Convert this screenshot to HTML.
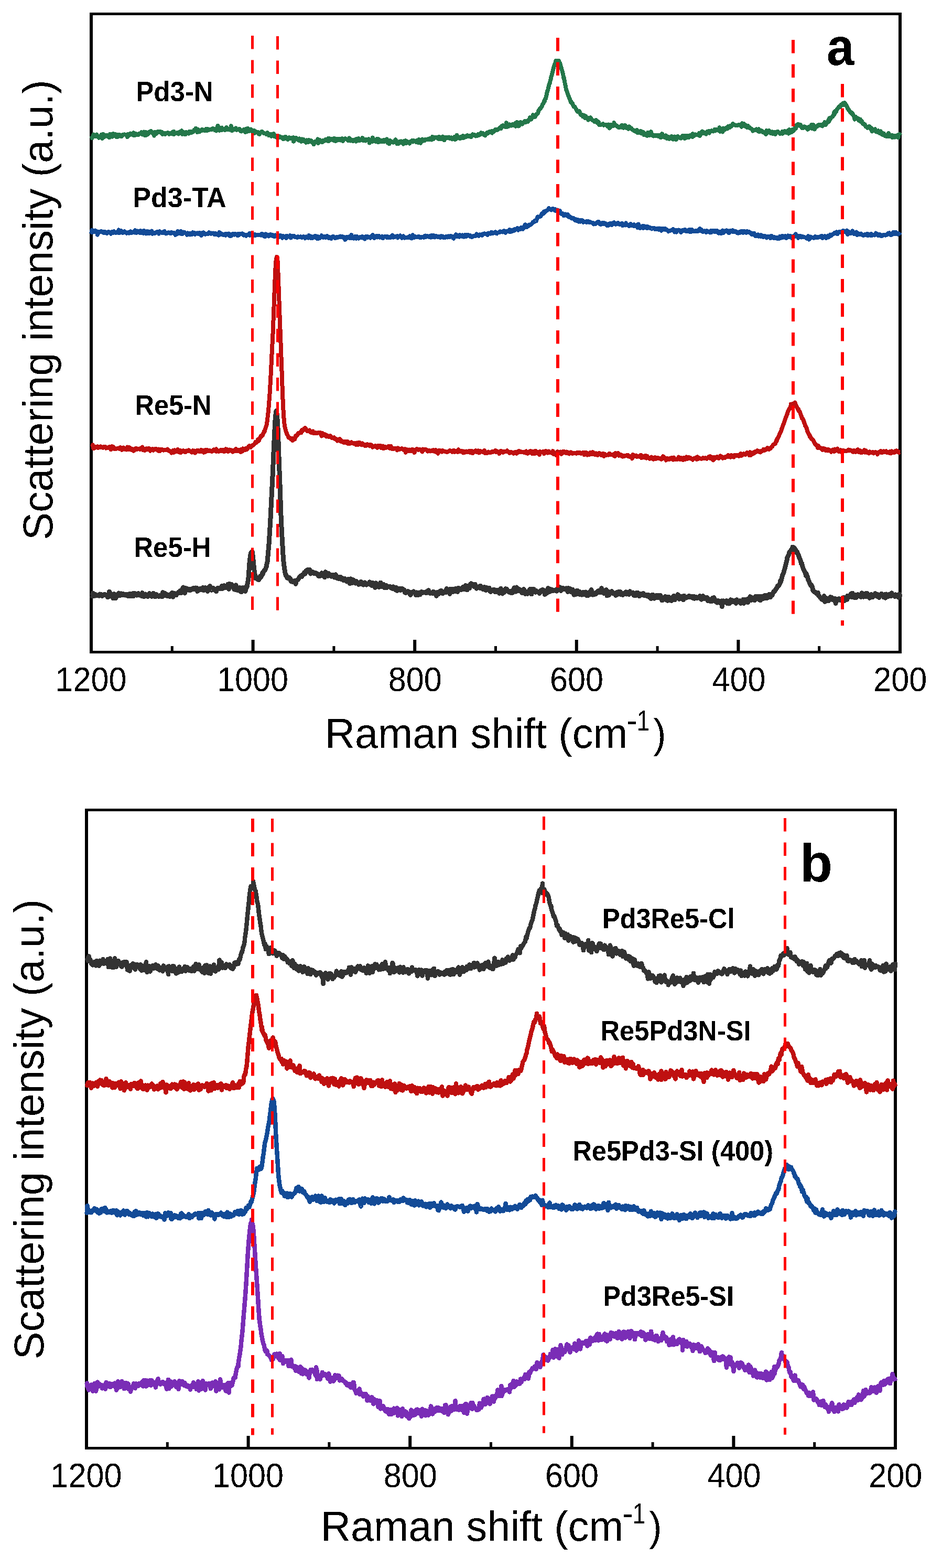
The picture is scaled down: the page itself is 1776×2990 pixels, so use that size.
<!DOCTYPE html>
<html><head><meta charset="utf-8"><title>Raman spectra</title>
<style>html,body{margin:0;padding:0;background:#fff;} svg{display:block;}</style></head>
<body><svg width="1776" height="2990" viewBox="0 0 1776 2990">
<defs><filter id="crisp" x="-5%" y="-5%" width="110%" height="110%" color-interpolation-filters="sRGB"><feComponentTransfer><feFuncA type="discrete" tableValues="0 1"/></feComponentTransfer></filter></defs>
<rect width="1776" height="2990" fill="#fff"/>
<rect x="171" y="24" width="1549" height="5" fill="#000"/>
<rect x="171" y="1241" width="1549" height="5" fill="#000"/>
<rect x="171" y="24" width="6" height="1222" fill="#000"/>
<rect x="1714" y="24" width="6" height="1222" fill="#000"/>
<rect x="171.0" y="1220" width="6" height="21" fill="#000"/>
<rect x="479.6" y="1220" width="6" height="21" fill="#000"/>
<rect x="788.2" y="1220" width="6" height="21" fill="#000"/>
<rect x="1096.8" y="1220" width="6" height="21" fill="#000"/>
<rect x="1405.4" y="1220" width="6" height="21" fill="#000"/>
<rect x="1714.0" y="1220" width="6" height="21" fill="#000"/>
<rect x="325.8" y="1232" width="5" height="9" fill="#000"/>
<rect x="634.4" y="1232" width="5" height="9" fill="#000"/>
<rect x="943.0" y="1232" width="5" height="9" fill="#000"/>
<rect x="1251.6" y="1232" width="5" height="9" fill="#000"/>
<rect x="1560.2" y="1232" width="5" height="9" fill="#000"/>
<rect x="162" y="1542" width="1549" height="5" fill="#000"/>
<rect x="162" y="2759" width="1549" height="5" fill="#000"/>
<rect x="162" y="1542" width="6" height="1222" fill="#000"/>
<rect x="1705" y="1542" width="6" height="1222" fill="#000"/>
<rect x="162.0" y="2738" width="6" height="21" fill="#000"/>
<rect x="470.6" y="2738" width="6" height="21" fill="#000"/>
<rect x="779.2" y="2738" width="6" height="21" fill="#000"/>
<rect x="1087.8" y="2738" width="6" height="21" fill="#000"/>
<rect x="1396.4" y="2738" width="6" height="21" fill="#000"/>
<rect x="1705.0" y="2738" width="6" height="21" fill="#000"/>
<rect x="316.8" y="2750" width="5" height="9" fill="#000"/>
<rect x="625.4" y="2750" width="5" height="9" fill="#000"/>
<rect x="934.0" y="2750" width="5" height="9" fill="#000"/>
<rect x="1242.6" y="2750" width="5" height="9" fill="#000"/>
<rect x="1551.2" y="2750" width="5" height="9" fill="#000"/>
<polyline fill="none" stroke="#333333" stroke-width="9.0" stroke-linejoin="round" stroke-linecap="butt" shape-rendering="crispEdges" points="174.0,1135.3 175.5,1136.5 176.5,1135.3 177.0,1131.0 178.5,1136.8 180.0,1135.6 181.5,1133.1 183.0,1136.0 184.5,1135.5 186.0,1135.3 187.5,1134.7 189.0,1136.1 190.5,1132.9 192.0,1134.4 193.5,1133.7 195.0,1136.5 196.5,1135.1 198.0,1134.3 199.5,1133.2 201.0,1134.6 202.5,1135.3 204.0,1134.6 205.5,1138.7 207.0,1138.0 208.5,1128.4 210.0,1130.6 211.5,1135.0 213.0,1134.4 213.1,1136.1 214.5,1136.1 216.0,1141.0 217.5,1132.6 219.0,1134.5 220.5,1140.7 222.0,1137.0 223.5,1137.0 225.0,1134.0 226.5,1131.0 228.0,1135.6 229.5,1135.4 231.0,1131.9 232.5,1133.3 234.0,1134.8 235.5,1132.5 237.0,1134.6 238.5,1135.1 240.0,1134.8 241.5,1133.4 243.0,1136.2 244.5,1136.9 246.0,1135.4 247.5,1132.4 249.0,1136.4 250.5,1133.2 252.0,1136.7 253.5,1131.6 255.0,1136.8 256.3,1134.3 256.5,1131.2 258.0,1133.6 259.5,1134.6 261.0,1135.1 262.5,1131.9 264.0,1131.6 265.5,1135.0 267.0,1133.4 268.5,1135.2 270.0,1136.6 271.5,1130.5 273.0,1135.4 274.5,1138.0 276.0,1134.1 277.5,1132.9 279.0,1136.9 280.5,1135.7 282.0,1137.4 283.5,1134.3 285.0,1131.4 286.5,1135.0 288.0,1134.2 289.5,1137.4 291.0,1135.9 292.5,1131.2 294.0,1132.4 295.5,1137.8 297.0,1137.3 298.5,1133.8 299.4,1135.5 300.0,1136.7 301.5,1136.7 303.0,1137.7 304.5,1136.1 306.0,1135.2 307.5,1134.7 309.0,1138.0 310.5,1129.5 312.0,1134.8 313.5,1135.2 315.0,1131.4 316.5,1135.8 318.0,1133.2 319.5,1136.9 321.0,1134.3 322.5,1136.2 324.0,1137.4 325.5,1135.2 327.0,1131.9 328.5,1130.1 330.0,1138.1 331.5,1133.3 333.0,1131.7 333.9,1133.7 334.5,1132.7 336.0,1134.8 337.5,1132.3 339.0,1131.6 340.5,1129.2 342.0,1130.9 343.5,1126.7 345.0,1129.5 346.5,1130.5 348.0,1122.9 349.5,1120.0 351.0,1126.6 352.5,1131.1 353.3,1122.2 354.0,1121.5 355.5,1126.1 357.0,1122.3 358.5,1123.1 360.0,1123.4 361.5,1125.6 363.0,1123.2 364.5,1124.9 366.0,1123.7 367.5,1121.9 369.0,1123.2 370.5,1121.5 372.0,1124.0 373.5,1121.0 375.0,1121.1 376.5,1127.6 378.0,1123.7 379.5,1123.6 381.0,1125.1 382.5,1122.6 384.0,1123.1 385.5,1124.7 385.6,1124.3 387.0,1120.6 388.5,1125.7 390.0,1121.9 391.5,1120.7 393.0,1121.1 394.5,1122.3 396.0,1127.5 397.5,1120.3 399.0,1123.7 400.5,1117.7 402.0,1123.2 403.5,1125.5 405.0,1122.5 406.5,1121.4 408.0,1123.6 409.5,1124.7 411.0,1124.6 412.5,1127.9 414.0,1123.3 415.5,1121.1 417.0,1122.2 418.0,1122.3 418.5,1122.7 420.0,1122.1 421.5,1122.2 423.0,1117.4 424.5,1122.5 426.0,1118.6 427.5,1116.6 429.0,1119.9 430.5,1120.8 432.0,1118.3 433.5,1117.0 435.0,1114.0 436.5,1123.3 437.4,1118.3 438.0,1113.2 439.5,1114.6 441.0,1117.3 442.5,1114.8 444.0,1119.5 445.5,1119.3 447.0,1123.9 448.5,1124.2 450.0,1115.8 450.3,1122.6 451.5,1118.6 453.0,1125.6 454.5,1123.4 456.0,1124.5 457.5,1120.6 459.0,1128.0 460.5,1128.6 462.0,1120.8 463.5,1124.5 465.0,1121.9 465.4,1123.5 466.5,1120.4 468.0,1127.6 469.1,1120.7 469.5,1121.9 471.0,1119.4 472.5,1111.2 473.7,1104.4 474.0,1101.7 475.5,1080.3 476.0,1073.6 477.0,1064.2 478.3,1055.8 478.5,1054.9 480.0,1052.6 481.3,1052.5 481.5,1054.4 483.0,1067.1 484.3,1081.7 484.5,1082.9 486.0,1094.9 487.4,1099.3 487.5,1102.7 489.0,1100.6 490.5,1102.2 492.0,1105.3 493.5,1105.6 495.0,1103.1 496.5,1098.6 498.0,1100.3 499.5,1097.3 501.0,1091.8 501.1,1095.3 502.5,1090.6 504.0,1087.7 505.5,1087.2 507.0,1083.6 508.5,1079.6 508.7,1076.9 510.0,1071.9 511.5,1055.0 512.5,1043.0 513.0,1037.9 514.5,1014.9 515.5,998.2 516.0,988.8 517.5,958.5 517.8,952.6 519.0,928.9 520.1,907.1 520.5,897.9 522.0,862.4 522.4,853.7 523.5,829.3 524.6,807.9 525.0,801.3 526.0,790.5 526.5,785.4 527.3,783.0 528.0,788.0 528.5,791.2 529.5,806.0 530.0,815.6 531.0,841.3 532.2,876.3 532.5,884.3 534.0,923.6 534.5,936.7 535.5,969.6 536.0,982.8 537.0,1004.5 538.3,1028.9 538.5,1032.2 540.0,1058.2 540.6,1066.9 541.5,1075.7 543.0,1086.7 544.5,1094.7 545.2,1097.7 546.0,1096.9 547.5,1101.4 549.0,1102.8 550.5,1102.4 552.0,1101.8 553.5,1105.2 554.3,1104.2 555.0,1108.7 556.5,1107.5 558.0,1109.7 559.5,1108.8 561.0,1109.5 562.5,1107.2 563.4,1110.9 564.0,1113.5 565.5,1107.8 567.0,1106.1 568.5,1105.3 570.0,1102.8 571.5,1100.4 573.0,1100.0 574.5,1097.5 575.6,1099.9 576.0,1096.7 577.5,1095.9 579.0,1095.7 580.5,1091.8 582.0,1094.2 583.5,1088.8 585.0,1087.6 586.2,1088.5 586.5,1089.1 588.0,1086.1 589.5,1089.8 591.0,1086.4 592.5,1094.1 594.0,1091.4 595.5,1090.8 597.0,1090.9 598.5,1092.8 600.0,1093.8 601.5,1092.4 603.0,1093.0 604.5,1095.0 606.0,1094.3 607.5,1098.2 609.0,1098.8 610.5,1096.1 612.0,1097.3 613.5,1092.8 615.0,1097.9 616.5,1096.2 618.0,1097.6 619.5,1100.6 621.0,1090.7 622.5,1097.3 624.0,1094.0 625.5,1098.4 627.0,1093.7 628.5,1095.9 630.0,1097.9 631.5,1099.1 633.0,1098.1 634.5,1096.3 636.0,1097.3 637.5,1101.1 639.0,1099.3 640.5,1095.8 642.0,1102.2 643.5,1101.6 645.0,1103.2 646.5,1100.8 648.0,1104.0 649.5,1100.1 651.0,1104.4 652.5,1102.4 654.0,1105.6 655.5,1106.9 657.0,1103.2 658.5,1105.3 660.0,1105.9 661.5,1109.1 663.0,1108.4 664.5,1104.1 666.0,1108.5 667.4,1109.5 667.5,1112.9 669.0,1103.9 670.5,1107.0 672.0,1111.9 673.5,1105.6 675.0,1106.3 676.5,1110.7 678.0,1112.2 679.5,1108.4 681.0,1111.6 682.5,1110.8 684.0,1114.5 685.5,1111.0 687.0,1113.7 688.5,1109.3 690.0,1111.3 691.5,1111.8 693.0,1115.1 694.5,1113.9 696.0,1110.9 697.5,1114.6 699.0,1115.1 700.5,1113.1 702.0,1113.0 703.5,1113.4 705.0,1109.9 706.5,1114.8 707.8,1115.1 708.0,1112.4 709.5,1116.6 711.0,1111.5 712.5,1113.8 714.0,1114.2 715.5,1120.5 717.0,1111.8 718.5,1117.3 720.0,1118.5 721.5,1117.2 723.0,1119.4 724.5,1114.2 726.0,1111.1 727.5,1118.9 729.0,1114.2 730.5,1116.6 732.0,1114.6 733.5,1120.4 735.0,1120.1 736.5,1116.3 738.0,1120.6 739.5,1118.9 741.0,1118.4 742.5,1119.1 744.0,1118.7 745.5,1121.0 747.0,1120.5 748.2,1119.0 748.5,1122.4 750.0,1118.8 751.5,1121.3 753.0,1121.9 754.5,1124.8 756.0,1120.5 757.5,1126.3 759.0,1123.1 760.5,1122.7 762.0,1122.0 763.5,1125.5 765.0,1124.7 766.5,1122.5 768.0,1122.9 769.5,1124.8 771.0,1124.9 772.5,1129.6 774.0,1130.7 775.5,1129.9 777.0,1129.1 778.5,1127.5 780.0,1129.0 781.5,1131.3 783.0,1134.7 784.5,1131.9 786.0,1129.0 787.5,1129.9 788.7,1128.5 789.0,1127.8 790.5,1129.3 792.0,1130.3 793.5,1134.6 795.0,1129.9 796.5,1133.3 798.0,1134.4 799.5,1130.0 801.0,1134.0 802.5,1131.7 804.0,1128.7 805.5,1130.5 807.0,1129.9 808.5,1129.2 810.0,1129.3 811.5,1130.2 813.0,1130.9 814.5,1127.5 816.0,1129.8 817.5,1125.8 819.0,1130.5 820.5,1131.4 822.0,1130.2 823.5,1130.5 825.0,1131.3 826.5,1128.1 828.0,1129.2 829.1,1131.1 829.5,1132.4 831.0,1130.8 832.5,1136.3 834.0,1129.5 835.5,1132.2 837.0,1132.8 838.5,1129.1 840.0,1127.2 841.5,1126.2 843.0,1129.5 844.5,1131.7 846.0,1129.4 847.5,1129.0 849.0,1127.4 850.5,1129.6 852.0,1122.6 853.5,1128.3 855.0,1127.6 856.5,1123.9 858.0,1132.5 859.5,1123.4 861.0,1124.0 862.5,1123.4 864.0,1128.9 865.5,1123.7 867.0,1127.3 868.5,1126.9 869.5,1125.9 870.0,1122.0 871.5,1123.5 873.0,1128.7 874.5,1121.2 876.0,1121.9 877.5,1123.1 879.0,1125.0 880.5,1123.2 882.0,1123.9 883.5,1119.2 885.0,1123.4 886.5,1122.1 888.0,1116.5 889.5,1123.5 891.0,1124.9 892.5,1117.2 894.0,1118.8 895.5,1121.7 897.0,1114.4 898.5,1112.8 900.0,1114.3 901.5,1115.9 903.0,1115.8 904.5,1118.8 904.6,1117.9 906.0,1114.1 907.5,1118.8 909.0,1122.2 910.5,1120.7 912.0,1120.5 913.5,1118.6 915.0,1121.3 916.5,1117.1 918.0,1121.6 919.5,1120.2 921.0,1123.5 922.5,1122.5 924.0,1119.4 925.5,1122.8 927.0,1125.8 928.5,1120.8 930.0,1122.6 931.5,1122.5 933.0,1121.0 934.5,1127.3 936.0,1128.5 936.9,1127.3 937.5,1126.0 939.0,1125.4 940.5,1126.3 942.0,1124.0 943.5,1128.2 945.0,1128.8 946.5,1128.6 948.0,1125.1 949.5,1126.8 951.0,1126.3 952.5,1131.4 954.0,1127.4 955.5,1122.3 957.0,1128.2 958.5,1132.1 960.0,1129.1 961.5,1129.7 963.0,1127.7 964.5,1122.6 966.0,1123.1 967.5,1124.6 969.0,1127.5 970.5,1128.7 972.0,1129.7 973.5,1127.1 975.0,1130.5 976.5,1127.3 977.4,1126.2 978.0,1130.2 979.5,1125.6 981.0,1120.9 982.5,1125.2 984.0,1128.2 985.5,1119.9 987.0,1126.9 988.5,1127.0 990.0,1124.1 991.5,1123.9 993.0,1126.5 994.5,1126.2 996.0,1130.8 997.5,1128.5 999.0,1123.4 1000.0,1125.3 1000.5,1129.3 1002.0,1132.4 1003.5,1128.4 1005.0,1128.2 1006.5,1132.2 1008.0,1127.3 1009.5,1126.5 1011.0,1123.6 1012.5,1125.9 1014.0,1132.9 1015.5,1123.5 1017.0,1127.2 1018.5,1123.5 1020.0,1127.5 1021.5,1129.4 1023.0,1126.4 1024.5,1128.9 1026.0,1128.9 1027.5,1128.1 1029.0,1131.4 1030.5,1128.9 1032.0,1126.1 1033.5,1125.1 1035.0,1124.6 1036.5,1128.0 1038.0,1125.9 1039.5,1133.6 1040.4,1131.3 1041.0,1126.0 1042.5,1125.7 1044.0,1130.7 1045.5,1121.5 1047.0,1125.0 1048.5,1128.3 1050.0,1123.5 1051.5,1124.4 1053.0,1124.5 1054.5,1126.9 1056.0,1125.4 1057.5,1125.8 1059.0,1126.1 1060.5,1124.6 1062.0,1127.1 1063.5,1122.4 1065.0,1120.4 1066.5,1119.5 1068.0,1119.8 1069.5,1122.5 1070.1,1126.6 1071.0,1124.4 1072.5,1122.5 1074.0,1121.5 1075.5,1123.0 1077.0,1123.6 1078.5,1123.6 1080.0,1121.8 1081.5,1124.5 1083.0,1128.5 1084.5,1121.4 1086.0,1126.4 1087.5,1122.5 1089.0,1128.4 1090.5,1126.7 1092.0,1124.0 1093.5,1129.6 1095.0,1134.1 1096.5,1130.5 1098.0,1133.4 1099.5,1130.8 1101.0,1126.0 1102.5,1132.8 1104.0,1130.7 1105.5,1128.2 1107.0,1134.0 1107.8,1132.7 1108.5,1130.6 1110.0,1134.2 1111.5,1129.7 1113.0,1133.6 1114.5,1129.5 1116.0,1133.3 1117.5,1129.0 1119.0,1135.7 1120.5,1132.5 1122.0,1135.4 1123.5,1129.6 1125.0,1130.4 1126.5,1133.8 1128.0,1124.5 1129.5,1128.8 1131.0,1134.1 1132.5,1132.6 1134.0,1133.8 1135.5,1130.5 1137.0,1132.7 1138.5,1129.3 1140.0,1127.6 1141.5,1126.7 1143.0,1129.6 1144.5,1129.5 1146.0,1129.3 1147.5,1121.7 1149.0,1125.6 1150.5,1129.4 1152.0,1131.5 1153.5,1129.2 1155.0,1128.4 1156.5,1124.7 1158.0,1135.9 1159.5,1127.7 1161.0,1135.0 1161.7,1134.7 1162.5,1131.3 1164.0,1129.1 1165.5,1131.0 1167.0,1127.7 1168.5,1131.3 1170.0,1130.7 1171.5,1132.1 1173.0,1133.2 1174.5,1135.3 1176.0,1129.9 1177.5,1133.6 1179.0,1128.9 1180.5,1128.7 1182.0,1129.5 1183.5,1128.7 1185.0,1133.8 1186.5,1133.7 1188.0,1134.7 1189.5,1131.4 1191.0,1132.3 1192.5,1130.2 1194.0,1128.8 1195.5,1133.0 1197.0,1132.6 1198.5,1129.2 1200.0,1133.6 1201.5,1127.8 1203.0,1131.9 1204.5,1130.9 1206.0,1131.2 1207.5,1129.9 1209.0,1135.2 1210.5,1134.4 1212.0,1136.0 1213.5,1133.5 1215.0,1130.0 1215.6,1132.3 1216.5,1130.4 1218.0,1134.6 1219.5,1136.7 1221.0,1134.6 1222.5,1132.5 1224.0,1133.3 1225.5,1135.0 1227.0,1131.2 1228.5,1135.4 1230.0,1135.8 1231.5,1134.2 1233.0,1134.8 1234.5,1136.6 1236.0,1134.5 1237.5,1134.8 1239.0,1139.0 1240.5,1137.9 1242.0,1141.8 1243.5,1135.6 1245.0,1134.0 1246.5,1140.9 1248.0,1141.2 1249.5,1137.4 1251.0,1135.8 1252.5,1139.6 1254.0,1135.6 1255.5,1139.3 1257.0,1135.0 1258.5,1140.0 1260.0,1135.4 1261.5,1140.3 1263.0,1144.9 1264.5,1140.5 1266.0,1143.2 1267.5,1139.6 1269.0,1139.0 1269.5,1137.4 1270.5,1144.0 1272.0,1141.1 1273.5,1145.4 1275.0,1138.2 1276.5,1140.6 1278.0,1141.3 1279.5,1144.7 1281.0,1145.6 1282.5,1139.2 1284.0,1137.9 1285.5,1136.3 1287.0,1144.0 1288.5,1140.3 1290.0,1138.8 1291.5,1140.2 1293.0,1133.7 1294.5,1135.7 1296.0,1142.3 1297.5,1140.8 1299.0,1140.1 1300.5,1137.1 1302.0,1141.0 1303.5,1143.9 1305.0,1136.2 1306.5,1139.2 1308.0,1138.0 1309.5,1139.9 1311.0,1139.0 1312.5,1138.5 1314.0,1136.5 1315.5,1138.7 1317.0,1137.1 1318.5,1138.2 1320.0,1138.4 1321.5,1140.3 1323.0,1137.0 1323.5,1137.7 1324.5,1141.3 1326.0,1138.0 1327.5,1138.0 1329.0,1141.0 1330.5,1139.6 1332.0,1139.3 1333.5,1139.8 1335.0,1136.4 1336.5,1140.8 1338.0,1143.2 1339.5,1141.6 1341.0,1136.7 1342.5,1141.5 1344.0,1138.9 1345.5,1140.8 1347.0,1142.0 1348.5,1139.1 1350.0,1145.6 1351.5,1142.5 1353.0,1144.9 1354.5,1144.9 1356.0,1146.9 1357.5,1146.9 1359.0,1140.7 1360.5,1144.7 1362.0,1139.7 1363.5,1144.1 1365.0,1147.2 1366.5,1147.9 1368.0,1149.1 1369.5,1145.1 1371.0,1147.1 1372.5,1146.7 1374.0,1149.8 1375.5,1150.7 1377.0,1145.8 1377.4,1156.5 1378.5,1146.7 1380.0,1145.8 1381.5,1148.4 1383.0,1148.8 1384.5,1148.3 1386.0,1145.3 1387.5,1150.8 1389.0,1147.2 1390.5,1151.0 1392.0,1150.7 1393.5,1143.8 1395.0,1144.6 1396.5,1144.5 1398.0,1147.8 1399.5,1147.3 1400.0,1147.8 1401.0,1145.0 1402.5,1148.2 1404.0,1150.6 1405.5,1143.6 1407.0,1146.3 1408.5,1147.3 1410.0,1146.2 1411.5,1145.8 1413.0,1150.5 1414.5,1149.0 1416.0,1147.7 1417.5,1143.5 1419.0,1150.6 1420.5,1145.8 1422.0,1143.2 1423.5,1143.5 1425.0,1142.9 1426.5,1149.0 1428.0,1144.1 1429.5,1143.5 1431.0,1137.7 1432.3,1144.7 1432.5,1140.2 1434.0,1139.8 1435.5,1143.9 1437.0,1140.1 1438.5,1144.1 1440.0,1144.7 1441.5,1137.2 1443.0,1141.1 1444.5,1137.4 1446.0,1141.0 1447.5,1143.2 1449.0,1137.3 1450.5,1145.0 1452.0,1139.5 1453.5,1137.1 1455.0,1139.4 1456.5,1141.4 1458.0,1135.8 1459.5,1138.8 1461.0,1135.2 1462.5,1141.0 1464.0,1138.0 1464.7,1136.5 1465.5,1139.6 1467.0,1133.7 1468.5,1134.8 1470.0,1138.5 1471.5,1133.3 1473.0,1135.0 1474.5,1131.2 1476.0,1128.0 1477.5,1127.4 1477.6,1127.9 1479.0,1125.4 1480.5,1122.8 1482.0,1120.8 1483.5,1117.3 1485.0,1117.4 1486.5,1115.1 1488.0,1112.6 1488.4,1107.8 1489.5,1109.1 1491.0,1103.8 1492.5,1097.3 1494.0,1094.3 1494.9,1092.2 1495.5,1089.7 1497.0,1084.3 1498.5,1078.6 1500.0,1072.8 1501.3,1067.3 1501.5,1064.1 1503.0,1061.1 1504.5,1058.0 1506.0,1052.9 1507.5,1051.8 1507.8,1051.6 1509.0,1048.6 1510.5,1050.2 1512.0,1043.2 1513.2,1047.4 1513.5,1043.8 1515.0,1044.2 1516.5,1048.5 1518.0,1048.7 1519.5,1053.7 1520.8,1052.5 1521.0,1054.9 1522.5,1056.6 1524.0,1061.2 1525.5,1065.1 1527.0,1068.3 1528.5,1074.8 1529.4,1074.3 1530.0,1076.1 1531.5,1082.3 1533.0,1085.8 1534.5,1088.7 1536.0,1091.5 1537.5,1097.7 1538.0,1093.7 1539.0,1096.7 1540.5,1099.9 1542.0,1106.2 1543.5,1108.8 1545.0,1113.4 1546.5,1116.2 1546.6,1114.5 1548.0,1116.2 1549.5,1118.7 1551.0,1126.6 1552.5,1127.1 1554.0,1128.8 1555.5,1129.3 1557.0,1131.3 1557.4,1131.4 1558.5,1132.5 1560.0,1130.0 1561.5,1136.0 1563.0,1136.8 1564.5,1139.4 1566.0,1140.4 1567.5,1142.8 1569.0,1141.8 1570.5,1144.3 1572.0,1136.5 1572.5,1140.1 1573.5,1147.3 1575.0,1140.0 1576.5,1142.5 1578.0,1145.1 1579.5,1141.2 1581.0,1145.4 1582.5,1140.0 1584.0,1138.8 1585.5,1140.4 1587.0,1139.6 1588.5,1143.8 1590.0,1143.1 1591.5,1144.8 1593.0,1141.3 1594.1,1150.6 1594.5,1143.7 1596.0,1143.8 1597.5,1144.9 1599.0,1142.9 1600.5,1141.7 1602.0,1143.1 1603.5,1144.7 1605.0,1143.7 1606.5,1144.0 1608.0,1140.0 1609.5,1139.1 1611.0,1145.4 1612.5,1139.6 1614.0,1141.1 1615.5,1141.5 1615.6,1143.2 1617.0,1136.1 1618.5,1138.1 1620.0,1138.0 1621.5,1138.1 1623.0,1132.6 1624.5,1138.2 1626.0,1131.0 1627.5,1138.8 1629.0,1139.1 1630.5,1139.1 1632.0,1134.4 1633.5,1139.6 1635.0,1134.9 1636.5,1133.8 1638.0,1134.2 1639.5,1134.4 1641.0,1136.8 1642.5,1138.3 1644.0,1130.8 1645.5,1134.6 1647.0,1138.1 1648.5,1136.3 1650.0,1136.9 1651.5,1131.7 1653.0,1138.0 1654.5,1131.4 1656.0,1135.9 1657.5,1138.9 1658.8,1140.3 1659.0,1136.7 1660.5,1137.7 1662.0,1133.8 1663.5,1134.1 1665.0,1138.4 1666.5,1135.4 1668.0,1135.1 1669.5,1131.7 1671.0,1135.8 1672.5,1137.1 1674.0,1133.3 1675.5,1134.1 1677.0,1139.5 1678.5,1135.9 1680.0,1134.6 1681.5,1132.4 1683.0,1133.8 1684.5,1134.8 1686.0,1139.0 1687.5,1133.8 1689.0,1140.1 1690.5,1133.0 1692.0,1134.5 1693.5,1137.6 1695.0,1134.8 1696.5,1133.2 1698.0,1135.1 1699.5,1136.6 1701.0,1130.9 1702.5,1134.8 1704.0,1135.1 1705.5,1134.4 1707.0,1137.3 1708.5,1133.9 1710.0,1134.5 1710.5,1135.5 1711.5,1137.3 1713.0,1134.8 1714.5,1139.3 1716.0,1133.0 1717.0,1138.7"/>
<polyline fill="none" stroke="#BF1010" stroke-width="8.0" stroke-linejoin="round" stroke-linecap="butt" shape-rendering="crispEdges" points="174.0,852.5 175.5,851.4 176.0,851.5 177.0,848.3 178.5,855.1 180.0,854.1 181.5,851.7 183.0,853.5 184.5,852.8 186.0,851.5 187.5,854.0 189.0,852.0 190.5,852.0 192.0,851.4 193.5,853.4 195.0,852.6 196.5,853.7 198.0,852.0 199.5,853.3 201.0,851.8 202.5,854.6 204.0,853.7 205.5,854.0 207.0,854.2 208.5,852.1 210.0,855.0 211.5,857.1 213.0,851.4 214.5,851.4 216.0,851.8 217.5,855.6 219.0,854.6 220.5,856.2 222.0,855.7 223.5,855.0 225.0,855.2 226.5,854.5 228.0,856.2 229.5,853.2 230.6,854.3 231.0,855.4 232.5,857.9 234.0,853.9 235.5,853.5 237.0,854.4 238.5,856.8 240.0,855.0 241.5,857.5 243.0,852.5 244.5,857.3 246.0,857.2 247.5,853.4 249.0,855.9 250.5,857.7 252.0,855.9 253.5,857.4 255.0,859.7 256.5,856.4 258.0,855.5 259.5,854.8 261.0,857.1 262.5,855.8 264.0,855.9 265.5,856.1 267.0,857.3 268.5,854.7 270.0,854.0 271.5,852.6 273.0,858.4 274.5,856.7 276.0,859.0 277.5,856.6 279.0,855.5 280.5,857.5 282.0,856.7 283.5,854.9 285.0,855.5 286.5,859.8 288.0,857.6 289.5,857.8 291.0,856.8 291.3,856.1 292.5,858.7 294.0,857.2 295.5,856.2 297.0,857.3 298.5,856.2 300.0,858.0 301.5,859.5 303.0,856.6 304.5,860.2 306.0,857.0 307.5,858.4 309.0,857.0 310.5,858.1 312.0,858.6 313.5,857.9 315.0,857.6 316.5,857.8 318.0,857.7 319.5,856.6 321.0,858.8 322.5,859.9 324.0,860.8 325.5,860.5 327.0,863.5 328.5,860.2 330.0,859.1 331.5,862.8 333.0,858.3 334.5,861.6 336.0,858.7 337.5,860.8 339.0,857.2 340.5,861.8 342.0,860.2 343.5,858.9 345.0,863.2 346.5,861.8 348.0,860.6 349.5,859.4 351.0,860.5 351.9,860.3 352.5,861.8 354.0,861.9 355.5,859.5 357.0,859.7 358.5,859.7 360.0,858.4 361.5,859.6 363.0,860.4 364.5,861.6 366.0,862.6 367.5,859.2 369.0,861.3 370.5,859.7 372.0,863.7 373.5,860.3 375.0,861.2 376.5,858.9 378.0,859.0 379.5,860.6 381.0,859.6 382.5,860.8 384.0,857.7 385.5,861.2 387.0,858.7 388.5,862.8 390.0,859.6 391.5,861.8 393.0,857.8 394.5,860.6 396.0,858.5 397.5,859.1 399.0,859.9 400.5,859.3 402.0,860.2 403.5,861.0 405.0,860.8 406.5,859.6 408.0,857.5 409.5,858.4 411.0,859.3 412.5,856.2 412.6,860.8 414.0,859.2 415.5,859.2 417.0,861.0 418.5,860.6 420.0,859.8 421.5,857.9 423.0,860.0 424.5,860.0 426.0,858.0 427.5,861.1 429.0,860.2 430.5,856.2 432.0,859.6 433.5,857.3 435.0,861.1 436.5,860.6 438.0,857.5 439.5,857.9 441.0,859.4 442.5,858.9 444.0,861.6 445.5,860.4 447.0,858.7 448.5,860.0 450.0,855.9 451.5,859.6 453.0,860.4 454.5,858.7 456.0,857.8 457.5,859.8 459.0,861.9 460.0,859.1 460.5,857.0 462.0,860.8 463.5,855.5 465.0,858.6 466.5,856.6 468.0,858.1 469.5,855.0 471.0,857.2 472.5,855.0 474.0,851.5 475.5,850.3 477.0,851.7 478.5,852.9 479.2,851.0 480.0,850.4 481.5,849.0 483.0,849.1 484.5,847.4 486.0,846.0 487.5,843.0 489.0,844.1 490.5,842.8 492.0,838.1 493.5,840.8 495.0,837.3 496.5,834.3 498.0,830.9 499.5,831.9 501.0,829.6 502.5,826.0 504.0,822.0 504.8,823.0 505.5,819.8 507.0,814.9 508.5,810.4 509.6,803.9 510.0,800.8 511.5,787.6 512.8,774.2 513.0,770.9 514.5,750.9 516.0,725.8 517.5,696.3 518.4,677.7 519.0,666.4 520.5,636.7 520.8,630.0 522.0,598.7 523.2,565.9 523.5,558.2 525.0,520.8 525.6,509.9 526.5,497.6 527.0,492.9 528.0,489.8 529.0,490.5 529.5,496.9 530.4,517.9 531.0,532.2 532.5,574.1 532.8,582.1 534.0,613.9 535.2,645.9 535.5,654.0 537.0,693.8 537.6,710.1 538.5,735.8 540.0,773.9 541.5,797.3 543.0,812.6 543.2,813.2 544.5,818.6 546.0,823.9 547.5,827.7 549.0,830.5 549.6,831.7 550.5,834.4 552.0,835.1 553.5,835.1 555.0,837.5 556.5,836.4 558.0,840.0 559.2,838.9 559.5,835.9 561.0,838.4 562.5,837.0 564.0,831.3 565.5,831.5 567.0,829.8 568.5,826.4 568.8,827.1 570.0,826.1 571.5,826.1 573.0,824.2 574.5,825.3 576.0,820.3 577.5,821.2 579.0,819.1 580.0,819.2 580.5,817.0 582.0,816.0 583.5,818.1 585.0,820.7 586.5,822.4 588.0,821.5 589.5,821.9 591.0,820.6 592.5,824.6 594.0,824.9 595.5,822.7 596.0,823.5 597.0,822.4 598.5,826.4 600.0,825.3 601.5,824.9 603.0,826.1 604.5,826.5 606.0,825.6 607.5,824.8 609.0,825.1 610.5,824.8 612.0,828.5 613.5,831.4 615.0,826.1 616.5,829.2 618.0,830.0 619.5,828.4 620.0,830.3 621.0,828.7 622.5,832.5 624.0,830.4 625.5,832.0 627.0,833.3 628.5,832.2 630.0,830.7 631.5,833.0 633.0,835.4 634.5,834.7 636.0,835.6 637.5,834.3 639.0,836.5 640.5,837.9 642.0,837.4 643.5,840.6 645.0,838.1 646.5,837.4 648.0,837.0 649.5,841.5 651.0,840.2 652.5,842.3 654.0,841.9 655.5,844.0 657.0,843.9 658.5,841.9 660.0,843.3 661.5,844.9 663.0,841.8 664.5,846.1 666.0,846.1 667.4,846.0 667.5,844.2 669.0,845.2 670.5,843.3 672.0,845.4 673.5,844.6 675.0,845.9 676.5,845.2 678.0,846.6 679.5,848.2 681.0,844.6 682.5,848.2 684.0,843.9 685.5,843.9 687.0,847.2 688.5,847.6 690.0,848.4 691.5,845.4 693.0,848.0 694.5,848.4 696.0,850.3 697.5,848.4 699.0,849.5 700.5,847.4 702.0,848.7 703.5,848.5 705.0,850.4 706.5,848.0 708.0,848.4 709.5,850.7 711.0,852.8 712.5,850.8 714.0,850.8 715.5,850.0 717.0,852.4 718.5,851.7 720.0,853.7 721.3,851.7 721.5,849.8 723.0,850.5 724.5,850.1 726.0,849.9 727.5,854.0 729.0,853.5 730.5,850.6 732.0,855.4 733.5,853.3 735.0,851.7 736.5,853.9 738.0,853.5 739.5,852.6 741.0,851.1 742.5,854.3 744.0,854.9 745.5,850.8 747.0,855.8 748.5,856.1 750.0,854.6 751.5,855.7 753.0,855.3 754.5,854.7 756.0,855.6 757.5,858.4 759.0,854.3 760.5,857.1 762.0,857.2 763.5,856.0 765.0,856.5 766.5,855.2 768.0,856.2 769.5,857.6 771.0,858.2 772.5,856.4 774.0,862.7 775.2,857.1 775.5,858.2 777.0,857.7 778.5,857.5 780.0,860.3 781.5,857.6 783.0,860.5 784.5,860.2 786.0,856.9 787.5,860.2 789.0,857.6 790.5,863.0 792.0,858.1 793.5,857.3 795.0,855.8 796.5,856.8 798.0,858.0 799.5,857.4 801.0,857.1 802.5,858.0 804.0,858.8 805.5,861.5 807.0,856.5 808.5,858.4 810.0,857.8 811.5,856.9 813.0,857.4 814.5,858.0 816.0,860.6 817.5,859.2 819.0,858.7 820.5,860.5 822.0,860.0 823.5,859.3 825.0,860.3 826.5,858.4 828.0,860.8 829.1,860.5 829.5,859.2 831.0,857.9 832.5,862.3 834.0,860.1 835.5,864.8 837.0,859.0 838.5,861.4 840.0,859.4 841.5,860.6 843.0,861.5 844.5,859.0 846.0,860.1 847.5,860.6 849.0,860.6 850.5,861.4 852.0,862.1 853.5,861.8 855.0,861.0 856.5,860.1 858.0,858.9 859.5,859.5 861.0,859.9 862.5,861.9 864.0,860.2 865.5,858.9 867.0,861.9 868.5,859.7 870.0,859.8 871.5,860.6 873.0,861.8 874.5,857.3 876.0,859.3 877.5,861.4 879.0,860.6 880.5,859.8 882.0,860.4 883.5,863.5 885.0,860.6 886.5,862.5 888.0,862.6 889.5,860.7 891.0,862.1 892.5,860.7 894.0,860.5 895.5,859.7 896.5,862.9 897.0,860.9 898.5,860.6 900.0,859.7 901.5,864.4 903.0,862.8 904.5,861.4 906.0,860.5 907.5,859.2 909.0,862.1 910.5,862.1 912.0,859.4 913.5,863.5 915.0,862.9 916.5,860.2 918.0,860.8 919.5,861.1 921.0,862.0 922.5,861.5 924.0,859.2 925.5,864.1 927.0,862.3 928.5,863.8 930.0,863.8 931.5,861.5 933.0,862.4 934.5,863.0 936.0,863.1 937.5,861.6 939.0,860.9 940.5,862.0 942.0,860.6 943.5,861.1 945.0,858.7 946.5,862.1 948.0,860.3 949.5,861.1 950.4,861.9 951.0,862.5 952.5,865.0 954.0,862.4 955.5,859.8 957.0,862.3 958.5,861.1 960.0,862.7 961.5,861.0 963.0,861.0 964.5,861.3 966.0,861.2 967.5,859.3 969.0,861.1 970.5,862.2 972.0,864.1 973.5,861.8 975.0,861.7 976.5,863.2 978.0,863.1 979.5,864.8 981.0,863.2 982.5,862.3 984.0,864.5 985.5,864.8 987.0,861.6 988.5,862.6 990.0,859.7 991.5,861.8 993.0,861.0 994.5,862.1 996.0,861.7 997.5,862.2 999.0,862.3 1000.0,863.3 1000.5,862.9 1002.0,861.6 1003.5,860.5 1005.0,864.5 1006.5,864.8 1008.0,861.9 1009.5,863.5 1011.0,860.2 1012.5,860.1 1014.0,862.2 1015.5,865.0 1017.0,861.0 1018.5,861.3 1020.0,865.2 1021.5,859.7 1023.0,863.7 1024.5,863.5 1026.0,862.4 1027.5,863.0 1029.0,866.9 1030.5,861.0 1032.0,862.3 1033.5,862.4 1035.0,861.7 1036.5,860.7 1038.0,865.4 1039.5,863.2 1041.0,860.0 1042.5,861.7 1044.0,863.5 1045.5,863.5 1047.0,860.6 1048.5,862.8 1050.0,863.3 1051.5,863.6 1053.0,863.6 1054.5,860.1 1056.0,865.9 1057.5,863.3 1059.0,865.9 1060.5,867.6 1062.0,862.8 1063.5,861.1 1065.0,864.5 1066.5,862.8 1068.0,862.4 1069.5,861.5 1071.0,865.8 1072.5,862.5 1074.0,861.0 1075.5,862.5 1077.0,861.4 1078.5,863.5 1080.0,862.6 1080.9,861.6 1081.5,864.3 1083.0,862.3 1084.5,864.5 1086.0,865.4 1087.5,862.9 1089.0,862.4 1090.5,863.8 1092.0,865.0 1093.5,863.6 1095.0,863.8 1096.5,863.6 1098.0,864.2 1099.5,864.8 1101.0,862.7 1102.5,863.1 1104.0,864.0 1105.5,862.9 1107.0,864.3 1108.5,864.9 1110.0,864.1 1111.5,863.3 1113.0,863.1 1114.5,867.1 1116.0,865.8 1117.5,862.7 1119.0,863.2 1120.5,867.6 1122.0,867.1 1123.5,865.0 1125.0,866.7 1126.5,862.6 1128.0,865.0 1129.5,866.2 1131.0,862.2 1132.5,864.0 1134.0,866.5 1135.5,867.2 1137.0,864.5 1138.5,866.0 1140.0,868.1 1141.5,865.1 1143.0,863.7 1144.5,865.8 1146.0,865.3 1147.5,868.1 1149.0,866.4 1150.5,864.9 1152.0,870.0 1153.5,865.6 1155.0,867.2 1156.5,867.6 1158.0,867.8 1159.5,867.0 1161.0,867.7 1161.7,866.7 1162.5,864.6 1164.0,866.6 1165.5,866.7 1167.0,866.8 1168.5,867.4 1170.0,866.3 1171.5,869.5 1173.0,870.0 1174.5,864.2 1176.0,867.7 1177.5,866.7 1179.0,863.9 1180.5,868.7 1182.0,867.2 1183.5,867.7 1185.0,867.4 1186.5,870.2 1188.0,870.6 1189.5,869.2 1191.0,870.0 1192.5,868.9 1194.0,869.4 1195.5,868.1 1197.0,869.5 1198.5,868.4 1200.0,870.2 1201.5,871.1 1203.0,870.4 1204.5,871.9 1206.0,874.4 1207.5,867.0 1209.0,870.4 1210.5,869.7 1212.0,870.0 1213.5,868.7 1215.0,871.0 1216.5,870.6 1218.0,870.2 1219.5,870.9 1221.0,870.5 1222.5,867.9 1224.0,873.3 1225.5,871.3 1227.0,870.4 1228.5,872.4 1230.0,871.0 1231.5,868.7 1233.0,873.6 1234.5,869.7 1236.0,872.1 1237.5,872.7 1239.0,874.7 1240.5,874.6 1242.0,873.0 1242.6,871.6 1243.5,872.2 1245.0,874.6 1246.5,875.8 1248.0,873.9 1249.5,872.1 1251.0,874.9 1252.5,872.7 1254.0,872.8 1255.5,873.0 1257.0,874.5 1258.5,874.1 1260.0,875.3 1261.5,875.8 1263.0,874.7 1264.5,870.3 1266.0,871.3 1267.5,874.3 1269.0,874.1 1270.5,877.6 1272.0,874.2 1273.5,874.1 1275.0,875.9 1276.5,876.2 1278.0,874.2 1279.5,875.3 1281.0,872.8 1282.5,873.2 1284.0,876.7 1285.5,872.5 1287.0,876.3 1288.5,875.9 1290.0,876.1 1291.5,876.3 1293.0,875.8 1294.5,871.5 1296.0,873.3 1296.5,873.9 1297.5,876.4 1299.0,873.1 1300.5,873.8 1302.0,874.3 1303.5,877.0 1305.0,872.5 1306.5,872.7 1308.0,875.8 1309.5,871.4 1311.0,875.3 1312.5,874.0 1314.0,872.2 1315.5,874.0 1317.0,873.0 1318.5,874.8 1320.0,875.1 1321.5,876.8 1323.0,874.4 1324.5,874.5 1326.0,873.4 1327.5,874.2 1329.0,875.8 1330.5,871.1 1332.0,875.1 1333.5,873.2 1335.0,874.1 1336.5,874.4 1338.0,875.2 1339.5,874.1 1341.0,873.1 1342.5,874.1 1344.0,873.6 1345.5,873.2 1347.0,873.8 1348.5,874.8 1350.0,873.5 1350.4,873.5 1351.5,871.2 1353.0,873.0 1354.5,870.2 1356.0,874.2 1357.5,871.5 1359.0,874.9 1360.5,877.5 1362.0,872.1 1363.5,874.7 1365.0,873.2 1366.5,871.6 1368.0,871.0 1369.5,873.1 1371.0,874.3 1372.5,872.6 1374.0,869.5 1375.5,870.2 1377.0,871.3 1378.5,873.7 1380.0,871.9 1381.5,871.8 1383.0,873.0 1384.5,870.7 1386.0,870.8 1387.5,870.5 1389.0,867.9 1390.5,871.2 1392.0,871.0 1393.5,871.7 1395.0,868.2 1396.5,868.6 1398.0,871.2 1399.5,870.1 1400.0,871.6 1401.0,868.1 1402.5,869.5 1404.0,868.0 1405.5,869.3 1407.0,867.9 1408.5,869.2 1410.0,869.8 1411.5,868.9 1413.0,864.9 1414.5,868.8 1416.0,867.8 1417.5,865.3 1419.0,865.3 1420.5,866.3 1422.0,866.9 1423.5,865.1 1425.0,863.0 1426.5,865.6 1428.0,865.1 1429.5,868.2 1431.0,862.3 1432.3,867.8 1432.5,866.6 1434.0,864.1 1435.5,865.9 1437.0,863.3 1438.5,864.3 1440.0,861.5 1441.5,862.5 1443.0,860.5 1444.5,859.4 1446.0,861.1 1447.5,860.3 1449.0,861.8 1450.5,862.5 1452.0,860.0 1453.5,860.0 1455.0,859.8 1456.5,856.7 1458.0,859.1 1459.5,858.3 1461.0,857.7 1462.5,855.7 1464.0,853.9 1464.7,856.0 1465.5,856.5 1467.0,857.0 1468.5,855.7 1470.0,854.9 1471.5,852.2 1473.0,851.7 1474.5,848.5 1476.0,847.7 1477.5,846.2 1479.0,846.2 1480.5,841.4 1481.9,837.8 1482.0,840.5 1483.5,835.7 1485.0,833.4 1486.5,829.8 1488.0,825.5 1489.5,823.7 1490.6,820.3 1491.0,818.3 1492.5,814.9 1494.0,810.3 1495.5,806.8 1497.0,801.7 1498.5,797.3 1499.2,795.5 1500.0,793.6 1501.5,790.2 1503.0,785.1 1504.5,782.0 1506.0,779.1 1507.5,778.5 1507.8,776.5 1509.0,770.6 1510.5,771.3 1512.0,769.7 1513.5,769.7 1514.3,771.6 1515.0,770.3 1516.5,767.6 1518.0,772.6 1519.5,774.9 1521.0,778.0 1522.5,781.7 1522.9,779.9 1524.0,784.0 1525.5,784.3 1527.0,789.1 1528.5,792.8 1530.0,798.0 1531.5,798.9 1533.0,801.6 1533.7,805.3 1534.5,806.0 1536.0,811.7 1537.5,813.6 1539.0,817.4 1540.5,823.1 1542.0,825.6 1543.5,829.7 1544.5,829.2 1545.0,833.1 1546.5,833.3 1548.0,837.2 1549.5,837.5 1551.0,838.9 1552.5,842.3 1554.0,844.6 1555.5,847.9 1557.0,847.9 1557.4,848.7 1558.5,849.6 1560.0,853.9 1561.5,850.3 1563.0,854.2 1564.5,853.5 1566.0,855.1 1567.5,854.9 1569.0,858.1 1570.5,855.2 1572.0,855.4 1572.5,857.2 1573.5,855.9 1575.0,858.9 1576.5,859.4 1578.0,857.0 1579.5,859.5 1581.0,857.4 1582.5,858.5 1584.0,858.7 1585.5,861.7 1587.0,858.9 1588.5,857.5 1590.0,857.6 1591.5,861.0 1593.0,856.6 1594.5,858.5 1596.0,858.7 1597.5,855.5 1599.0,858.7 1600.5,861.1 1602.0,859.9 1603.5,858.2 1604.9,860.8 1605.0,860.5 1606.5,863.0 1608.0,858.7 1609.5,859.3 1611.0,860.0 1612.5,859.8 1614.0,860.2 1615.5,859.9 1617.0,859.0 1618.5,857.7 1620.0,859.4 1621.5,858.1 1623.0,858.7 1624.5,859.5 1626.0,861.2 1627.5,861.8 1629.0,858.9 1630.5,861.0 1632.0,861.9 1633.5,860.6 1635.0,858.1 1636.5,857.3 1637.2,862.0 1638.0,862.2 1639.5,861.3 1641.0,859.3 1642.5,863.3 1644.0,863.0 1645.5,861.1 1647.0,860.9 1648.5,858.3 1650.0,862.6 1651.5,859.0 1653.0,862.7 1654.5,862.9 1656.0,862.0 1657.5,864.4 1659.0,861.5 1660.5,863.1 1662.0,863.5 1663.5,862.7 1665.0,861.7 1666.5,864.4 1668.0,863.2 1669.5,862.3 1671.0,862.4 1672.5,862.9 1674.0,866.4 1675.5,863.0 1677.0,862.5 1678.5,861.2 1680.0,860.9 1680.3,859.8 1681.5,863.2 1683.0,862.9 1684.5,861.2 1686.0,860.4 1687.5,862.2 1689.0,861.9 1690.5,860.5 1692.0,863.0 1693.5,862.7 1695.0,862.3 1696.5,863.6 1698.0,861.3 1699.5,864.4 1701.0,860.5 1702.5,862.9 1704.0,863.0 1705.5,861.5 1707.0,862.5 1708.5,859.8 1710.0,859.4 1711.5,861.5 1713.0,860.6 1714.5,862.7 1714.8,861.8 1716.0,862.7 1717.0,862.3"/>
<polyline fill="none" stroke="#134B97" stroke-width="8.0" stroke-linejoin="round" stroke-linecap="butt" shape-rendering="crispEdges" points="174.0,445.7 175.4,438.8 175.5,443.2 177.0,441.7 178.5,441.9 180.0,442.3 181.5,439.6 183.0,442.3 184.5,441.3 186.0,447.6 187.5,442.9 189.0,442.1 190.5,442.2 192.0,441.6 193.5,441.0 195.0,442.0 196.5,443.4 198.0,442.3 199.5,444.1 201.0,442.3 202.5,442.7 204.0,445.0 205.5,443.5 207.0,441.9 208.5,442.4 210.0,443.5 211.5,445.6 213.0,442.3 214.5,442.3 216.0,444.2 217.5,441.4 219.0,442.3 220.5,444.0 222.0,443.6 223.5,442.9 225.0,443.7 226.5,438.5 228.0,444.3 229.5,441.3 231.0,440.3 232.5,443.2 234.0,443.8 235.5,442.1 237.0,441.2 238.5,442.9 240.0,442.7 241.5,444.9 243.0,444.0 244.5,443.1 246.0,444.5 247.5,442.6 249.0,441.5 250.5,443.8 252.0,443.8 253.5,442.6 255.0,441.8 256.5,443.3 258.0,439.2 259.5,444.0 261.0,443.7 262.5,440.5 264.0,443.1 265.5,441.6 267.0,444.1 268.5,440.0 270.0,441.7 271.5,444.1 273.0,444.8 274.5,439.8 276.0,442.3 277.5,443.6 277.8,442.2 279.0,445.5 280.5,441.3 282.0,443.7 283.5,441.6 285.0,445.3 286.5,443.2 288.0,442.6 289.5,440.7 291.0,445.8 292.5,444.4 294.0,444.4 295.5,445.0 297.0,443.8 298.5,442.4 300.0,442.2 301.5,442.2 303.0,445.5 304.5,441.3 306.0,442.6 307.5,443.0 309.0,443.9 310.5,444.4 312.0,441.7 313.5,441.0 315.0,443.6 316.5,445.5 318.0,444.8 319.5,444.1 321.0,443.3 322.5,444.2 324.0,443.5 325.5,445.1 327.0,442.7 328.5,444.1 330.0,443.8 331.5,444.8 333.0,444.4 334.5,447.9 336.0,446.3 337.5,446.4 339.0,441.1 340.5,443.7 342.0,443.3 343.5,445.1 345.0,440.9 346.5,446.1 348.0,446.0 349.5,442.5 351.0,443.0 352.5,443.3 354.0,444.6 355.5,445.5 357.0,447.7 358.5,444.4 360.0,445.8 361.5,445.0 363.0,447.4 364.5,445.9 366.0,446.9 367.5,443.3 369.0,444.6 370.5,443.7 372.0,447.2 373.5,446.0 375.0,444.6 376.5,444.4 378.0,445.9 379.5,444.1 381.0,443.8 382.5,445.9 384.0,448.9 385.5,444.9 385.6,444.5 387.0,443.6 388.5,443.4 390.0,446.2 391.5,446.7 393.0,445.5 394.5,446.0 396.0,445.7 397.5,445.8 399.0,443.3 400.5,444.9 402.0,445.8 403.5,444.5 405.0,445.0 406.5,444.5 408.0,445.3 409.5,447.1 411.0,445.2 412.5,445.6 414.0,447.1 415.5,446.9 417.0,448.5 418.5,442.9 420.0,447.3 421.5,445.3 423.0,446.3 424.5,447.4 426.0,447.8 427.5,447.7 429.0,446.4 430.5,448.6 432.0,445.8 433.5,446.1 435.0,447.5 436.5,445.6 438.0,449.6 439.5,448.0 441.0,449.7 442.5,446.5 444.0,446.0 445.5,446.8 447.0,447.7 448.5,445.8 450.0,447.3 451.5,446.7 453.0,449.2 454.5,445.9 456.0,448.4 457.5,446.0 459.0,445.5 460.5,446.0 462.0,445.3 463.5,447.3 465.0,448.7 466.5,447.4 468.0,448.2 469.5,449.7 471.0,447.8 472.5,447.7 474.0,447.1 475.5,445.2 477.0,448.8 478.5,445.1 480.0,448.7 481.5,447.8 483.0,449.6 484.5,447.9 486.0,446.9 487.5,448.7 489.0,447.5 490.5,448.1 492.0,448.5 493.5,448.3 495.0,448.3 496.5,447.5 498.0,448.5 499.5,445.7 501.0,448.7 502.5,447.3 504.0,450.8 505.5,451.1 507.0,446.4 508.5,449.6 510.0,449.3 511.5,448.0 513.0,450.4 514.5,449.0 516.0,447.1 517.5,449.4 519.0,449.6 520.4,450.1 520.5,448.1 522.0,450.9 523.5,451.1 525.0,448.4 526.5,449.1 528.0,450.0 529.5,449.4 531.0,452.8 532.5,450.6 534.0,448.8 535.5,449.2 537.0,450.3 538.5,453.9 540.0,450.2 541.5,450.7 543.0,451.3 544.5,450.5 546.0,454.0 547.5,449.9 549.0,451.8 550.5,451.0 552.0,451.7 553.5,449.1 555.0,453.5 556.5,450.7 558.0,451.0 559.5,449.6 561.0,449.9 562.5,451.9 564.0,452.5 565.5,452.2 567.0,453.0 568.5,452.3 568.9,451.2 570.0,452.5 571.5,452.1 573.0,451.2 574.5,452.4 576.0,453.3 577.5,451.8 579.0,450.9 580.5,452.6 582.0,454.4 583.5,451.3 585.0,451.5 586.5,451.5 588.0,453.5 589.5,449.0 591.0,452.4 592.5,453.6 594.0,450.7 595.5,454.2 597.0,452.8 598.5,451.2 600.0,452.4 601.5,449.8 603.0,451.3 604.5,454.9 606.0,450.9 607.5,455.0 609.0,452.2 610.5,453.8 612.0,452.5 613.5,449.1 615.0,451.6 616.5,452.8 618.0,450.8 619.5,450.6 621.0,453.1 622.5,451.7 624.0,450.1 625.5,451.7 627.0,454.0 628.5,452.0 630.0,454.1 631.5,455.0 633.0,452.8 634.5,451.1 636.0,450.8 637.5,452.8 639.0,454.1 640.5,453.2 640.9,453.6 642.0,452.1 643.5,453.2 645.0,452.1 646.5,452.3 648.0,450.8 649.5,450.4 651.0,452.0 652.5,451.1 654.0,451.3 655.5,453.7 657.0,452.6 658.5,457.1 660.0,454.1 661.5,451.7 663.0,453.8 664.5,453.2 666.0,451.6 667.5,454.2 669.0,451.4 670.5,448.0 672.0,453.7 673.5,451.6 675.0,454.7 676.5,451.5 678.0,450.7 679.5,454.7 681.0,450.8 682.5,452.6 684.0,454.5 685.5,452.5 687.0,452.1 688.5,452.4 690.0,453.4 691.5,451.0 693.0,453.0 694.5,453.0 696.0,455.6 697.5,451.5 699.0,450.7 700.5,453.1 702.0,451.4 703.5,452.4 705.0,452.1 706.5,453.6 708.0,450.9 709.5,451.7 711.0,448.0 712.5,450.4 714.0,454.0 715.5,450.7 717.0,450.6 718.5,449.9 720.0,452.5 721.5,451.9 723.0,449.8 724.5,452.6 726.0,451.9 727.5,452.7 729.0,450.6 730.5,454.1 732.0,452.1 733.5,451.3 735.0,450.7 736.5,451.1 738.0,452.7 739.5,451.0 741.0,453.0 742.5,452.3 744.0,453.4 745.5,452.6 747.0,451.3 748.5,448.5 748.7,451.8 750.0,452.6 751.5,451.6 753.0,452.2 754.5,450.7 756.0,450.8 757.5,450.0 759.0,453.4 760.5,451.6 762.0,450.7 763.5,449.4 765.0,451.2 766.5,453.6 768.0,452.1 769.5,450.3 771.0,453.5 772.5,453.5 774.0,452.9 775.5,452.6 777.0,453.1 778.5,452.2 780.0,452.6 781.5,450.2 783.0,453.6 784.5,451.7 786.0,454.4 787.5,448.3 789.0,452.5 790.5,452.9 792.0,450.9 793.5,452.1 795.0,452.5 796.5,452.3 798.0,450.6 799.5,451.2 801.0,452.9 802.5,453.3 804.0,451.5 805.5,451.5 807.0,451.7 808.5,453.0 810.0,449.8 811.5,449.4 813.0,451.6 814.5,449.7 816.0,450.5 817.5,451.5 819.0,452.1 820.5,449.8 822.0,452.6 823.5,448.7 825.0,452.2 826.5,449.0 828.0,449.5 829.5,452.4 831.0,450.8 832.5,450.2 834.0,450.7 835.5,452.1 837.0,451.3 838.5,451.3 840.0,452.9 841.5,450.3 843.0,450.6 844.5,450.5 846.0,453.0 847.5,452.7 849.0,453.1 850.5,451.1 852.0,450.9 853.5,452.4 855.0,450.5 856.5,452.3 858.0,452.1 859.5,449.9 861.0,450.8 862.5,450.7 864.0,453.4 865.5,454.7 867.0,450.6 868.5,450.7 870.0,447.3 871.5,450.9 873.0,450.5 874.5,448.9 876.0,451.6 877.5,448.1 879.0,450.0 880.5,450.5 882.0,448.4 883.5,451.4 885.0,451.6 886.5,448.0 888.0,447.9 889.5,450.8 891.0,449.7 892.5,447.9 894.0,449.2 895.5,449.4 896.9,449.3 897.0,450.7 898.5,450.0 900.0,451.9 901.5,451.1 903.0,450.0 904.5,450.4 906.0,450.5 907.5,449.4 909.0,446.4 910.5,449.2 912.0,447.9 913.5,449.8 915.0,447.4 916.5,447.8 918.0,447.3 919.5,449.0 921.0,446.6 922.5,445.8 923.9,446.4 924.0,445.4 925.5,446.0 927.0,445.6 928.5,445.8 930.0,448.0 931.5,444.5 933.0,445.0 934.5,444.4 936.0,445.5 937.5,442.7 939.0,443.2 940.0,444.0 940.5,444.8 942.0,443.8 943.5,443.0 945.0,442.3 946.5,444.2 948.0,445.4 949.5,443.6 951.0,443.3 952.5,443.5 954.0,441.3 955.5,442.1 957.0,442.0 958.5,442.6 960.0,442.0 961.5,440.1 963.0,443.2 964.5,443.8 966.0,440.8 967.5,441.5 969.0,441.1 970.5,441.6 972.0,438.2 973.5,442.3 975.0,439.1 976.5,441.3 978.0,439.3 979.5,438.3 980.4,438.5 981.0,439.8 982.5,437.0 984.0,437.4 985.5,436.9 987.0,434.9 988.5,438.7 990.0,437.3 991.5,436.1 993.0,437.3 994.5,434.0 996.0,434.7 997.5,436.7 999.0,435.2 1000.5,430.4 1002.0,428.4 1003.5,430.9 1005.0,433.0 1006.5,430.4 1007.4,430.3 1008.0,431.1 1009.5,428.4 1011.0,428.9 1012.5,428.6 1014.0,427.1 1015.5,425.8 1017.0,423.3 1018.5,423.3 1020.0,420.9 1021.5,421.5 1023.0,421.5 1024.5,416.3 1026.0,413.3 1027.5,413.9 1029.0,413.5 1030.5,412.9 1032.0,411.5 1033.5,407.9 1035.0,406.5 1036.5,407.4 1038.0,403.3 1039.5,404.7 1040.0,402.7 1041.0,403.2 1042.5,401.9 1044.0,400.8 1045.5,400.0 1047.0,397.0 1047.8,398.7 1048.5,398.3 1050.0,398.8 1051.5,400.3 1053.0,398.3 1054.5,397.9 1055.0,398.0 1056.0,398.8 1057.5,400.6 1059.0,399.1 1060.5,402.3 1062.0,401.8 1063.5,401.8 1064.0,400.6 1065.0,403.0 1066.5,404.3 1068.0,401.9 1069.5,406.4 1071.0,407.8 1072.5,406.9 1074.0,407.9 1075.5,411.2 1077.0,410.5 1078.5,408.5 1080.0,410.4 1081.5,411.0 1082.9,411.6 1083.0,408.8 1084.5,413.5 1086.0,412.4 1087.5,414.1 1089.0,414.4 1090.5,416.4 1092.0,415.5 1093.5,415.5 1095.0,417.9 1096.5,419.7 1098.0,418.0 1099.5,420.8 1101.0,419.9 1102.5,419.3 1104.0,422.5 1105.5,419.7 1107.0,422.6 1107.1,420.5 1108.5,422.1 1110.0,420.0 1111.5,420.9 1113.0,423.8 1114.5,422.9 1116.0,422.9 1117.5,422.5 1119.0,424.0 1120.5,421.6 1122.0,422.2 1123.5,423.8 1125.0,423.1 1126.5,423.4 1128.0,424.5 1129.5,424.6 1131.0,424.6 1132.5,427.5 1134.0,426.7 1135.5,427.2 1137.0,425.5 1138.5,424.9 1140.0,423.6 1141.5,425.3 1142.2,422.7 1143.0,425.0 1144.5,427.0 1146.0,428.3 1147.5,427.4 1149.0,424.7 1150.5,426.8 1152.0,424.9 1153.5,427.3 1155.0,426.0 1156.5,427.5 1158.0,430.0 1159.5,427.6 1161.0,429.7 1162.5,426.5 1164.0,425.8 1165.5,428.3 1167.0,428.9 1168.5,425.6 1170.0,426.6 1171.5,424.4 1173.0,426.2 1174.5,427.9 1176.0,426.5 1177.5,425.9 1179.0,424.8 1180.5,427.5 1182.0,428.3 1183.5,428.1 1185.0,427.8 1186.5,425.7 1188.0,430.3 1189.5,427.8 1191.0,427.9 1192.5,429.4 1194.0,425.4 1195.5,428.6 1197.0,428.7 1198.5,429.7 1200.0,431.3 1201.5,430.2 1203.0,427.1 1204.5,429.5 1206.0,430.4 1207.5,430.6 1209.0,428.7 1209.5,428.2 1210.5,431.5 1212.0,431.4 1213.5,431.1 1215.0,428.8 1216.5,434.0 1218.0,427.5 1219.5,431.4 1221.0,435.1 1222.5,432.1 1224.0,432.9 1225.5,431.1 1227.0,434.9 1228.5,431.3 1230.0,433.7 1231.5,433.8 1233.0,432.3 1234.5,435.3 1236.0,432.2 1237.5,433.4 1239.0,434.6 1240.5,434.2 1242.0,435.7 1243.5,436.5 1245.0,435.0 1246.5,434.8 1248.0,435.0 1249.5,435.4 1250.0,437.2 1251.0,435.8 1252.5,436.9 1254.0,436.3 1255.5,435.5 1257.0,438.1 1258.5,435.6 1260.0,437.3 1261.5,439.6 1263.0,436.1 1264.5,437.8 1266.0,435.7 1267.5,437.5 1269.0,436.2 1270.5,438.1 1272.0,438.0 1273.5,439.1 1275.0,441.4 1276.5,439.6 1278.0,440.3 1279.5,439.4 1281.0,439.3 1282.5,438.5 1284.0,437.2 1285.5,440.0 1287.0,442.4 1288.5,440.8 1290.0,439.3 1290.4,442.6 1291.5,439.5 1293.0,439.2 1294.5,438.4 1296.0,438.7 1297.5,439.8 1299.0,443.2 1300.5,439.9 1302.0,438.7 1303.5,439.3 1305.0,439.9 1306.5,437.7 1308.0,440.5 1309.5,441.3 1311.0,440.8 1312.5,441.2 1314.0,438.4 1315.5,437.8 1317.0,442.3 1318.5,442.0 1320.0,438.1 1321.5,440.7 1323.0,440.5 1324.5,441.3 1326.0,440.8 1327.5,439.8 1329.0,440.9 1330.5,440.8 1332.0,440.6 1333.5,437.9 1335.0,436.2 1336.5,439.6 1338.0,438.3 1339.5,441.2 1341.0,441.9 1342.5,441.3 1344.0,440.4 1345.5,441.1 1347.0,442.8 1348.5,440.0 1350.0,442.5 1351.5,442.2 1353.0,441.6 1354.5,443.4 1356.0,440.2 1357.5,442.7 1359.0,440.0 1360.5,440.3 1362.0,439.9 1363.5,442.2 1365.0,440.2 1366.5,441.7 1368.0,440.0 1369.5,443.3 1371.0,444.5 1372.5,442.1 1373.9,444.2 1374.0,442.6 1375.5,445.1 1377.0,442.0 1378.5,439.6 1380.0,444.2 1381.5,441.8 1383.0,440.4 1384.5,441.0 1386.0,439.6 1387.5,441.8 1389.0,440.5 1390.5,444.3 1392.0,443.1 1393.5,439.7 1395.0,439.9 1396.5,441.3 1398.0,439.3 1399.5,442.1 1401.0,442.2 1402.5,441.1 1404.0,441.5 1405.5,443.1 1407.0,444.5 1408.5,444.6 1410.0,442.5 1411.5,443.7 1413.0,441.4 1414.5,443.2 1416.0,441.2 1417.5,443.7 1419.0,440.9 1420.5,441.3 1422.0,442.8 1423.5,443.7 1425.0,440.8 1426.5,442.2 1427.8,443.3 1428.0,443.4 1429.5,442.2 1431.0,444.0 1432.5,444.2 1434.0,447.1 1435.5,446.8 1437.0,445.2 1438.5,444.7 1440.0,448.3 1441.3,450.2 1441.5,448.8 1443.0,450.1 1444.5,448.4 1446.0,447.4 1447.5,450.6 1449.0,449.9 1450.5,451.0 1452.0,448.3 1453.5,450.7 1455.0,449.8 1456.5,452.0 1458.0,450.2 1459.5,450.4 1461.0,450.6 1462.5,453.4 1464.0,451.8 1465.5,450.7 1467.0,450.5 1468.5,450.6 1470.0,454.3 1471.5,449.6 1473.0,451.1 1474.5,453.4 1476.0,454.3 1477.5,452.3 1479.0,453.7 1480.5,453.7 1481.7,454.1 1482.0,452.7 1483.5,455.1 1485.0,452.9 1486.5,454.8 1488.0,450.8 1489.5,453.7 1491.0,450.4 1492.5,449.9 1494.0,452.8 1495.5,450.7 1497.0,452.4 1498.5,450.1 1500.0,453.9 1501.5,451.4 1503.0,449.6 1504.5,451.4 1506.0,452.3 1507.5,449.8 1509.0,451.7 1510.5,453.9 1512.0,452.1 1513.5,450.8 1514.0,449.9 1515.0,451.6 1516.5,448.6 1518.0,446.4 1519.5,450.0 1521.0,449.5 1522.5,453.7 1524.0,451.5 1525.5,450.0 1527.0,449.9 1528.5,452.4 1530.0,450.6 1531.5,451.1 1533.0,452.0 1534.5,452.4 1536.0,452.5 1537.5,452.6 1539.0,454.5 1540.5,455.2 1542.0,450.2 1543.5,456.6 1543.7,452.9 1545.0,454.6 1546.5,451.6 1548.0,453.2 1549.5,453.0 1551.0,452.8 1552.5,453.9 1554.0,453.5 1555.5,451.0 1557.0,452.3 1558.5,453.5 1560.0,453.4 1561.5,451.8 1563.0,451.8 1564.5,451.9 1566.0,450.4 1567.5,450.0 1569.0,454.1 1570.5,451.2 1572.0,451.8 1573.5,450.4 1575.0,453.3 1576.0,453.9 1576.5,450.9 1578.0,451.7 1579.5,449.5 1581.0,452.4 1582.5,450.6 1584.0,447.6 1585.5,449.5 1587.0,447.6 1588.5,447.0 1590.0,446.2 1591.5,444.2 1593.0,443.8 1594.5,445.0 1594.9,443.9 1596.0,442.4 1597.5,446.3 1599.0,442.8 1600.5,442.0 1602.0,441.5 1603.5,443.3 1605.0,443.5 1606.5,442.3 1608.0,443.2 1608.4,439.7 1609.5,441.4 1611.0,441.3 1612.5,442.1 1614.0,442.9 1615.5,439.5 1617.0,447.1 1618.5,441.7 1620.0,443.7 1621.5,444.6 1623.0,445.0 1624.5,444.4 1626.0,440.4 1627.5,443.2 1629.0,446.2 1630.5,444.1 1632.0,444.2 1633.5,442.7 1635.0,448.0 1636.5,447.3 1638.0,445.5 1639.5,446.8 1641.0,447.0 1642.5,445.6 1643.5,446.8 1644.0,447.6 1645.5,448.1 1647.0,449.2 1648.5,447.5 1650.0,446.8 1651.5,448.1 1653.0,446.6 1654.5,445.7 1656.0,449.3 1657.5,447.1 1659.0,447.9 1660.5,448.7 1662.0,446.1 1663.5,448.8 1665.0,448.5 1666.5,447.7 1668.0,448.5 1669.5,446.8 1671.0,444.6 1672.5,447.5 1674.0,446.6 1675.5,449.3 1677.0,448.4 1678.5,447.2 1680.0,448.1 1681.5,450.1 1683.0,449.7 1683.9,448.6 1684.5,448.7 1686.0,447.6 1687.5,447.7 1689.0,448.6 1690.5,447.4 1692.0,447.8 1693.5,445.6 1695.0,444.5 1696.5,444.3 1698.0,445.8 1699.5,448.0 1701.0,447.5 1702.5,444.2 1704.0,443.2 1705.5,446.3 1707.0,445.6 1708.5,442.8 1710.0,446.2 1711.5,444.8 1713.0,446.5 1713.5,445.0 1714.5,445.9 1716.0,445.0 1717.0,443.1"/>
<polyline fill="none" stroke="#24774A" stroke-width="8.0" stroke-linejoin="round" stroke-linecap="butt" shape-rendering="crispEdges" points="174.0,258.5 175.4,259.5 175.5,263.1 177.0,261.1 178.5,256.5 180.0,259.8 181.5,258.5 183.0,260.1 184.5,256.5 186.0,260.2 187.5,260.2 189.0,262.8 190.5,260.3 192.0,260.7 193.5,256.7 195.0,264.1 196.5,255.8 198.0,261.7 199.5,258.9 201.0,257.7 202.5,258.1 204.0,258.1 205.5,260.1 207.0,259.1 208.5,262.2 210.0,255.6 211.5,259.2 213.0,257.4 214.5,260.6 216.0,254.9 217.5,258.3 219.0,259.4 220.5,256.0 222.0,260.8 223.5,259.2 223.9,260.8 225.0,260.7 226.5,256.8 228.0,257.0 229.5,258.1 231.0,259.9 232.5,259.9 234.0,256.8 235.5,256.8 237.0,256.3 238.5,256.6 240.0,257.1 241.5,257.1 243.0,261.2 244.5,256.0 246.0,256.3 247.5,257.5 249.0,254.6 250.5,255.6 252.0,256.1 253.5,257.4 255.0,253.2 256.5,258.2 258.0,254.7 259.5,255.5 261.0,256.7 262.5,256.2 264.0,256.8 265.5,254.9 267.0,254.4 268.5,255.0 270.0,252.3 271.5,256.5 273.0,252.5 274.5,251.5 276.0,258.0 277.5,253.6 277.8,251.6 279.0,257.6 280.5,253.2 282.0,256.0 283.5,252.2 285.0,253.3 286.5,250.4 288.0,250.0 289.5,251.8 291.0,253.6 292.5,255.3 294.0,258.6 295.5,251.6 297.0,255.7 298.5,252.5 300.0,253.4 301.5,250.7 303.0,250.7 304.5,252.1 306.0,251.3 307.5,253.6 309.0,252.2 310.5,256.1 312.0,253.9 313.5,253.9 315.0,255.9 316.5,254.6 318.0,253.5 319.5,253.4 321.0,253.3 322.5,255.7 324.0,255.1 325.5,254.2 327.0,255.1 328.5,252.4 330.0,254.4 331.5,250.6 331.7,256.1 333.0,253.6 334.5,253.7 336.0,254.5 337.5,253.2 339.0,252.6 340.5,255.4 342.0,253.2 343.5,251.1 345.0,253.6 346.5,249.3 348.0,255.7 349.5,252.0 351.0,252.3 352.5,256.4 354.0,256.1 355.5,252.0 357.0,252.8 358.5,253.5 360.0,254.5 361.5,250.9 363.0,251.2 364.5,253.1 366.0,251.1 367.5,251.9 369.0,251.4 370.5,247.9 372.0,248.2 373.5,244.6 375.0,249.1 376.5,252.0 378.0,247.1 379.5,251.5 381.0,250.9 382.5,248.7 384.0,248.6 385.5,248.7 385.6,246.8 387.0,247.8 388.5,248.1 390.0,249.3 391.5,249.5 393.0,246.3 394.5,249.2 396.0,245.9 397.5,246.9 399.0,247.8 400.5,246.9 402.0,246.5 403.5,247.1 405.0,245.4 406.5,245.0 408.0,245.7 409.5,247.9 411.0,245.7 412.5,249.5 414.0,246.1 415.5,239.7 417.0,244.6 418.5,248.7 420.0,245.4 421.5,244.4 423.0,243.6 423.4,247.9 424.5,247.3 426.0,246.7 427.5,246.2 429.0,248.2 430.5,247.1 432.0,243.1 433.5,247.1 435.0,246.0 436.5,245.6 438.0,247.4 439.5,246.1 441.0,240.4 442.5,249.3 444.0,248.4 445.5,246.3 447.0,245.9 448.5,247.2 450.0,244.5 451.5,247.7 453.0,246.8 454.5,246.7 456.0,245.7 457.5,246.4 459.0,250.0 460.5,250.6 462.0,249.1 463.5,248.2 465.0,246.7 466.5,249.9 468.0,251.8 469.5,245.6 471.0,251.1 472.5,244.7 474.0,248.4 475.5,250.0 477.0,246.7 478.5,246.5 480.0,250.0 481.5,251.5 482.7,249.0 483.0,252.5 484.5,248.6 486.0,253.7 487.5,250.8 489.0,251.3 490.5,252.3 492.0,252.0 493.5,255.1 495.0,256.1 496.5,253.4 498.0,252.4 499.5,250.9 501.0,252.0 502.5,253.8 504.0,254.0 505.5,254.4 507.0,254.9 508.5,256.2 510.0,253.2 511.5,254.2 513.0,258.5 514.5,258.4 516.0,256.2 517.5,259.9 519.0,256.6 520.5,257.8 522.0,255.1 523.5,260.4 525.0,259.1 526.5,261.5 528.0,261.1 528.5,260.0 529.5,260.3 531.0,262.5 532.5,260.1 534.0,260.4 535.5,261.0 537.0,262.7 538.5,263.1 540.0,265.2 541.5,261.6 543.0,264.4 544.5,260.9 546.0,263.5 547.5,262.8 549.0,266.1 550.5,264.2 552.0,262.3 553.5,264.5 555.0,264.3 556.5,263.2 558.0,263.4 559.5,262.4 560.0,269.6 561.0,264.7 562.5,266.5 564.0,262.7 565.5,263.1 567.0,265.1 568.5,265.4 570.0,267.5 571.5,264.4 573.0,267.6 574.5,269.7 576.0,265.4 577.5,269.1 579.0,265.9 580.5,268.6 582.0,268.9 583.5,271.8 585.0,267.4 586.5,269.3 588.0,271.2 589.5,267.1 591.0,269.5 592.5,268.0 594.0,268.5 595.5,271.3 597.0,271.4 598.5,275.2 600.0,272.8 600.4,272.7 601.5,269.8 603.0,269.5 604.5,270.3 606.0,265.4 607.5,273.0 609.0,268.3 610.5,267.4 612.0,268.4 613.5,270.8 615.0,271.3 616.5,268.0 618.0,269.3 619.5,268.1 621.0,266.1 622.5,268.1 624.0,267.6 625.5,264.4 627.0,269.3 628.5,263.9 630.0,267.2 631.5,264.6 633.0,264.9 634.5,264.9 636.0,267.6 637.5,263.7 639.0,265.7 640.5,269.1 640.9,264.7 642.0,266.0 643.5,267.4 645.0,264.9 646.5,267.0 648.0,264.7 649.5,267.4 651.0,266.2 652.5,264.2 654.0,268.9 655.5,265.8 657.0,265.5 658.5,264.2 660.0,265.1 661.5,265.8 663.0,266.4 664.5,268.2 666.0,263.4 667.5,265.3 669.0,268.4 670.5,266.4 672.0,266.8 673.5,269.2 675.0,266.7 676.5,267.0 678.0,265.9 679.5,269.6 681.0,268.1 681.3,264.6 682.5,267.1 684.0,263.8 685.5,268.3 687.0,267.5 688.5,265.9 690.0,265.6 691.5,263.0 693.0,268.1 694.5,266.5 696.0,266.3 697.5,268.4 699.0,265.9 700.5,266.2 702.0,266.2 703.5,265.1 705.0,272.5 706.5,267.7 708.0,267.5 709.5,270.1 711.0,262.5 712.5,268.7 714.0,268.9 715.5,267.1 717.0,270.0 718.5,265.3 720.0,269.4 721.5,271.2 721.7,265.1 723.0,266.7 724.5,269.2 726.0,269.6 727.5,268.4 729.0,270.5 730.5,270.3 732.0,267.3 733.5,269.8 735.0,267.5 736.5,266.0 738.0,265.5 739.5,272.3 741.0,270.1 742.5,274.2 744.0,267.6 745.5,269.8 747.0,271.3 748.5,270.4 750.0,271.7 751.5,271.1 753.0,269.6 754.5,266.3 756.0,269.1 757.5,274.4 759.0,272.6 760.5,273.8 762.0,269.9 763.5,270.7 764.9,269.4 765.0,271.9 766.5,271.2 768.0,272.0 769.5,274.6 771.0,269.4 772.5,272.4 774.0,268.2 775.5,273.0 777.0,269.9 778.5,270.5 780.0,270.8 781.5,273.6 783.0,270.3 784.5,269.2 786.0,267.8 787.5,270.5 789.0,268.1 790.5,268.7 792.0,269.4 793.5,270.6 795.0,267.8 796.5,270.4 798.0,272.3 799.5,265.9 801.0,271.3 802.5,272.7 802.6,267.3 804.0,269.5 805.5,265.5 807.0,268.6 808.5,267.2 810.0,268.2 811.5,265.6 813.0,265.6 814.5,266.1 816.0,265.4 817.5,265.3 819.0,265.8 820.5,263.9 822.0,265.5 823.5,266.4 825.0,260.9 826.5,265.4 828.0,263.4 829.5,262.4 831.0,261.7 832.5,262.5 834.0,262.5 835.5,264.4 837.0,261.1 838.5,265.4 840.0,261.6 841.5,264.4 843.0,265.1 844.5,260.5 846.0,264.9 847.5,267.1 849.0,261.8 850.5,263.8 852.0,262.4 853.5,262.7 855.0,262.2 856.5,261.5 858.0,263.9 859.5,264.2 861.0,262.4 862.5,265.4 864.0,264.5 865.5,263.7 867.0,260.8 868.5,266.0 870.0,264.8 871.5,257.9 873.0,259.9 874.5,261.0 876.0,263.8 877.5,264.3 879.0,261.2 880.5,262.2 882.0,263.0 883.5,259.0 885.0,262.5 886.5,260.6 888.0,261.4 889.5,260.7 891.0,258.3 892.5,258.4 894.0,260.1 895.5,260.0 897.0,258.9 898.5,261.1 900.0,258.1 901.5,256.2 903.0,257.5 904.5,257.5 906.0,257.2 907.5,259.4 909.0,257.8 910.4,258.6 910.5,257.8 912.0,256.0 913.5,258.0 915.0,255.3 916.5,256.0 918.0,253.3 919.5,255.2 921.0,254.1 922.5,255.2 924.0,257.6 925.5,258.4 927.0,255.6 928.5,253.3 930.0,254.6 931.5,253.2 933.0,251.3 934.5,252.0 936.0,251.3 937.5,250.3 939.0,253.5 940.0,249.7 940.5,249.7 942.0,251.4 943.5,248.3 945.0,246.9 946.5,246.7 948.0,248.3 949.5,247.3 951.0,246.4 952.5,244.3 954.0,242.8 955.5,245.1 957.0,240.3 958.5,241.8 960.0,239.2 961.5,240.2 963.0,240.1 964.5,242.3 966.0,234.3 966.3,242.2 967.5,237.8 969.0,239.8 970.5,240.7 972.0,237.5 973.5,238.7 975.0,239.7 976.5,238.4 978.0,237.1 979.5,238.8 981.0,238.5 982.5,235.3 984.0,240.6 985.5,238.2 986.5,233.1 987.0,236.0 988.5,240.5 990.0,239.8 991.5,236.9 993.0,232.9 994.5,235.0 996.0,236.6 997.5,234.8 999.0,232.9 1000.5,231.5 1002.0,233.4 1003.5,230.9 1005.0,231.0 1006.5,230.5 1006.7,232.4 1008.0,229.2 1009.5,228.4 1011.0,224.1 1012.5,227.9 1014.0,226.5 1015.5,223.9 1017.0,219.2 1018.5,220.7 1020.0,220.4 1020.9,222.7 1021.5,219.8 1023.0,218.6 1024.5,217.0 1026.0,216.0 1027.5,210.6 1029.0,209.0 1030.5,206.4 1031.0,206.9 1032.0,205.2 1033.5,203.2 1035.0,199.0 1036.5,197.2 1038.0,192.7 1039.0,193.4 1039.5,189.3 1041.0,187.8 1042.5,181.7 1044.0,173.7 1045.1,171.8 1045.5,170.1 1047.0,162.8 1048.5,159.2 1050.0,153.0 1051.2,148.9 1051.5,146.7 1053.0,141.4 1054.5,135.7 1056.0,129.5 1057.2,125.4 1057.5,125.1 1059.0,120.5 1060.0,120.5 1060.5,115.7 1062.0,120.4 1063.0,117.7 1063.5,118.5 1065.0,119.4 1066.0,115.9 1066.5,121.9 1068.0,119.7 1069.4,124.9 1069.5,125.0 1071.0,130.7 1072.5,135.7 1074.0,141.3 1075.4,148.9 1075.5,147.0 1077.0,155.6 1078.5,162.4 1080.0,170.7 1081.5,174.7 1083.0,179.1 1084.5,182.9 1086.0,186.6 1087.5,190.3 1089.0,194.8 1089.6,193.5 1090.5,196.4 1092.0,197.2 1093.5,201.2 1095.0,203.8 1096.5,203.8 1098.0,206.5 1099.5,209.2 1101.0,211.8 1101.7,212.7 1102.5,211.9 1104.0,211.9 1105.5,212.2 1107.0,217.2 1108.5,219.4 1110.0,218.9 1111.5,221.9 1113.0,219.6 1114.5,220.7 1116.0,224.9 1117.5,221.5 1117.9,224.4 1119.0,224.7 1120.5,225.1 1122.0,228.6 1123.5,225.0 1125.0,226.5 1126.5,224.4 1128.0,227.0 1129.5,228.6 1131.0,229.5 1132.5,230.5 1134.0,232.0 1135.5,230.9 1137.0,229.2 1138.5,233.5 1140.0,234.6 1141.5,232.2 1142.1,233.1 1143.0,238.0 1144.5,237.1 1146.0,237.7 1147.5,237.5 1149.0,237.0 1150.5,236.2 1152.0,238.7 1153.5,237.7 1155.0,237.6 1156.5,238.7 1158.0,238.9 1159.5,241.0 1161.0,237.6 1162.4,244.5 1162.5,237.6 1164.0,238.9 1165.5,241.7 1167.0,238.2 1168.5,239.0 1170.0,240.0 1171.5,234.1 1173.0,239.0 1174.5,238.2 1176.0,239.6 1177.5,241.2 1179.0,241.5 1180.5,243.3 1182.0,243.2 1183.5,242.5 1185.0,240.4 1186.5,242.6 1186.6,238.6 1188.0,240.6 1189.5,243.7 1191.0,242.8 1192.5,239.1 1194.0,241.1 1195.5,244.3 1197.0,244.3 1198.5,245.7 1200.0,241.3 1201.5,242.8 1203.0,245.3 1204.5,244.7 1206.0,247.0 1207.5,247.7 1209.0,248.9 1210.5,248.6 1212.0,250.4 1212.9,251.1 1213.5,250.2 1215.0,248.2 1216.5,253.3 1218.0,251.8 1219.5,252.7 1221.0,252.8 1222.5,250.0 1224.0,254.5 1225.5,252.7 1227.0,252.0 1228.5,257.1 1230.0,254.5 1231.5,255.9 1233.0,257.4 1234.5,259.0 1236.0,252.9 1237.5,255.2 1239.0,258.1 1240.5,255.8 1242.0,251.2 1243.5,257.9 1245.0,258.3 1246.5,259.6 1248.0,258.8 1249.5,257.7 1251.0,259.2 1252.5,258.9 1254.0,258.2 1255.5,259.9 1257.0,260.3 1258.5,257.8 1260.0,262.0 1260.3,261.6 1261.5,261.7 1263.0,255.1 1264.5,260.8 1266.0,260.6 1267.5,259.1 1269.0,262.3 1270.5,258.5 1272.0,264.0 1273.5,262.6 1275.0,261.0 1276.5,264.9 1278.0,263.2 1279.5,263.2 1281.0,260.1 1282.5,263.8 1284.0,265.7 1285.5,265.2 1287.0,260.5 1288.5,265.9 1290.0,266.3 1290.6,264.8 1291.5,262.3 1293.0,260.1 1294.5,261.2 1296.0,261.8 1297.5,263.3 1299.0,263.7 1300.5,261.0 1302.0,259.1 1303.5,261.3 1305.0,259.3 1306.5,264.1 1308.0,259.0 1309.5,262.0 1311.0,262.4 1312.5,258.7 1314.0,262.1 1315.5,259.7 1317.0,258.2 1318.5,257.6 1320.0,259.3 1321.0,261.0 1321.5,255.2 1323.0,259.7 1324.5,257.9 1326.0,256.4 1327.5,257.3 1329.0,257.1 1330.5,256.6 1332.0,257.7 1333.5,254.1 1335.0,259.0 1336.5,256.6 1338.0,253.4 1339.5,250.5 1341.0,253.5 1342.5,252.4 1344.0,254.1 1345.5,253.7 1347.0,255.5 1348.5,251.3 1350.0,252.7 1351.3,250.2 1351.5,250.2 1353.0,253.5 1354.5,250.1 1356.0,249.9 1357.5,249.2 1359.0,250.3 1360.5,250.6 1362.0,249.0 1363.5,246.8 1365.0,249.4 1366.5,247.0 1368.0,247.7 1369.5,248.6 1371.0,248.4 1372.5,243.3 1374.0,250.7 1375.5,248.7 1377.0,250.6 1378.5,251.4 1380.0,244.5 1381.5,244.9 1381.6,246.4 1383.0,247.2 1384.5,244.0 1386.0,243.7 1387.5,245.3 1389.0,241.1 1390.5,242.2 1392.0,243.0 1393.5,239.9 1395.0,241.1 1396.5,239.0 1398.0,235.9 1399.5,237.6 1399.8,238.3 1401.0,238.0 1402.5,238.8 1404.0,239.5 1405.5,239.3 1407.0,239.1 1408.5,238.0 1410.0,238.4 1411.5,238.2 1413.0,237.8 1414.5,241.8 1416.0,235.4 1417.5,239.7 1419.0,236.1 1420.5,238.3 1422.0,241.1 1423.5,239.4 1425.0,243.0 1426.5,239.9 1428.0,242.0 1429.5,242.6 1431.0,244.8 1432.5,245.3 1434.0,246.1 1435.5,247.5 1436.2,249.6 1437.0,248.1 1438.5,248.2 1440.0,247.9 1441.5,247.5 1443.0,246.4 1444.5,247.4 1446.0,249.7 1447.5,246.3 1449.0,251.4 1450.5,249.5 1452.0,248.8 1453.5,249.7 1455.0,252.2 1456.5,251.8 1458.0,251.7 1459.5,254.8 1461.0,256.1 1462.5,249.1 1464.0,253.4 1465.5,250.3 1467.0,249.2 1468.5,251.0 1470.0,254.1 1471.5,251.6 1473.0,251.4 1474.5,255.2 1476.0,253.5 1477.5,252.4 1479.0,256.2 1480.5,253.7 1482.0,251.3 1483.5,250.7 1485.0,252.0 1486.5,253.3 1488.0,254.8 1489.5,254.7 1491.0,253.2 1492.5,250.7 1492.8,254.9 1494.0,253.1 1495.5,250.7 1497.0,250.2 1498.5,252.6 1500.0,252.5 1501.5,253.2 1503.0,249.0 1504.5,254.6 1506.0,247.3 1507.5,250.3 1509.0,252.4 1510.5,251.3 1511.9,247.3 1512.0,250.0 1513.5,249.9 1515.0,247.6 1516.5,243.4 1518.0,245.3 1519.5,238.8 1521.0,239.8 1522.5,236.9 1523.7,237.6 1524.0,237.9 1525.5,239.8 1527.0,237.8 1528.5,241.3 1530.0,244.2 1531.5,242.8 1532.6,244.0 1533.0,243.7 1534.5,241.4 1536.0,242.1 1537.5,242.9 1539.0,243.7 1540.5,246.8 1542.0,245.9 1543.5,241.7 1545.0,241.7 1546.5,240.5 1548.0,237.8 1549.5,244.9 1551.0,243.3 1551.9,238.3 1552.5,242.1 1554.0,246.5 1555.5,242.6 1557.0,242.3 1558.5,241.4 1560.0,239.2 1561.5,238.0 1563.0,238.1 1564.5,239.3 1566.0,238.1 1567.5,239.1 1569.0,240.4 1569.7,238.1 1570.5,238.2 1572.0,235.4 1573.5,233.0 1575.0,238.0 1576.5,234.6 1578.0,234.3 1579.5,230.7 1581.0,227.4 1581.5,231.7 1582.5,225.4 1584.0,226.8 1585.5,224.4 1587.0,223.4 1588.5,222.1 1590.0,220.0 1591.5,213.8 1591.9,217.7 1593.0,212.1 1594.5,213.8 1596.0,210.3 1597.5,207.3 1599.0,206.3 1600.5,203.2 1602.0,203.3 1602.3,204.3 1603.5,202.5 1605.0,199.2 1606.5,198.8 1608.0,196.7 1609.0,199.9 1609.5,196.6 1611.0,195.7 1612.5,198.1 1614.0,199.9 1615.5,203.1 1617.0,205.6 1617.1,206.9 1618.5,209.1 1620.0,210.5 1621.5,213.4 1623.0,214.3 1624.5,216.7 1626.0,215.6 1627.5,219.6 1629.0,221.4 1630.5,227.6 1632.0,222.5 1633.5,226.0 1635.0,226.4 1636.5,225.5 1638.0,229.5 1639.5,230.2 1640.8,228.8 1641.0,227.5 1642.5,232.3 1644.0,231.2 1645.5,235.8 1647.0,235.4 1648.5,237.8 1650.0,237.5 1651.5,241.6 1653.0,241.3 1654.5,243.7 1656.0,242.3 1657.5,241.3 1659.0,241.4 1660.1,243.6 1660.5,245.2 1662.0,244.3 1663.5,250.5 1665.0,246.7 1666.5,248.3 1668.0,248.2 1669.5,246.4 1671.0,251.1 1672.5,251.0 1674.0,251.9 1675.5,249.3 1677.0,251.6 1677.9,251.9 1678.5,254.3 1680.0,250.4 1681.5,254.8 1683.0,256.6 1684.5,254.4 1686.0,254.4 1687.5,258.9 1689.0,257.5 1690.5,259.7 1692.0,259.3 1692.7,260.1 1693.5,257.7 1695.0,254.1 1696.5,259.6 1698.0,257.2 1699.5,259.9 1701.0,257.8 1702.5,262.2 1704.0,258.6 1705.5,260.8 1707.0,261.5 1708.5,259.2 1710.0,260.0 1711.5,259.4 1713.0,257.5 1713.5,262.4 1714.5,257.5 1716.0,256.2 1717.0,258.4"/>
<polyline fill="none" stroke="#7A2DB6" stroke-width="8.5" stroke-linejoin="round" stroke-linecap="butt" shape-rendering="crispEdges" points="165.0,2640.4 166.1,2637.7 166.5,2643.3 168.0,2646.8 169.5,2650.5 171.0,2645.2 172.5,2641.7 174.0,2640.5 175.5,2648.5 177.0,2653.1 178.5,2646.0 180.0,2638.2 181.5,2639.6 183.0,2652.9 184.5,2645.7 186.0,2635.6 187.5,2644.2 189.0,2638.6 190.5,2641.3 192.0,2642.1 193.5,2640.9 195.0,2647.5 196.5,2644.3 198.0,2641.5 199.5,2646.7 201.0,2648.9 202.5,2636.1 204.0,2643.3 205.5,2639.5 207.0,2643.7 208.5,2637.9 210.0,2644.7 211.5,2644.4 213.0,2643.0 214.5,2639.2 216.0,2642.5 217.5,2638.9 219.0,2637.6 220.5,2645.8 220.7,2638.8 222.0,2650.7 223.5,2648.3 225.0,2634.3 226.5,2645.8 228.0,2638.7 229.5,2644.4 231.0,2644.4 232.5,2634.0 234.0,2642.7 235.5,2642.4 237.0,2648.3 238.5,2637.4 240.0,2646.8 241.5,2637.5 243.0,2641.1 244.5,2638.4 246.0,2649.5 247.5,2644.9 249.0,2653.9 250.5,2644.9 252.0,2645.6 253.5,2645.4 255.0,2638.0 256.5,2640.4 258.0,2647.3 259.5,2638.4 261.0,2641.1 262.5,2639.9 264.0,2642.8 265.5,2637.8 267.0,2638.7 268.5,2640.5 270.0,2639.7 271.5,2634.6 273.0,2643.5 274.5,2632.2 276.0,2632.6 277.5,2632.1 279.0,2643.6 280.5,2636.7 281.3,2633.6 282.0,2632.7 283.5,2640.8 285.0,2633.1 286.5,2632.0 288.0,2641.8 289.5,2632.4 291.0,2637.0 292.5,2638.6 294.0,2636.3 295.5,2638.4 297.0,2645.6 298.5,2636.0 300.0,2632.2 301.5,2629.2 303.0,2637.7 304.5,2636.9 306.0,2640.1 307.5,2636.4 309.0,2636.3 310.5,2635.1 312.0,2636.2 313.5,2639.7 315.0,2636.9 316.5,2639.4 318.0,2648.8 319.5,2641.4 321.0,2630.8 322.5,2648.0 324.0,2640.8 325.5,2634.2 327.0,2643.8 328.5,2639.2 330.0,2636.0 331.5,2635.9 333.0,2634.1 334.5,2639.5 336.0,2644.8 337.5,2637.6 339.0,2641.5 340.5,2649.1 342.0,2633.1 343.5,2640.8 345.0,2637.9 346.5,2634.1 348.0,2634.3 349.5,2639.6 351.0,2641.9 352.5,2637.1 354.0,2640.2 355.5,2643.7 357.0,2641.6 358.5,2644.6 360.0,2642.6 361.5,2642.9 363.0,2649.8 364.5,2643.7 366.0,2641.4 367.5,2644.4 369.0,2636.3 370.5,2639.3 372.0,2645.2 373.5,2644.5 375.0,2649.2 376.5,2641.5 378.0,2634.1 379.5,2651.6 381.0,2647.3 382.5,2636.5 384.0,2649.0 385.5,2642.2 387.0,2632.9 388.5,2640.1 390.0,2639.7 391.5,2650.5 393.0,2638.3 394.5,2641.2 396.0,2641.1 397.5,2640.6 399.0,2637.8 400.5,2643.7 402.0,2648.2 402.6,2645.8 403.5,2637.8 405.0,2636.6 406.5,2643.2 408.0,2638.9 409.5,2639.3 411.0,2633.9 412.5,2652.7 414.0,2647.3 415.5,2637.5 417.0,2647.2 418.5,2649.4 420.0,2630.1 421.5,2639.6 423.0,2640.4 424.5,2645.6 426.0,2641.6 427.5,2641.0 429.0,2641.8 430.5,2651.6 432.0,2653.0 433.5,2639.2 435.0,2637.1 436.5,2655.5 438.0,2636.7 439.5,2638.6 440.0,2641.7 441.0,2642.8 442.5,2641.7 444.0,2635.8 445.5,2628.1 447.0,2627.5 447.2,2626.3 448.5,2627.4 450.0,2618.1 451.5,2610.2 453.0,2606.0 454.4,2605.6 454.5,2601.0 456.0,2590.2 457.5,2582.3 458.7,2573.8 459.0,2573.0 460.5,2556.6 462.0,2543.4 463.1,2531.4 463.5,2525.1 465.0,2506.1 465.9,2496.3 466.5,2488.9 468.0,2470.0 468.8,2458.8 469.5,2448.8 471.0,2422.4 472.5,2396.0 473.1,2385.8 474.0,2373.7 475.5,2355.2 476.0,2353.8 477.0,2340.9 478.5,2331.8 479.6,2332.3 480.0,2325.6 481.5,2334.1 483.0,2338.4 483.2,2343.3 484.5,2360.4 486.0,2382.9 486.1,2385.5 487.5,2408.3 489.0,2429.5 490.5,2451.1 491.9,2472.6 492.0,2473.9 493.5,2499.5 494.8,2516.7 495.0,2517.6 496.5,2528.6 498.0,2538.7 499.1,2547.4 499.5,2547.9 501.0,2556.9 502.5,2562.8 503.4,2563.5 504.0,2566.8 505.5,2574.9 507.0,2577.3 508.5,2576.9 509.2,2575.2 510.0,2582.4 511.5,2582.6 513.0,2584.1 514.5,2585.5 516.0,2589.1 517.5,2589.7 517.8,2593.2 519.0,2592.1 520.5,2592.3 522.0,2588.6 523.5,2582.6 525.0,2582.6 526.5,2585.0 528.0,2581.5 529.5,2586.2 531.0,2590.0 532.5,2584.0 533.7,2580.9 534.0,2593.4 535.5,2589.6 537.0,2593.6 538.5,2586.2 540.0,2600.1 541.5,2597.0 543.0,2594.4 543.7,2593.9 544.5,2596.4 546.0,2596.1 547.5,2596.5 549.0,2593.8 550.5,2605.0 552.0,2600.2 553.5,2601.7 555.0,2602.8 555.3,2592.7 556.5,2605.7 558.0,2603.7 559.5,2605.3 561.0,2608.1 562.5,2605.1 564.0,2613.9 564.4,2607.2 565.5,2606.6 567.0,2607.4 568.5,2612.7 570.0,2616.0 571.5,2610.2 573.0,2606.3 574.5,2618.9 576.0,2609.2 577.5,2620.4 579.0,2614.8 580.5,2612.0 582.0,2612.6 583.5,2618.3 585.0,2620.7 586.5,2615.7 588.0,2621.6 589.5,2627.5 591.0,2616.5 592.5,2612.2 594.0,2612.9 595.5,2611.6 597.0,2615.6 598.5,2615.5 600.0,2612.9 601.5,2622.2 603.0,2607.4 604.5,2614.0 604.8,2630.1 606.0,2625.7 607.5,2623.6 609.0,2623.6 610.5,2630.3 612.0,2624.7 613.5,2622.8 615.0,2616.8 616.5,2622.7 618.0,2619.8 619.5,2620.3 621.0,2620.6 622.5,2624.2 624.0,2623.1 625.5,2629.3 627.0,2619.0 628.5,2624.9 630.0,2635.0 631.5,2626.6 633.0,2632.6 634.5,2632.7 636.0,2633.9 637.5,2631.6 639.0,2622.0 640.5,2627.7 642.0,2627.6 643.5,2622.7 645.0,2628.3 645.2,2624.7 646.5,2623.3 648.0,2632.5 649.5,2632.0 651.0,2629.8 652.5,2629.4 654.0,2632.1 655.5,2633.5 657.0,2634.3 658.5,2636.8 660.0,2636.0 661.5,2640.5 663.0,2642.0 664.5,2642.3 666.0,2638.9 667.5,2640.2 669.0,2645.6 670.5,2644.0 672.0,2645.6 673.5,2636.3 675.0,2636.4 676.5,2650.3 678.0,2651.3 679.5,2656.8 681.0,2654.9 682.5,2653.8 684.0,2653.8 685.5,2648.5 685.7,2658.6 687.0,2653.0 688.5,2658.6 690.0,2658.2 691.5,2659.4 693.0,2663.0 694.5,2657.8 696.0,2659.1 697.5,2657.9 699.0,2660.9 700.5,2670.7 702.0,2662.7 703.5,2670.3 705.0,2669.6 706.5,2670.0 708.0,2671.2 709.5,2664.2 711.0,2671.1 712.5,2677.3 714.0,2668.3 715.5,2672.0 717.0,2670.1 718.5,2675.4 720.0,2670.4 721.5,2682.9 723.0,2675.3 724.5,2671.4 726.0,2686.5 726.1,2683.1 727.5,2682.2 729.0,2683.4 730.5,2681.2 732.0,2683.1 733.5,2688.3 735.0,2690.4 736.5,2691.7 738.0,2689.6 739.5,2687.1 740.0,2688.5 741.0,2695.0 742.5,2697.0 744.0,2688.7 745.5,2688.4 747.0,2697.1 748.5,2694.9 750.0,2695.1 751.5,2685.6 753.0,2690.4 754.5,2690.0 756.0,2693.8 757.5,2684.7 759.0,2699.5 760.5,2694.9 762.0,2695.8 763.5,2687.9 765.0,2693.8 766.5,2700.9 768.0,2686.3 769.5,2695.9 771.0,2698.0 772.5,2691.0 774.0,2698.8 775.5,2693.0 777.0,2701.1 778.5,2697.5 780.0,2696.0 780.4,2705.2 781.5,2699.1 783.0,2701.5 784.5,2688.6 786.0,2691.3 787.5,2698.7 789.0,2698.8 790.5,2693.8 792.0,2697.8 793.5,2688.5 795.0,2694.6 796.5,2687.6 798.0,2694.7 799.5,2690.4 801.0,2689.3 802.5,2692.5 804.0,2700.9 805.5,2686.7 807.0,2688.5 808.5,2696.4 810.0,2688.8 811.5,2699.4 813.0,2691.5 814.5,2690.6 816.0,2691.7 817.5,2698.5 819.0,2692.9 820.5,2692.0 820.9,2690.7 822.0,2681.4 823.5,2684.7 825.0,2696.5 826.5,2693.1 828.0,2691.4 829.5,2691.9 831.0,2685.8 832.5,2690.2 834.0,2683.8 835.5,2690.2 837.0,2684.5 838.5,2686.9 840.0,2690.2 841.5,2686.1 843.0,2691.0 844.5,2689.9 846.0,2689.3 847.5,2694.2 849.0,2679.8 850.5,2679.1 852.0,2690.3 853.5,2691.9 855.0,2697.3 856.5,2690.8 858.0,2691.1 859.5,2682.3 861.0,2690.6 861.3,2690.2 862.5,2681.2 864.0,2682.0 865.5,2686.0 867.0,2688.0 868.5,2671.3 870.0,2686.8 871.5,2687.5 873.0,2685.4 874.5,2687.7 876.0,2688.6 877.5,2681.0 879.0,2688.3 880.5,2684.8 882.0,2681.2 883.5,2687.1 885.0,2693.7 886.5,2678.5 888.0,2677.4 889.5,2677.4 891.0,2696.0 892.5,2684.5 894.0,2685.4 895.5,2681.6 897.0,2680.8 898.5,2675.2 900.0,2686.3 901.5,2686.6 901.7,2675.3 903.0,2680.0 904.5,2681.3 906.0,2684.4 907.5,2685.3 909.0,2688.8 910.5,2689.2 912.0,2687.1 913.5,2687.6 915.0,2675.7 916.5,2677.6 918.0,2684.2 919.5,2679.6 921.0,2677.6 922.5,2668.0 924.0,2667.6 925.5,2678.1 927.0,2675.6 928.5,2672.0 928.7,2671.4 930.0,2664.9 931.5,2673.4 933.0,2675.5 934.5,2677.3 936.0,2669.5 937.5,2667.5 939.0,2662.7 940.5,2671.9 942.0,2673.1 943.5,2662.2 945.0,2665.2 946.5,2663.4 948.0,2659.6 949.5,2650.4 951.0,2658.6 952.5,2661.9 954.0,2652.1 955.5,2653.8 956.3,2642.8 957.0,2662.2 958.5,2657.9 960.0,2655.0 961.5,2652.8 963.0,2650.3 964.5,2651.8 966.0,2649.9 967.5,2649.3 969.0,2649.4 970.5,2649.2 972.0,2654.4 973.5,2640.6 975.0,2647.0 976.5,2642.3 978.0,2639.1 979.5,2632.9 981.0,2644.6 982.5,2636.8 982.6,2637.7 984.0,2641.9 985.5,2634.3 987.0,2637.8 988.5,2636.3 990.0,2638.8 991.5,2638.5 993.0,2629.6 994.5,2635.7 996.0,2630.4 997.5,2630.0 999.0,2627.4 1000.5,2630.2 1002.0,2620.9 1003.5,2625.6 1005.0,2628.0 1006.5,2620.8 1008.0,2628.7 1009.5,2616.3 1011.0,2618.7 1012.5,2614.6 1014.0,2612.5 1015.5,2609.1 1017.0,2609.7 1018.5,2610.0 1020.0,2605.5 1021.5,2610.3 1023.0,2611.1 1024.5,2597.8 1026.0,2605.3 1027.5,2601.2 1029.0,2599.9 1030.5,2607.1 1032.0,2600.8 1033.5,2596.0 1035.0,2594.2 1036.5,2583.3 1038.0,2594.4 1039.5,2587.0 1041.0,2589.7 1042.5,2588.3 1044.0,2590.9 1045.5,2594.5 1047.0,2589.1 1048.5,2589.4 1050.0,2581.9 1051.5,2584.0 1053.0,2584.5 1054.5,2574.0 1056.0,2588.6 1057.5,2575.6 1059.0,2572.3 1060.5,2584.8 1062.0,2586.5 1063.5,2572.9 1065.0,2572.8 1066.5,2589.8 1068.0,2575.2 1069.5,2564.8 1071.0,2570.9 1072.5,2583.0 1074.0,2576.2 1075.5,2576.3 1077.0,2578.2 1078.5,2575.2 1080.0,2570.0 1081.5,2563.6 1083.0,2573.1 1084.5,2565.2 1086.0,2570.1 1087.5,2578.6 1089.0,2572.3 1090.5,2569.7 1092.0,2569.4 1093.5,2572.3 1095.0,2572.8 1096.5,2561.7 1098.0,2568.5 1099.5,2575.5 1101.0,2570.4 1102.5,2562.8 1103.9,2562.8 1104.0,2556.3 1105.5,2561.8 1107.0,2572.4 1108.5,2564.1 1110.0,2559.9 1111.5,2560.6 1113.0,2562.1 1114.5,2561.6 1116.0,2559.8 1117.5,2557.3 1119.0,2563.1 1120.5,2566.7 1122.0,2556.4 1123.5,2556.0 1125.0,2563.6 1126.5,2550.7 1128.0,2554.2 1129.5,2554.7 1131.0,2556.8 1132.5,2554.2 1134.0,2550.9 1135.5,2556.0 1137.0,2548.5 1138.5,2545.4 1140.0,2543.6 1141.5,2556.3 1143.0,2544.0 1144.5,2554.0 1146.0,2554.7 1147.5,2555.0 1149.0,2549.9 1150.3,2547.8 1150.5,2550.9 1152.0,2547.3 1153.5,2543.6 1155.0,2555.6 1156.5,2544.9 1158.0,2557.7 1159.5,2551.1 1161.0,2546.1 1162.5,2550.2 1164.0,2553.8 1165.5,2540.8 1167.0,2542.7 1168.5,2541.9 1170.0,2547.6 1171.5,2548.6 1173.0,2546.5 1174.5,2542.6 1176.0,2543.4 1177.5,2551.8 1179.0,2551.3 1180.5,2546.2 1180.6,2538.9 1182.0,2548.5 1183.5,2546.7 1185.0,2546.4 1186.5,2553.7 1188.0,2548.9 1189.5,2539.7 1191.0,2539.7 1192.5,2551.4 1194.0,2545.3 1195.5,2548.7 1197.0,2543.5 1198.5,2539.1 1200.0,2545.5 1201.5,2552.0 1203.0,2545.7 1204.5,2538.2 1206.0,2542.3 1207.5,2541.3 1209.0,2544.8 1210.5,2549.2 1211.0,2554.2 1212.0,2545.1 1213.5,2541.8 1215.0,2544.5 1216.5,2544.3 1218.0,2542.3 1219.5,2544.7 1221.0,2544.8 1222.5,2539.3 1224.0,2548.0 1225.5,2543.8 1227.0,2541.1 1228.5,2548.6 1230.0,2544.2 1231.5,2555.3 1233.0,2549.5 1234.5,2547.9 1236.0,2544.2 1237.5,2546.2 1239.0,2552.6 1240.5,2545.4 1241.3,2552.6 1242.0,2538.8 1243.5,2550.3 1245.0,2553.6 1246.5,2551.6 1248.0,2550.3 1249.5,2555.6 1251.0,2547.0 1252.5,2546.8 1254.0,2552.4 1255.5,2558.0 1257.0,2554.7 1258.5,2552.1 1260.0,2554.9 1261.5,2555.9 1263.0,2548.2 1264.5,2540.9 1266.0,2549.9 1267.5,2547.9 1269.0,2552.7 1270.5,2549.9 1271.6,2551.7 1272.0,2558.2 1273.5,2556.8 1275.0,2556.4 1276.5,2565.0 1278.0,2554.6 1279.5,2555.2 1281.0,2563.7 1282.5,2551.9 1284.0,2549.5 1285.5,2564.4 1287.0,2559.7 1288.5,2561.2 1290.0,2561.6 1291.5,2563.1 1293.0,2556.4 1294.5,2558.6 1296.0,2553.6 1297.5,2560.1 1299.0,2560.8 1300.5,2557.6 1301.9,2563.4 1302.0,2574.6 1303.5,2554.8 1305.0,2564.8 1306.5,2565.7 1308.0,2566.6 1309.5,2558.0 1311.0,2567.9 1312.5,2565.7 1314.0,2562.5 1315.5,2561.9 1317.0,2565.1 1318.5,2568.8 1320.0,2569.1 1321.5,2576.1 1323.0,2564.3 1324.5,2569.4 1326.0,2565.0 1327.5,2571.2 1329.0,2568.8 1330.5,2566.0 1332.0,2563.2 1332.2,2565.9 1333.5,2571.0 1335.0,2577.2 1336.5,2574.8 1338.0,2567.0 1339.5,2570.9 1341.0,2574.1 1342.5,2574.3 1344.0,2576.0 1345.5,2580.0 1347.0,2578.6 1348.5,2575.7 1350.0,2571.4 1351.5,2579.1 1353.0,2574.4 1354.5,2581.8 1356.0,2584.8 1357.5,2578.5 1359.0,2584.5 1360.5,2584.4 1362.0,2595.1 1362.6,2588.9 1363.5,2578.8 1365.0,2589.9 1366.5,2590.5 1368.0,2588.3 1369.5,2588.2 1371.0,2593.2 1372.5,2594.1 1374.0,2593.7 1375.5,2587.7 1377.0,2591.7 1378.5,2586.3 1380.0,2587.1 1381.5,2592.0 1383.0,2590.2 1384.5,2593.7 1386.0,2607.6 1387.5,2599.0 1389.0,2593.1 1390.5,2587.6 1392.0,2594.3 1392.9,2591.8 1393.5,2588.4 1395.0,2602.5 1396.5,2597.4 1398.0,2602.1 1399.5,2615.1 1401.0,2602.2 1402.5,2601.9 1404.0,2603.5 1405.5,2601.0 1407.0,2598.7 1408.5,2602.1 1410.0,2608.9 1411.5,2602.7 1413.0,2598.0 1414.5,2599.0 1416.0,2600.6 1417.5,2606.0 1419.0,2608.7 1420.5,2609.2 1420.9,2612.7 1422.0,2606.7 1423.5,2612.1 1425.0,2610.6 1426.5,2613.0 1428.0,2602.6 1429.5,2617.1 1431.0,2605.6 1432.5,2608.3 1434.0,2617.6 1435.5,2613.3 1437.0,2623.6 1438.5,2617.3 1440.0,2612.6 1441.5,2618.7 1441.8,2616.3 1443.0,2625.7 1444.5,2626.6 1446.0,2623.3 1447.5,2618.9 1449.0,2621.8 1450.5,2626.8 1452.0,2619.1 1453.5,2619.7 1455.0,2627.9 1456.5,2627.9 1458.0,2623.7 1459.5,2623.8 1461.0,2615.5 1462.5,2631.6 1462.7,2624.8 1464.0,2618.3 1465.5,2619.7 1467.0,2620.4 1468.5,2631.1 1470.0,2625.6 1471.5,2616.1 1473.0,2627.8 1474.5,2624.2 1476.0,2613.3 1477.3,2606.0 1477.5,2619.5 1479.0,2611.6 1480.5,2609.8 1482.0,2604.9 1483.5,2605.9 1485.0,2603.0 1485.6,2599.7 1486.5,2594.8 1488.0,2592.0 1489.5,2589.6 1491.0,2579.0 1491.9,2591.1 1492.5,2583.4 1494.0,2587.0 1495.5,2588.5 1497.0,2593.6 1498.5,2597.0 1500.0,2603.7 1500.3,2596.2 1501.5,2597.6 1503.0,2604.9 1504.5,2607.8 1506.0,2616.4 1507.5,2615.8 1508.6,2620.8 1509.0,2624.2 1510.5,2626.8 1512.0,2625.7 1513.5,2632.0 1515.0,2633.2 1516.5,2622.6 1518.0,2632.2 1519.5,2632.7 1521.0,2631.9 1522.5,2631.9 1524.0,2636.0 1525.3,2638.6 1525.5,2638.4 1527.0,2644.2 1528.5,2644.4 1530.0,2640.1 1531.5,2641.2 1533.0,2648.9 1534.5,2644.9 1536.0,2649.9 1537.5,2652.8 1539.0,2656.6 1540.5,2656.3 1542.0,2661.5 1543.5,2655.7 1545.0,2661.7 1546.2,2657.5 1546.5,2661.2 1548.0,2662.3 1549.5,2659.5 1551.0,2654.2 1552.5,2669.8 1554.0,2668.7 1555.5,2669.1 1557.0,2667.0 1558.5,2669.7 1560.0,2674.1 1561.5,2673.4 1563.0,2679.3 1564.5,2675.9 1566.0,2672.7 1567.1,2679.6 1567.5,2674.3 1569.0,2678.9 1570.5,2670.8 1572.0,2678.0 1573.5,2682.8 1575.0,2678.2 1576.5,2681.8 1578.0,2685.3 1579.5,2683.5 1581.0,2692.1 1582.5,2683.1 1584.0,2683.8 1585.5,2684.2 1587.0,2675.0 1588.0,2677.2 1588.5,2687.9 1590.0,2683.4 1591.5,2692.0 1593.0,2684.4 1594.5,2683.7 1596.0,2689.4 1597.5,2685.4 1599.0,2691.4 1600.5,2678.3 1602.0,2685.1 1603.5,2685.8 1605.0,2684.8 1606.5,2687.2 1608.0,2686.2 1608.9,2681.2 1609.5,2678.3 1611.0,2685.0 1612.5,2680.1 1614.0,2683.6 1615.5,2684.6 1617.0,2678.7 1618.5,2673.1 1620.0,2675.2 1621.5,2678.9 1623.0,2673.6 1624.5,2678.9 1626.0,2673.1 1627.5,2672.6 1629.0,2668.5 1629.8,2670.4 1630.5,2675.2 1632.0,2668.1 1633.5,2667.3 1635.0,2664.4 1636.5,2670.3 1638.0,2659.4 1639.5,2662.3 1641.0,2668.1 1642.5,2669.4 1644.0,2661.3 1645.5,2665.5 1647.0,2651.9 1648.5,2662.8 1650.0,2659.9 1650.7,2652.9 1651.5,2650.0 1653.0,2654.6 1654.5,2657.0 1656.0,2656.5 1657.5,2654.5 1659.0,2656.4 1660.5,2655.2 1662.0,2645.3 1663.5,2648.7 1665.0,2647.2 1666.5,2653.0 1668.0,2645.5 1669.5,2651.1 1671.0,2646.3 1671.6,2655.8 1672.5,2644.8 1674.0,2644.2 1675.5,2642.8 1677.0,2643.0 1678.5,2652.1 1680.0,2638.5 1681.5,2636.0 1683.0,2638.1 1684.5,2641.1 1686.0,2633.0 1687.5,2640.0 1689.0,2639.1 1690.5,2634.2 1692.0,2633.1 1692.5,2630.5 1693.5,2632.3 1695.0,2629.2 1696.5,2637.3 1698.0,2638.2 1699.5,2629.0 1701.0,2629.5 1702.5,2620.1 1704.0,2626.2 1705.0,2630.5 1705.5,2630.2 1707.0,2629.4 1708.0,2633.2"/>
<polyline fill="none" stroke="#134B97" stroke-width="8.5" stroke-linejoin="round" stroke-linecap="butt" shape-rendering="crispEdges" points="165.0,2310.9 166.0,2313.2 166.5,2299.3 168.0,2307.1 169.5,2310.7 171.0,2311.8 172.5,2309.6 174.0,2312.3 175.5,2308.5 177.0,2309.4 178.5,2308.2 180.0,2304.3 181.5,2305.1 183.0,2309.0 184.5,2306.0 186.0,2311.9 187.5,2312.0 189.0,2313.7 190.5,2308.0 192.0,2312.5 193.5,2305.3 195.0,2305.7 196.5,2308.6 198.0,2309.3 199.5,2303.4 200.4,2303.0 201.0,2309.6 202.5,2305.9 204.0,2312.5 205.5,2310.1 207.0,2309.9 208.5,2309.8 210.0,2312.1 211.5,2309.0 213.0,2313.0 214.5,2308.3 216.0,2309.4 217.5,2308.3 219.0,2312.4 220.5,2310.9 222.0,2308.4 223.5,2317.3 225.0,2310.4 226.5,2311.4 228.0,2313.1 229.5,2317.5 231.0,2311.9 232.5,2314.8 234.0,2313.1 235.5,2308.5 237.0,2315.6 238.5,2316.5 240.0,2312.8 240.9,2313.6 241.5,2309.0 243.0,2309.1 244.5,2312.7 246.0,2316.0 247.5,2312.7 249.0,2315.2 250.5,2317.4 252.0,2314.8 253.5,2316.4 255.0,2319.3 256.5,2310.9 258.0,2317.3 259.5,2309.2 261.0,2316.5 262.5,2315.9 264.0,2313.7 265.5,2312.1 267.0,2315.4 268.5,2314.4 270.0,2316.1 271.5,2313.0 273.0,2317.7 274.5,2312.8 276.0,2315.2 277.5,2315.1 279.0,2320.4 280.5,2311.9 281.3,2315.3 282.0,2320.3 283.5,2314.7 285.0,2313.1 286.5,2318.0 288.0,2316.3 289.5,2320.0 291.0,2314.7 292.5,2318.3 294.0,2320.0 295.5,2321.3 297.0,2314.9 298.5,2322.8 300.0,2315.9 301.5,2314.2 303.0,2316.0 304.5,2319.6 306.0,2318.3 307.5,2320.8 309.0,2321.2 310.5,2320.8 312.0,2319.1 313.5,2325.7 315.0,2313.2 316.5,2314.8 318.0,2318.8 319.5,2316.5 321.0,2312.4 322.5,2318.0 324.0,2318.2 325.5,2312.8 325.8,2323.3 327.0,2324.7 328.5,2324.5 330.0,2318.9 331.5,2320.9 333.0,2316.9 334.5,2320.9 336.0,2318.1 337.5,2321.3 339.0,2318.9 340.5,2323.0 342.0,2322.2 343.5,2323.3 345.0,2314.4 346.5,2313.6 348.0,2320.3 349.5,2317.1 351.0,2319.9 352.5,2319.4 354.0,2318.9 355.5,2321.1 357.0,2319.8 358.5,2319.4 360.0,2315.0 361.5,2323.0 362.1,2318.0 363.0,2321.0 364.5,2318.4 366.0,2321.2 367.5,2317.6 369.0,2317.7 370.5,2317.3 372.0,2314.5 373.5,2314.8 375.0,2316.0 376.5,2315.9 378.0,2313.1 379.5,2323.3 381.0,2312.8 382.5,2314.7 384.0,2323.2 385.5,2313.4 387.0,2317.7 388.5,2317.3 390.0,2314.4 391.5,2310.5 393.0,2310.0 394.5,2314.8 396.0,2316.1 397.5,2307.9 399.0,2315.1 400.5,2312.5 402.0,2317.5 402.6,2315.2 403.5,2312.0 405.0,2313.2 406.5,2314.8 408.0,2318.9 409.5,2324.4 411.0,2315.8 412.5,2315.1 414.0,2316.9 415.5,2314.8 417.0,2317.0 418.5,2316.2 420.0,2315.0 421.5,2312.5 423.0,2315.6 424.5,2318.0 426.0,2315.3 427.5,2319.9 429.0,2318.1 430.5,2314.7 432.0,2320.7 433.5,2311.6 435.0,2318.9 436.5,2321.1 438.0,2314.4 439.5,2314.9 440.0,2318.2 441.0,2319.8 442.5,2316.6 444.0,2315.8 445.5,2317.8 447.0,2315.6 448.5,2310.9 450.0,2313.8 451.5,2314.1 453.0,2309.4 453.5,2315.1 454.5,2311.5 456.0,2315.7 457.5,2308.7 459.0,2310.1 460.5,2308.2 462.0,2315.7 463.5,2315.1 464.3,2315.2 465.0,2314.8 466.5,2312.1 468.0,2310.6 469.5,2302.9 471.0,2305.9 472.5,2302.1 473.7,2300.9 474.0,2298.5 475.5,2302.0 477.0,2297.1 478.5,2291.1 480.0,2291.3 480.4,2289.3 481.5,2284.4 483.0,2279.2 484.5,2271.0 486.0,2259.0 487.2,2250.2 487.5,2249.5 489.0,2235.9 489.9,2231.8 490.5,2227.8 492.0,2228.0 493.5,2229.0 493.9,2230.4 495.0,2225.7 496.5,2224.4 498.0,2228.9 499.3,2224.7 499.5,2223.5 501.0,2212.6 502.0,2203.7 502.5,2201.9 504.0,2189.7 504.7,2183.7 505.5,2178.1 507.0,2174.1 508.5,2166.8 508.7,2165.4 510.0,2158.8 511.5,2148.5 512.8,2142.4 513.0,2143.0 514.5,2130.8 516.0,2119.0 516.1,2117.5 517.5,2105.5 518.5,2100.7 519.0,2097.6 520.5,2095.0 522.0,2098.4 522.5,2100.3 523.5,2110.3 524.5,2125.6 525.0,2134.1 526.3,2163.8 526.5,2167.2 528.0,2191.4 528.9,2203.7 529.5,2214.3 531.0,2238.1 531.6,2245.2 532.5,2252.5 534.0,2263.5 534.3,2263.5 535.5,2269.6 537.0,2274.4 538.4,2270.6 538.5,2272.4 540.0,2275.0 541.5,2274.7 543.0,2281.1 544.5,2276.8 546.0,2278.4 547.5,2275.3 547.8,2282.7 549.0,2279.7 550.5,2282.4 552.0,2281.7 553.5,2276.2 554.6,2277.5 555.0,2278.7 556.5,2282.5 558.0,2278.2 559.5,2277.8 561.0,2275.4 561.3,2275.0 562.5,2275.0 564.0,2271.4 565.5,2265.3 567.0,2265.8 568.5,2271.2 569.4,2262.9 570.0,2270.5 571.5,2271.4 573.0,2266.3 574.5,2269.9 576.0,2266.9 577.5,2273.6 579.0,2271.4 580.5,2272.2 582.0,2276.4 583.5,2278.4 585.0,2280.0 586.5,2283.3 588.0,2283.3 588.2,2282.0 589.5,2287.1 591.0,2291.9 592.5,2285.2 594.0,2283.2 595.5,2282.5 597.0,2287.6 598.5,2285.2 600.0,2286.2 601.5,2280.5 601.7,2283.1 603.0,2283.3 604.5,2289.9 606.0,2286.6 607.5,2280.4 609.0,2289.5 610.5,2291.8 612.0,2292.7 613.5,2280.6 615.0,2289.8 616.5,2292.0 618.0,2291.6 619.5,2289.1 620.0,2284.2 621.0,2288.6 622.5,2289.0 624.0,2291.9 625.5,2292.2 627.0,2289.5 628.5,2293.0 630.0,2287.0 631.5,2288.2 633.0,2290.4 634.5,2292.3 636.0,2289.5 637.5,2294.5 639.0,2292.0 640.5,2287.7 642.0,2291.0 643.5,2288.0 645.0,2287.8 646.5,2286.3 648.0,2295.3 649.5,2293.8 651.0,2285.9 652.5,2294.5 654.0,2294.1 655.5,2289.9 657.0,2292.7 658.5,2298.2 660.0,2292.0 661.5,2292.5 663.0,2294.7 664.5,2287.9 666.0,2287.1 667.5,2286.7 669.0,2290.9 670.5,2294.0 672.0,2288.5 673.5,2286.8 673.9,2291.9 675.0,2290.1 676.5,2293.2 678.0,2290.8 679.5,2290.6 681.0,2290.9 682.5,2291.3 684.0,2288.0 685.5,2287.5 687.0,2295.9 688.5,2300.5 690.0,2294.3 691.5,2285.6 693.0,2290.7 694.5,2294.2 696.0,2285.3 697.5,2288.7 699.0,2288.9 700.5,2287.2 702.0,2287.3 703.5,2293.0 705.0,2288.3 706.5,2288.9 708.0,2294.9 709.5,2286.7 711.0,2283.3 712.5,2291.2 714.0,2295.4 715.5,2289.7 717.0,2289.9 718.5,2284.8 720.0,2285.9 721.5,2293.4 723.0,2292.7 724.5,2290.6 726.0,2286.6 727.5,2284.9 727.8,2285.3 729.0,2284.9 730.5,2290.6 732.0,2286.1 733.5,2287.1 735.0,2290.9 736.5,2290.8 738.0,2288.9 739.5,2290.3 741.0,2288.8 742.5,2282.7 744.0,2288.6 745.5,2287.6 747.0,2287.8 748.5,2289.8 750.0,2287.3 751.5,2293.0 753.0,2288.7 754.5,2289.8 756.0,2290.4 757.5,2288.9 759.0,2291.6 760.5,2292.0 762.0,2291.7 763.5,2287.6 765.0,2287.1 766.5,2288.1 768.0,2290.2 769.5,2284.4 771.0,2287.7 772.5,2286.8 774.0,2288.4 775.5,2287.8 777.0,2293.3 778.5,2292.3 780.0,2294.0 781.5,2288.0 781.7,2288.7 783.0,2290.3 784.5,2296.5 786.0,2296.7 787.5,2289.9 789.0,2293.9 790.5,2298.7 792.0,2289.3 793.5,2292.1 795.0,2296.9 796.5,2295.5 798.0,2290.6 799.5,2298.4 801.0,2297.1 802.5,2296.6 804.0,2291.1 805.5,2294.7 807.0,2299.5 808.5,2297.3 810.0,2298.6 811.5,2295.7 813.0,2301.4 814.5,2296.5 816.0,2300.3 817.5,2298.8 819.0,2295.2 820.5,2302.9 822.0,2294.9 823.5,2296.8 825.0,2299.7 826.5,2295.2 828.0,2294.2 829.5,2299.6 831.0,2298.8 832.5,2299.4 834.0,2302.0 835.5,2307.6 835.6,2299.3 837.0,2308.3 838.5,2301.5 840.0,2300.6 841.5,2292.5 843.0,2296.3 844.5,2302.0 846.0,2303.0 847.5,2298.7 849.0,2302.3 850.5,2304.3 852.0,2299.8 853.5,2296.5 855.0,2298.6 856.5,2300.8 858.0,2302.7 859.5,2304.3 861.0,2299.0 862.5,2302.1 864.0,2301.3 865.5,2302.2 867.0,2305.7 868.5,2306.4 870.0,2300.8 871.5,2300.5 873.0,2300.3 874.5,2300.8 876.0,2301.3 877.5,2302.1 879.0,2301.1 880.5,2299.4 882.0,2299.1 883.5,2303.1 885.0,2310.7 886.5,2304.8 888.0,2305.2 889.5,2304.3 891.0,2302.8 892.5,2309.6 894.0,2302.5 895.5,2300.5 897.0,2299.7 898.5,2304.3 900.0,2300.7 901.5,2301.2 903.0,2301.3 904.5,2300.0 906.0,2304.7 907.5,2299.0 909.0,2311.5 910.5,2295.8 912.0,2300.2 913.5,2304.9 915.0,2306.1 916.5,2303.8 918.0,2305.9 919.5,2305.7 921.0,2305.6 922.5,2307.1 924.0,2306.2 925.5,2305.2 927.0,2305.1 928.5,2308.4 930.0,2305.1 931.5,2307.6 933.0,2310.8 934.5,2307.1 936.0,2309.8 937.5,2304.6 939.0,2306.9 940.5,2307.6 942.0,2306.8 943.5,2307.6 945.0,2310.5 946.5,2305.0 948.0,2303.9 949.5,2307.0 951.0,2301.3 952.5,2305.8 954.0,2309.6 955.5,2305.7 957.0,2307.4 958.5,2306.8 960.0,2309.3 961.5,2307.0 963.0,2306.0 964.5,2294.8 966.0,2303.5 967.5,2307.2 969.0,2304.4 970.5,2302.4 972.0,2307.4 973.5,2301.7 975.0,2303.2 976.5,2306.2 978.0,2302.3 979.5,2304.3 981.0,2303.5 982.5,2299.7 983.9,2301.6 984.0,2302.0 985.5,2300.9 987.0,2305.7 988.5,2302.0 990.0,2299.7 991.5,2297.0 993.0,2299.4 994.5,2303.1 996.0,2297.9 997.5,2299.9 999.0,2298.2 1000.0,2295.1 1000.5,2293.6 1002.0,2296.2 1003.5,2289.4 1005.0,2293.0 1006.5,2287.1 1008.0,2290.3 1009.5,2285.8 1010.1,2286.1 1011.0,2288.3 1012.5,2281.9 1014.0,2283.4 1015.5,2281.3 1017.0,2282.6 1018.5,2282.6 1020.0,2281.1 1020.2,2280.9 1021.5,2279.7 1023.0,2283.6 1024.5,2283.9 1026.0,2287.1 1027.5,2289.7 1029.0,2288.2 1030.3,2289.5 1030.5,2293.2 1032.0,2293.5 1033.5,2297.8 1035.0,2288.7 1036.5,2296.6 1038.0,2299.8 1039.5,2297.8 1041.0,2300.3 1042.5,2298.8 1044.0,2299.0 1045.5,2302.3 1047.0,2296.1 1048.5,2293.5 1050.0,2301.9 1050.5,2300.9 1051.5,2300.9 1053.0,2301.6 1054.5,2302.8 1056.0,2299.5 1057.5,2302.5 1059.0,2302.1 1060.5,2297.7 1062.0,2300.9 1063.5,2302.3 1065.0,2299.1 1066.5,2304.9 1068.0,2300.8 1069.5,2304.3 1071.0,2306.5 1072.5,2297.3 1074.0,2297.9 1075.5,2304.0 1077.0,2301.6 1078.5,2303.9 1080.0,2307.7 1081.5,2300.8 1083.0,2305.1 1084.5,2301.6 1086.0,2300.4 1087.5,2304.0 1089.0,2303.4 1090.5,2306.0 1092.0,2303.6 1093.5,2305.4 1095.0,2304.3 1096.5,2297.3 1098.0,2301.5 1099.5,2301.7 1101.0,2305.5 1101.1,2299.4 1102.5,2303.3 1104.0,2301.4 1105.5,2296.9 1107.0,2302.1 1108.5,2304.6 1110.0,2301.4 1111.5,2305.4 1113.0,2303.6 1114.5,2303.3 1116.0,2300.7 1117.5,2301.7 1119.0,2303.6 1120.5,2302.1 1122.0,2298.1 1123.5,2301.3 1125.0,2303.0 1126.5,2305.2 1128.0,2304.2 1129.5,2298.4 1131.0,2303.6 1132.5,2296.3 1134.0,2299.2 1135.5,2298.6 1137.0,2305.8 1138.5,2303.1 1140.0,2301.8 1141.5,2298.9 1143.0,2304.7 1144.5,2299.9 1146.0,2302.2 1147.5,2304.2 1149.0,2299.7 1150.5,2302.3 1151.6,2294.3 1152.0,2302.5 1153.5,2295.2 1155.0,2302.0 1156.5,2301.6 1158.0,2302.2 1159.5,2308.1 1161.0,2292.9 1162.5,2302.3 1164.0,2299.6 1165.5,2303.3 1167.0,2302.0 1168.5,2301.4 1170.0,2299.5 1171.5,2299.0 1173.0,2302.4 1174.5,2296.7 1176.0,2304.8 1177.5,2299.8 1179.0,2303.1 1180.5,2298.1 1182.0,2303.3 1183.5,2301.3 1185.0,2304.5 1186.5,2306.1 1188.0,2300.7 1189.5,2302.9 1191.0,2303.4 1192.5,2307.3 1194.0,2298.9 1195.5,2304.9 1197.0,2303.2 1198.5,2299.7 1200.0,2302.5 1201.5,2301.7 1202.1,2307.2 1203.0,2301.0 1204.5,2307.2 1206.0,2303.1 1207.5,2306.8 1209.0,2300.2 1210.5,2303.4 1212.0,2306.6 1213.5,2304.0 1215.0,2302.7 1216.5,2307.7 1218.0,2310.4 1219.5,2308.8 1221.0,2308.7 1222.5,2311.0 1224.0,2309.2 1225.5,2313.6 1227.0,2314.6 1228.5,2308.2 1230.0,2315.4 1231.5,2314.7 1232.5,2313.8 1233.0,2315.1 1234.5,2317.6 1236.0,2319.4 1237.5,2318.8 1239.0,2313.5 1240.5,2318.5 1242.0,2309.7 1243.5,2317.7 1245.0,2317.4 1246.5,2318.5 1248.0,2313.0 1249.5,2320.4 1251.0,2320.1 1252.5,2317.1 1254.0,2312.3 1255.5,2317.9 1257.0,2314.5 1258.5,2312.6 1260.0,2315.4 1261.5,2324.9 1262.8,2313.5 1263.0,2316.9 1264.5,2318.8 1266.0,2321.3 1267.5,2315.7 1269.0,2316.1 1270.5,2321.9 1272.0,2320.4 1273.5,2323.5 1275.0,2316.4 1276.5,2319.8 1278.0,2323.2 1279.5,2320.7 1280.0,2316.7 1281.0,2320.7 1282.5,2314.2 1284.0,2317.8 1285.5,2322.7 1287.0,2323.0 1288.5,2321.5 1290.0,2322.3 1291.5,2315.3 1293.0,2318.0 1294.5,2323.3 1296.0,2327.2 1297.5,2321.4 1299.0,2317.0 1300.5,2316.8 1302.0,2323.6 1303.5,2323.1 1305.0,2315.9 1306.5,2320.0 1308.0,2323.9 1309.5,2323.9 1311.0,2317.8 1312.5,2318.8 1314.0,2320.8 1315.5,2315.8 1317.0,2314.1 1318.5,2317.0 1320.0,2322.9 1321.5,2322.5 1323.0,2320.5 1324.5,2315.2 1326.0,2312.7 1327.5,2315.6 1329.0,2318.9 1330.5,2322.0 1332.0,2315.9 1333.5,2318.9 1335.0,2312.9 1336.5,2311.9 1338.0,2318.6 1339.5,2314.8 1341.0,2315.2 1342.5,2311.3 1344.0,2321.1 1345.5,2312.8 1347.0,2318.6 1348.5,2313.8 1350.0,2317.4 1351.5,2322.8 1353.0,2319.4 1354.5,2319.1 1356.0,2321.6 1357.5,2320.5 1359.0,2323.2 1360.5,2314.3 1362.0,2323.2 1363.5,2319.2 1365.0,2315.8 1366.5,2321.1 1368.0,2320.9 1369.5,2319.3 1371.0,2322.1 1372.5,2315.3 1374.0,2314.2 1375.5,2317.7 1377.0,2323.0 1378.5,2321.3 1380.0,2319.7 1381.5,2317.8 1383.0,2319.8 1384.5,2323.6 1386.0,2318.2 1387.5,2318.1 1389.0,2321.4 1390.5,2322.1 1392.0,2320.5 1393.5,2324.7 1395.0,2320.8 1395.9,2317.0 1396.5,2313.1 1398.0,2323.9 1399.5,2319.6 1401.0,2321.1 1402.5,2321.4 1404.0,2324.1 1405.5,2323.1 1407.0,2322.8 1408.5,2320.5 1410.0,2318.7 1411.5,2320.1 1413.0,2316.6 1414.5,2320.0 1416.0,2322.0 1417.5,2320.7 1419.0,2318.7 1420.5,2315.4 1422.0,2315.1 1423.5,2315.3 1425.0,2316.0 1426.5,2318.3 1428.0,2318.2 1429.5,2318.1 1431.0,2319.2 1432.5,2312.9 1434.0,2314.9 1435.5,2316.9 1437.0,2317.4 1438.5,2312.7 1439.4,2312.4 1440.0,2317.9 1441.5,2316.2 1443.0,2315.3 1444.5,2312.8 1446.0,2310.5 1447.5,2313.0 1449.0,2313.7 1450.5,2314.0 1452.0,2314.7 1453.5,2312.1 1455.0,2315.1 1456.5,2310.0 1458.0,2311.5 1459.5,2310.2 1461.0,2304.4 1462.5,2305.1 1464.0,2306.6 1465.5,2307.6 1467.0,2306.7 1468.5,2306.3 1470.0,2300.8 1471.5,2296.9 1473.0,2294.3 1474.5,2287.9 1476.0,2286.0 1477.0,2282.2 1477.5,2283.0 1479.0,2278.1 1480.5,2275.0 1482.0,2275.4 1483.5,2270.2 1485.0,2268.7 1486.5,2260.8 1488.0,2256.3 1488.6,2253.7 1489.5,2252.6 1491.0,2245.5 1492.5,2243.9 1494.0,2238.5 1495.5,2233.1 1497.0,2228.8 1497.3,2230.0 1498.5,2229.0 1500.0,2227.3 1501.5,2221.6 1503.0,2223.6 1504.5,2224.1 1504.6,2230.2 1506.0,2224.6 1507.5,2227.2 1509.0,2225.7 1510.5,2229.8 1512.0,2231.3 1513.5,2233.9 1514.7,2238.7 1515.0,2237.7 1516.5,2243.7 1518.0,2243.7 1519.5,2247.5 1521.0,2247.6 1522.5,2251.1 1524.0,2257.4 1525.5,2258.0 1526.3,2263.3 1527.0,2260.7 1528.5,2263.7 1530.0,2272.2 1531.5,2268.6 1533.0,2274.0 1534.5,2279.1 1536.0,2282.3 1537.5,2281.8 1539.0,2291.1 1540.5,2288.4 1540.8,2285.8 1542.0,2293.6 1543.5,2293.1 1545.0,2296.6 1546.5,2300.4 1548.0,2299.0 1549.5,2301.4 1551.0,2304.6 1552.5,2308.4 1554.0,2304.5 1555.3,2312.5 1555.5,2309.8 1557.0,2306.7 1558.5,2310.7 1560.0,2313.0 1561.5,2315.6 1563.0,2315.3 1564.5,2316.7 1566.0,2313.5 1567.5,2316.5 1569.0,2306.2 1569.8,2317.7 1570.5,2314.4 1572.0,2319.6 1573.5,2312.6 1575.0,2312.9 1576.5,2314.5 1578.0,2316.9 1579.5,2315.3 1581.0,2317.5 1582.5,2314.3 1584.0,2317.4 1585.5,2322.8 1587.0,2317.8 1588.5,2315.8 1590.0,2309.2 1591.5,2315.6 1593.0,2316.9 1594.5,2312.9 1596.0,2316.6 1597.5,2306.4 1599.0,2311.0 1600.5,2310.1 1602.0,2314.5 1603.5,2310.2 1605.0,2309.6 1606.5,2317.1 1608.0,2307.9 1609.5,2313.9 1611.0,2315.7 1612.5,2311.3 1614.0,2309.2 1615.5,2311.4 1617.0,2310.1 1618.5,2309.3 1620.0,2312.5 1621.5,2311.6 1623.0,2321.6 1624.5,2315.8 1626.0,2312.3 1627.5,2313.5 1627.7,2317.0 1629.0,2315.4 1630.5,2311.9 1632.0,2309.2 1633.5,2317.4 1635.0,2311.8 1636.5,2312.6 1638.0,2316.2 1639.5,2312.6 1641.0,2316.1 1642.5,2311.2 1644.0,2312.8 1645.5,2311.7 1647.0,2319.0 1648.5,2308.0 1650.0,2312.0 1651.5,2310.0 1653.0,2310.6 1654.5,2309.0 1656.0,2310.5 1657.5,2317.0 1659.0,2317.8 1660.5,2311.4 1662.0,2309.8 1663.5,2312.2 1665.0,2318.9 1666.5,2313.7 1668.0,2307.4 1669.5,2316.8 1671.0,2313.9 1672.5,2316.4 1674.0,2315.8 1675.5,2310.6 1677.0,2318.0 1678.5,2317.0 1680.0,2312.9 1681.5,2308.0 1683.0,2311.6 1684.5,2311.7 1686.0,2317.6 1687.5,2313.6 1689.0,2314.2 1690.5,2315.7 1692.0,2314.3 1693.5,2317.0 1695.0,2316.8 1696.5,2318.8 1698.0,2311.9 1699.5,2317.0 1700.2,2315.0 1701.0,2322.6 1702.5,2320.5 1704.0,2314.5 1705.5,2318.9 1707.0,2310.2 1708.0,2312.5"/>
<polyline fill="none" stroke="#BF1010" stroke-width="8.5" stroke-linejoin="round" stroke-linecap="butt" shape-rendering="crispEdges" points="165.0,2068.5 166.5,2069.9 166.7,2067.2 168.0,2064.2 169.5,2066.3 171.0,2063.8 172.5,2068.8 174.0,2074.9 175.5,2066.2 177.0,2065.6 178.5,2070.9 180.0,2070.3 181.5,2069.1 183.0,2064.2 184.5,2068.5 186.0,2072.0 187.5,2062.2 189.0,2066.5 190.5,2059.6 192.0,2062.6 193.5,2060.0 195.0,2067.7 196.5,2062.8 198.0,2070.1 199.5,2069.6 201.0,2068.0 202.5,2057.0 204.0,2066.4 205.5,2068.8 207.0,2069.6 208.5,2061.8 210.0,2066.8 211.5,2064.5 213.0,2065.3 214.5,2074.3 216.0,2065.4 217.5,2069.2 219.0,2073.6 220.5,2066.6 222.0,2068.9 223.5,2070.0 225.0,2069.8 226.5,2063.7 228.0,2069.9 229.5,2076.1 231.0,2062.3 232.5,2073.8 234.0,2070.3 235.5,2066.7 237.0,2079.3 238.5,2073.5 240.0,2064.2 240.9,2070.3 241.5,2072.7 243.0,2069.1 244.5,2073.2 246.0,2069.7 247.5,2073.3 249.0,2077.0 250.5,2067.0 252.0,2071.2 253.5,2068.1 255.0,2071.0 256.5,2064.8 258.0,2067.7 259.5,2069.6 261.0,2074.8 262.5,2076.1 264.0,2064.5 265.5,2067.0 267.0,2073.9 268.5,2061.5 270.0,2068.8 271.5,2070.6 273.0,2077.1 274.5,2074.4 276.0,2069.7 277.5,2069.6 279.0,2070.2 280.5,2078.7 282.0,2069.5 283.5,2070.2 285.0,2073.3 286.5,2071.1 288.0,2070.8 289.5,2066.6 291.0,2071.8 292.5,2069.9 294.0,2077.5 295.5,2075.2 297.0,2072.0 298.5,2075.3 300.0,2070.6 301.5,2077.3 303.0,2072.3 304.5,2075.1 306.0,2066.2 307.5,2074.1 309.0,2064.4 310.5,2062.8 312.0,2071.1 313.5,2068.2 315.0,2073.3 316.5,2083.3 318.0,2068.6 319.5,2069.6 321.0,2073.6 321.7,2075.0 322.5,2071.8 324.0,2071.6 325.5,2076.0 327.0,2075.1 328.5,2067.6 330.0,2072.2 331.5,2072.8 333.0,2067.5 334.5,2073.8 336.0,2068.5 337.5,2077.3 339.0,2073.5 340.5,2073.0 342.0,2069.8 343.5,2072.0 345.0,2063.0 346.5,2067.2 348.0,2074.3 349.5,2062.4 351.0,2076.7 352.5,2064.2 354.0,2076.2 355.5,2068.5 357.0,2076.3 358.5,2073.2 360.0,2065.2 361.5,2078.6 363.0,2079.5 364.5,2072.3 366.0,2071.3 367.5,2071.8 369.0,2067.9 370.5,2077.9 372.0,2070.0 373.5,2072.4 375.0,2068.8 376.5,2069.6 378.0,2066.5 379.5,2078.6 381.0,2071.9 382.5,2077.2 384.0,2072.7 385.5,2069.3 387.0,2071.0 388.5,2069.9 390.0,2072.6 391.5,2070.8 393.0,2071.2 394.5,2066.0 396.0,2068.7 397.5,2080.5 399.0,2069.4 400.5,2067.5 402.0,2074.2 402.6,2079.4 403.5,2065.6 405.0,2071.6 406.5,2069.6 408.0,2064.1 409.5,2076.1 411.0,2072.4 412.5,2072.9 414.0,2068.9 415.5,2074.6 417.0,2069.8 418.5,2071.7 420.0,2067.1 421.5,2066.5 423.0,2078.5 424.5,2069.7 426.0,2073.4 427.5,2071.8 429.0,2069.8 430.5,2069.4 432.0,2074.7 433.5,2070.2 435.0,2070.8 436.5,2071.5 438.0,2076.8 439.5,2074.3 441.0,2072.8 442.5,2068.2 444.0,2064.3 445.5,2075.0 447.0,2074.9 448.5,2069.6 450.0,2072.5 451.1,2073.5 451.5,2073.6 453.0,2073.4 454.5,2066.9 456.0,2073.7 457.5,2062.0 459.0,2068.3 460.5,2065.2 462.0,2064.5 463.5,2065.4 464.6,2062.2 465.0,2053.7 466.5,2049.0 468.0,2048.3 469.5,2037.4 470.0,2036.2 471.0,2029.2 472.5,2009.9 474.0,1992.7 475.5,1981.1 477.0,1967.2 478.5,1954.1 479.4,1947.5 480.0,1941.7 481.5,1929.9 483.0,1922.6 483.5,1918.6 484.5,1912.5 486.0,1909.6 487.5,1903.1 488.8,1903.5 489.0,1897.8 490.5,1904.6 492.0,1913.0 493.5,1923.0 494.2,1928.8 495.0,1932.0 496.5,1943.7 498.0,1953.4 499.5,1964.7 499.6,1958.0 501.0,1967.8 502.5,1969.9 504.0,1973.9 505.5,1973.4 507.0,1979.5 507.7,1984.4 508.5,1984.3 510.0,1989.0 511.5,1991.6 513.0,1998.9 514.5,1993.6 516.0,1984.1 517.5,1989.4 519.0,1984.0 520.5,1978.5 522.0,1984.7 523.0,1992.1 523.5,1986.4 525.0,1986.2 526.0,1989.7 526.5,1996.1 528.0,2000.2 529.5,2006.5 530.0,2007.9 531.0,2010.8 532.5,2016.6 534.0,2019.2 535.5,2021.0 537.0,2018.9 537.4,2024.7 538.5,2021.6 540.0,2029.5 541.5,2021.9 543.0,2027.3 544.5,2028.8 546.0,2024.4 547.5,2037.5 548.1,2036.8 549.0,2029.5 550.5,2035.3 552.0,2034.4 553.5,2022.5 555.0,2035.1 556.5,2034.4 558.0,2035.6 559.5,2031.2 560.0,2034.9 561.0,2035.6 562.5,2042.0 564.0,2038.9 565.5,2038.0 567.0,2045.1 568.5,2036.6 570.0,2037.8 571.5,2032.1 573.0,2047.3 574.5,2045.2 576.0,2045.5 577.5,2044.9 579.0,2043.0 580.4,2044.0 580.5,2042.1 582.0,2042.9 583.5,2044.6 585.0,2051.3 586.5,2048.1 588.0,2046.3 589.5,2044.9 591.0,2045.5 592.5,2055.4 594.0,2051.8 595.5,2050.8 597.0,2049.9 598.5,2047.6 600.0,2052.7 601.5,2057.3 603.0,2052.9 604.5,2054.3 606.0,2055.1 607.5,2057.1 609.0,2050.6 610.5,2057.0 612.0,2054.8 613.5,2062.9 615.0,2056.1 616.5,2062.4 618.0,2067.1 619.5,2059.0 620.9,2057.8 621.0,2061.5 622.5,2060.7 624.0,2056.2 625.5,2063.1 627.0,2070.5 628.5,2060.0 630.0,2060.4 631.5,2056.5 633.0,2063.0 634.5,2055.7 636.0,2056.4 637.5,2067.8 639.0,2057.5 640.5,2067.0 642.0,2069.2 643.5,2063.2 645.0,2064.7 646.5,2071.4 648.0,2061.2 649.5,2059.4 651.0,2055.9 652.5,2062.5 654.0,2069.4 655.5,2067.0 657.0,2058.0 658.5,2058.5 660.0,2060.2 661.5,2064.0 663.0,2061.7 664.5,2063.8 666.0,2064.3 667.5,2061.5 669.0,2062.8 670.5,2064.0 672.0,2062.7 673.5,2065.6 674.8,2072.1 675.0,2066.1 676.5,2063.7 678.0,2055.6 679.5,2065.4 681.0,2054.5 682.5,2057.1 684.0,2067.9 685.5,2067.3 687.0,2063.3 688.5,2056.1 690.0,2062.5 691.5,2061.2 693.0,2067.4 694.5,2075.1 696.0,2065.7 697.5,2061.1 699.0,2059.4 700.5,2064.7 702.0,2064.2 703.5,2059.8 705.0,2065.8 706.5,2060.0 708.0,2070.7 709.5,2070.6 711.0,2070.8 712.5,2063.7 714.0,2068.4 715.5,2065.5 717.0,2064.5 718.5,2064.8 720.0,2060.5 721.5,2060.0 723.0,2070.5 724.5,2066.1 726.0,2068.1 727.5,2071.9 728.7,2059.4 729.0,2063.8 730.5,2068.4 732.0,2069.6 733.5,2066.3 735.0,2072.9 736.5,2069.4 738.0,2063.2 739.5,2064.7 741.0,2072.8 742.5,2071.6 744.0,2061.2 745.5,2076.1 747.0,2073.0 748.5,2076.7 750.0,2069.2 751.5,2069.9 753.0,2066.5 754.5,2083.2 756.0,2071.4 757.5,2079.6 759.0,2069.9 760.5,2073.8 762.0,2065.9 763.5,2072.0 765.0,2078.4 766.5,2068.7 768.0,2079.4 769.5,2076.4 771.0,2070.4 772.5,2073.1 774.0,2073.5 775.5,2075.6 777.0,2073.6 778.5,2072.5 780.0,2075.1 781.5,2071.9 782.6,2070.8 783.0,2076.6 784.5,2081.1 786.0,2070.1 787.5,2077.3 789.0,2074.5 790.5,2073.1 792.0,2081.8 793.5,2075.6 795.0,2085.1 796.5,2074.7 798.0,2080.2 799.5,2077.5 801.0,2075.3 802.5,2081.6 804.0,2078.3 805.5,2082.0 807.0,2079.1 808.5,2074.4 810.0,2079.1 811.5,2080.0 813.0,2084.3 814.5,2075.7 816.0,2079.9 817.5,2072.1 819.0,2083.4 820.5,2075.3 822.0,2072.0 823.5,2080.3 825.0,2085.9 826.5,2073.5 828.0,2075.6 829.5,2077.3 831.0,2075.5 832.5,2082.7 834.0,2077.0 835.5,2077.4 836.5,2083.7 837.0,2077.3 838.5,2083.0 840.0,2076.2 841.5,2075.1 843.0,2072.1 844.5,2089.7 846.0,2079.3 847.5,2081.9 849.0,2080.6 850.5,2081.4 852.0,2080.8 853.5,2089.6 855.0,2075.6 856.5,2073.1 858.0,2075.6 859.5,2074.0 861.0,2083.7 862.5,2084.0 864.0,2075.5 865.5,2073.4 867.0,2078.2 868.5,2086.3 870.0,2066.4 871.5,2082.1 873.0,2074.4 874.5,2084.3 876.0,2074.2 877.5,2077.8 879.0,2072.0 880.5,2074.4 882.0,2085.3 883.5,2082.6 885.0,2076.7 886.5,2074.4 888.0,2069.5 889.5,2076.4 890.4,2078.1 891.0,2077.8 892.5,2077.6 894.0,2072.7 895.5,2077.4 897.0,2077.4 898.5,2083.3 900.0,2085.7 901.5,2076.3 903.0,2073.2 904.5,2076.2 906.0,2073.5 907.5,2072.6 909.0,2075.5 910.5,2070.8 912.0,2078.0 913.5,2074.6 915.0,2075.9 916.5,2073.7 918.0,2071.0 919.5,2069.7 920.0,2072.9 921.0,2071.3 922.5,2074.7 924.0,2073.4 925.5,2067.0 927.0,2073.3 928.5,2066.6 930.0,2069.8 931.5,2071.0 933.0,2062.7 934.5,2072.4 936.0,2072.4 937.5,2070.8 939.0,2069.3 940.5,2069.3 942.0,2066.3 943.5,2069.3 945.0,2067.7 946.5,2070.3 948.0,2064.2 949.5,2070.2 950.3,2069.6 951.0,2068.2 952.5,2066.5 954.0,2070.3 955.5,2060.3 957.0,2068.8 958.5,2067.2 960.0,2066.7 961.5,2066.4 963.0,2061.4 964.5,2062.2 966.0,2065.1 967.5,2063.4 969.0,2061.6 970.5,2053.9 972.0,2061.1 973.5,2062.5 975.0,2060.8 976.5,2056.6 978.0,2048.7 979.5,2056.7 981.0,2051.3 982.5,2041.2 984.0,2050.1 985.5,2041.9 986.7,2041.3 987.0,2043.3 988.5,2047.9 990.0,2040.3 991.5,2040.2 993.0,2042.2 994.5,2038.9 996.0,2031.0 996.8,2028.9 997.5,2024.6 999.0,2022.6 1000.5,2021.1 1002.0,2016.3 1003.5,2010.6 1004.9,2007.4 1005.0,2003.3 1006.5,1998.4 1008.0,1992.4 1009.5,1984.7 1011.0,1979.2 1012.5,1972.2 1014.0,1965.3 1015.5,1962.0 1017.0,1954.4 1018.5,1948.4 1020.0,1949.3 1021.5,1943.7 1023.0,1942.3 1024.1,1932.7 1024.5,1939.0 1026.0,1939.2 1027.5,1940.2 1029.0,1938.1 1030.5,1946.6 1031.2,1951.5 1032.0,1951.2 1033.5,1951.2 1035.0,1956.3 1036.5,1962.0 1038.0,1956.5 1039.3,1966.6 1039.5,1968.8 1041.0,1972.9 1042.5,1979.3 1044.0,1981.8 1045.5,1983.4 1047.0,1987.0 1047.4,1989.3 1048.5,1988.1 1050.0,1992.9 1051.5,1998.9 1053.0,2005.2 1054.5,2002.1 1056.0,2005.0 1057.5,2008.0 1059.0,2013.7 1060.5,2010.7 1062.0,2017.7 1063.5,2010.5 1065.0,2014.7 1066.5,2015.9 1068.0,2020.8 1069.5,2022.9 1071.0,2012.9 1071.6,2015.6 1072.5,2021.3 1074.0,2017.4 1075.5,2014.0 1077.0,2025.7 1078.5,2023.6 1080.0,2024.0 1081.5,2019.9 1083.0,2027.0 1084.5,2021.5 1086.0,2027.8 1087.5,2018.8 1089.0,2019.2 1090.5,2024.3 1091.8,2020.2 1092.0,2026.7 1093.5,2024.9 1095.0,2019.5 1096.5,2024.3 1098.0,2022.5 1099.5,2028.5 1101.0,2021.5 1102.5,2022.5 1104.0,2030.3 1105.5,2035.3 1107.0,2034.3 1108.5,2025.3 1110.0,2026.1 1111.5,2032.4 1113.0,2024.7 1114.5,2020.7 1116.0,2025.9 1117.5,2027.6 1119.0,2021.5 1120.5,2017.6 1122.0,2018.6 1122.1,2028.7 1123.5,2021.9 1125.0,2024.8 1126.5,2026.4 1128.0,2028.2 1129.5,2023.6 1131.0,2027.4 1132.5,2020.8 1134.0,2023.1 1135.5,2019.9 1137.0,2029.8 1138.5,2024.3 1140.0,2020.8 1141.5,2022.5 1143.0,2022.9 1144.5,2027.1 1146.0,2016.2 1147.5,2018.8 1149.0,2021.8 1150.5,2035.6 1152.0,2028.1 1152.5,2023.0 1153.5,2026.9 1155.0,2033.3 1156.5,2022.4 1158.0,2021.8 1159.5,2029.4 1161.0,2026.0 1162.5,2026.9 1164.0,2021.4 1165.5,2033.0 1167.0,2032.0 1168.5,2026.8 1170.0,2027.4 1171.5,2014.9 1173.0,2027.5 1174.5,2023.7 1176.0,2026.8 1177.5,2028.1 1179.0,2023.5 1180.5,2017.4 1182.0,2027.1 1182.8,2022.1 1183.5,2024.1 1185.0,2023.2 1186.5,2024.7 1188.0,2016.7 1189.5,2032.4 1191.0,2028.8 1192.5,2033.0 1194.0,2037.3 1195.5,2029.8 1197.0,2022.9 1198.5,2027.3 1200.0,2026.7 1201.5,2030.3 1203.0,2033.3 1204.5,2025.2 1206.0,2035.7 1207.5,2028.6 1209.0,2036.9 1210.5,2035.9 1212.0,2035.7 1213.5,2037.4 1215.0,2036.2 1216.5,2036.6 1218.0,2032.8 1219.5,2040.4 1221.0,2048.9 1222.5,2050.1 1224.0,2048.0 1225.5,2045.9 1226.3,2040.2 1227.0,2049.6 1228.5,2043.6 1230.0,2044.0 1231.5,2043.6 1233.0,2045.7 1234.5,2044.0 1236.0,2046.0 1237.5,2042.2 1239.0,2045.7 1240.5,2057.7 1242.0,2048.0 1243.5,2047.7 1245.0,2051.5 1246.5,2052.7 1248.0,2045.1 1249.5,2049.4 1251.0,2054.8 1252.5,2052.2 1254.0,2051.8 1255.5,2058.6 1257.0,2048.4 1258.5,2052.1 1260.0,2049.3 1261.3,2059.0 1261.5,2042.4 1263.0,2048.6 1264.5,2049.2 1266.0,2054.9 1267.5,2054.5 1269.0,2058.2 1270.5,2044.1 1272.0,2054.9 1273.5,2049.9 1275.0,2048.1 1276.5,2053.6 1278.0,2046.7 1279.5,2041.1 1281.0,2049.0 1282.5,2043.6 1284.0,2047.4 1285.5,2052.0 1287.0,2051.6 1288.5,2057.4 1290.0,2049.0 1291.5,2042.6 1293.0,2046.1 1294.5,2045.3 1296.0,2043.8 1297.5,2051.5 1299.0,2046.3 1300.5,2039.9 1302.0,2052.6 1303.5,2048.7 1305.0,2050.9 1305.1,2049.7 1306.5,2052.2 1308.0,2049.4 1309.5,2055.1 1311.0,2051.3 1312.5,2051.2 1314.0,2051.3 1315.5,2042.6 1317.0,2048.7 1318.5,2048.4 1320.0,2050.7 1321.5,2043.4 1323.0,2057.5 1324.5,2050.4 1326.0,2044.3 1327.5,2042.1 1329.0,2048.9 1330.5,2049.9 1332.0,2047.0 1333.5,2050.9 1335.0,2047.5 1336.5,2053.3 1338.0,2047.3 1339.5,2050.6 1341.0,2055.5 1342.5,2063.1 1344.0,2046.1 1345.5,2048.8 1347.0,2047.0 1348.5,2054.8 1348.9,2045.5 1350.0,2048.7 1351.5,2050.7 1353.0,2046.2 1354.5,2046.1 1356.0,2048.1 1357.5,2040.5 1359.0,2043.1 1360.5,2047.4 1362.0,2049.5 1363.5,2047.6 1365.0,2040.2 1366.5,2045.7 1368.0,2051.0 1369.5,2049.7 1371.0,2046.5 1372.5,2042.6 1374.0,2049.6 1375.2,2043.8 1375.5,2041.0 1377.0,2042.8 1378.5,2053.5 1380.0,2047.8 1381.5,2052.3 1383.0,2044.7 1384.5,2051.4 1386.0,2044.4 1387.5,2046.6 1389.0,2059.0 1390.5,2051.2 1392.0,2045.5 1393.5,2047.6 1395.0,2049.7 1396.5,2054.0 1398.0,2046.4 1399.5,2040.8 1401.0,2047.7 1402.5,2049.3 1404.0,2049.9 1405.5,2055.7 1407.0,2051.2 1408.5,2053.7 1410.0,2045.0 1410.2,2054.1 1411.5,2060.0 1413.0,2054.0 1414.5,2051.7 1416.0,2051.4 1417.5,2059.1 1419.0,2046.6 1420.5,2050.5 1422.0,2053.3 1423.5,2054.8 1425.0,2049.4 1426.5,2053.0 1428.0,2050.4 1429.5,2052.4 1431.0,2051.4 1432.5,2046.8 1434.0,2052.1 1435.5,2056.5 1437.0,2048.0 1438.5,2051.5 1440.0,2055.9 1441.5,2048.0 1443.0,2054.0 1444.5,2048.4 1446.0,2058.7 1447.5,2064.4 1449.0,2063.2 1450.5,2053.1 1452.0,2057.7 1453.5,2055.0 1455.0,2055.0 1456.5,2061.9 1458.0,2048.3 1458.2,2059.6 1459.5,2054.1 1461.0,2058.4 1462.5,2052.2 1464.0,2047.4 1465.5,2048.6 1467.0,2048.4 1467.3,2045.6 1468.5,2046.0 1470.0,2040.9 1471.5,2033.6 1473.0,2043.1 1474.5,2040.8 1476.0,2037.2 1477.5,2035.2 1479.0,2036.6 1480.5,2029.6 1481.8,2026.9 1482.0,2028.2 1483.5,2029.2 1485.0,2018.7 1486.5,2021.4 1488.0,2012.7 1489.5,2007.5 1490.9,2010.9 1491.0,2006.8 1492.5,2000.2 1494.0,1999.2 1495.5,1999.3 1497.0,1997.4 1498.5,1990.1 1500.0,1992.8 1501.5,1994.2 1503.0,1990.3 1504.5,1995.7 1506.0,1996.7 1507.5,1997.5 1509.0,2000.1 1509.1,2002.0 1510.5,2004.4 1512.0,2006.0 1513.5,2010.0 1515.0,2017.7 1516.5,2018.9 1518.0,2024.1 1518.2,2025.4 1519.5,2026.1 1521.0,2033.9 1522.5,2026.9 1524.0,2034.5 1525.5,2033.3 1527.0,2042.5 1528.5,2044.4 1529.2,2034.0 1530.0,2038.4 1531.5,2046.0 1533.0,2048.9 1534.5,2051.4 1536.0,2051.3 1537.5,2055.1 1539.0,2057.7 1540.1,2056.1 1540.5,2060.6 1542.0,2049.2 1543.5,2061.4 1545.0,2056.0 1546.5,2064.9 1548.0,2061.1 1549.5,2059.3 1551.0,2065.2 1552.5,2060.4 1554.0,2060.8 1555.5,2058.2 1557.0,2065.3 1558.3,2067.9 1558.5,2070.4 1560.0,2064.8 1561.5,2070.3 1563.0,2065.3 1564.5,2064.6 1566.0,2067.4 1567.5,2069.4 1569.0,2062.7 1570.5,2062.9 1572.0,2062.9 1573.5,2063.6 1575.0,2058.9 1576.5,2066.9 1578.0,2060.2 1578.3,2063.9 1579.5,2058.0 1581.0,2062.0 1582.5,2060.9 1584.0,2056.6 1585.5,2064.2 1587.0,2056.8 1588.5,2060.7 1590.0,2056.6 1591.5,2049.2 1593.0,2049.6 1594.5,2053.1 1594.7,2051.3 1596.0,2051.3 1597.5,2049.9 1599.0,2043.4 1600.5,2050.9 1602.0,2042.7 1603.5,2054.4 1605.0,2050.3 1606.5,2050.9 1608.0,2053.6 1609.5,2056.3 1611.0,2049.6 1612.5,2048.7 1612.9,2051.8 1614.0,2048.0 1615.5,2053.2 1617.0,2064.7 1618.5,2054.0 1620.0,2061.9 1621.5,2054.0 1623.0,2061.7 1624.5,2059.7 1626.0,2061.5 1627.5,2064.8 1629.0,2070.4 1630.5,2064.5 1632.0,2064.9 1633.5,2060.9 1635.0,2068.0 1636.5,2065.1 1638.0,2070.3 1639.5,2067.0 1640.1,2074.9 1641.0,2059.1 1642.5,2066.9 1644.0,2072.5 1645.5,2067.7 1647.0,2066.4 1648.5,2069.2 1650.0,2064.9 1651.5,2071.9 1653.0,2082.4 1654.5,2077.3 1656.0,2067.9 1657.5,2069.3 1659.0,2071.7 1660.5,2078.4 1662.0,2070.4 1663.5,2071.2 1665.0,2078.6 1666.5,2078.7 1667.4,2072.8 1668.0,2069.3 1669.5,2067.2 1671.0,2071.2 1672.5,2064.0 1674.0,2077.7 1675.5,2071.2 1677.0,2076.1 1678.5,2082.3 1680.0,2078.9 1681.5,2068.0 1683.0,2077.0 1684.5,2078.1 1686.0,2069.2 1687.5,2068.0 1689.0,2071.6 1690.5,2064.6 1692.0,2078.5 1693.5,2060.4 1695.0,2066.2 1696.5,2070.0 1698.0,2070.1 1699.5,2071.8 1701.0,2072.3 1702.0,2070.0 1702.5,2076.5 1704.0,2060.7 1705.5,2071.0 1707.0,2067.6 1708.0,2071.6"/>
<polyline fill="none" stroke="#333333" stroke-width="8.5" stroke-linejoin="round" stroke-linecap="butt" shape-rendering="crispEdges" points="165.0,1825.9 166.5,1827.8 166.7,1827.6 168.0,1832.3 169.5,1823.4 171.0,1833.1 172.5,1829.7 174.0,1838.1 175.5,1838.5 177.0,1840.5 178.5,1837.8 180.0,1834.2 181.5,1838.4 183.0,1841.4 184.5,1831.9 186.0,1837.7 187.5,1834.9 189.0,1841.7 190.5,1831.7 192.0,1834.3 193.5,1837.4 195.0,1837.1 196.5,1828.9 198.0,1837.9 199.5,1835.9 201.0,1835.6 202.5,1836.1 204.0,1837.9 205.5,1829.0 207.0,1844.2 208.5,1833.6 210.0,1827.6 211.5,1837.3 213.0,1844.4 213.9,1835.6 214.5,1844.9 216.0,1845.0 217.5,1834.3 219.0,1827.2 220.5,1832.9 222.0,1843.8 223.5,1834.9 225.0,1831.9 226.5,1832.8 228.0,1838.9 229.5,1838.9 231.0,1843.1 232.5,1843.7 234.0,1835.1 235.5,1838.7 237.0,1834.4 238.5,1840.0 240.0,1834.6 241.5,1834.5 243.0,1849.5 244.5,1840.2 246.0,1843.1 247.5,1851.7 249.0,1843.9 250.5,1840.0 252.0,1840.8 253.5,1837.4 255.0,1845.7 256.5,1839.5 258.0,1849.0 259.5,1839.6 261.0,1839.7 262.5,1839.6 264.0,1844.4 265.5,1842.5 267.0,1847.9 267.8,1839.4 268.5,1843.3 270.0,1850.7 271.5,1841.2 273.0,1844.8 274.5,1849.6 276.0,1845.3 277.5,1840.3 279.0,1834.3 280.5,1854.0 282.0,1845.7 283.5,1849.5 285.0,1842.2 286.5,1852.5 288.0,1847.0 289.5,1845.3 291.0,1841.4 292.5,1847.2 294.0,1843.7 295.5,1845.1 297.0,1839.2 298.5,1844.4 300.0,1847.5 301.5,1841.5 303.0,1847.5 304.5,1850.3 306.0,1846.3 307.5,1845.0 309.0,1845.2 310.5,1852.3 312.0,1841.4 313.5,1847.0 315.0,1846.6 316.5,1849.2 318.0,1848.3 319.5,1843.6 321.0,1858.1 321.7,1849.5 322.5,1842.5 324.0,1844.6 325.5,1849.1 327.0,1851.5 328.5,1842.5 330.0,1851.9 331.5,1842.3 333.0,1845.0 334.5,1852.5 336.0,1856.3 337.5,1848.1 339.0,1847.1 340.5,1854.3 342.0,1843.5 343.5,1849.7 345.0,1849.4 346.5,1852.9 348.0,1849.6 349.5,1847.0 351.0,1851.0 352.5,1843.0 354.0,1851.8 355.5,1845.0 357.0,1843.9 358.5,1846.3 360.0,1848.1 361.5,1851.1 363.0,1846.8 364.5,1851.1 366.0,1852.1 367.5,1847.1 369.0,1843.1 370.5,1851.7 372.0,1848.7 373.5,1837.8 375.0,1842.8 375.6,1848.0 376.5,1841.0 378.0,1844.1 379.5,1839.4 381.0,1848.9 382.5,1848.1 384.0,1847.8 385.5,1853.4 387.0,1845.2 388.5,1845.4 390.0,1855.8 391.5,1840.7 393.0,1849.8 394.5,1840.5 396.0,1847.4 397.5,1855.8 399.0,1847.4 400.5,1842.6 402.0,1856.7 403.5,1843.4 405.0,1844.8 406.5,1847.0 408.0,1839.5 409.5,1850.4 411.0,1852.5 412.5,1848.5 414.0,1846.5 415.5,1844.2 417.0,1848.7 418.5,1830.6 420.0,1843.9 421.5,1845.4 423.0,1835.3 424.5,1845.8 426.0,1843.2 427.5,1843.4 429.0,1843.8 429.5,1845.8 430.5,1845.2 432.0,1838.4 433.5,1842.2 435.0,1841.6 436.5,1842.3 438.0,1839.2 439.5,1845.4 441.0,1846.4 442.5,1846.7 444.0,1847.7 445.5,1845.3 447.0,1836.8 448.5,1835.5 450.0,1835.6 451.1,1838.6 451.5,1835.8 453.0,1838.2 454.5,1838.0 456.0,1829.2 457.5,1830.1 459.0,1823.0 460.5,1817.1 461.9,1813.3 462.0,1815.3 463.5,1806.9 465.0,1804.0 466.5,1796.7 467.3,1787.7 468.0,1784.0 469.5,1773.2 471.0,1757.5 471.3,1754.5 472.5,1741.8 474.0,1727.3 475.4,1714.3 475.5,1711.7 477.0,1699.4 478.5,1690.0 479.4,1693.5 480.0,1689.8 481.5,1691.7 482.9,1688.3 483.0,1680.5 484.5,1689.2 486.0,1696.4 487.5,1698.8 489.0,1706.9 490.5,1719.3 492.0,1724.3 492.9,1731.3 493.5,1738.4 495.0,1749.2 496.5,1759.7 498.0,1769.2 498.3,1774.0 499.5,1781.5 501.0,1787.9 502.5,1793.3 504.0,1801.0 505.0,1801.0 505.5,1799.2 507.0,1810.2 508.5,1804.4 510.0,1810.0 511.5,1812.1 513.0,1819.2 513.1,1810.6 514.5,1813.0 516.0,1807.0 517.5,1816.4 519.0,1817.1 520.5,1818.3 522.0,1811.8 523.5,1817.2 523.9,1812.6 525.0,1814.7 526.5,1817.0 528.0,1823.1 529.5,1817.1 531.0,1820.3 532.5,1817.3 534.0,1819.3 535.5,1819.8 537.0,1822.8 538.5,1827.3 540.0,1821.2 541.5,1829.1 542.7,1823.4 543.0,1828.5 544.5,1826.1 546.0,1828.0 547.5,1828.7 549.0,1835.3 550.5,1833.1 552.0,1837.2 553.5,1832.8 555.0,1834.3 556.5,1842.3 558.0,1831.0 558.9,1834.5 559.5,1837.5 561.0,1846.1 562.5,1838.0 564.0,1844.3 565.5,1848.3 567.0,1842.3 568.5,1843.4 570.0,1851.4 571.5,1843.5 573.0,1842.3 574.5,1850.5 576.0,1845.9 577.5,1853.8 579.0,1851.6 580.5,1843.1 582.0,1851.9 583.5,1851.5 585.0,1849.4 586.5,1857.2 588.0,1846.1 589.5,1848.7 591.0,1852.4 592.5,1858.2 593.9,1849.0 594.0,1852.8 595.5,1852.9 597.0,1850.1 598.5,1855.3 600.0,1852.6 601.5,1856.0 603.0,1859.6 604.5,1855.1 606.0,1855.7 607.5,1855.6 609.0,1856.6 610.5,1853.9 612.0,1855.9 613.5,1861.8 615.0,1857.7 616.5,1876.2 618.0,1858.2 619.5,1864.1 620.9,1855.1 621.0,1860.8 622.5,1859.5 624.0,1861.5 625.5,1867.7 627.0,1860.8 628.5,1856.1 630.0,1861.6 631.5,1856.7 633.0,1860.0 634.5,1867.0 636.0,1863.8 637.5,1864.0 639.0,1861.2 640.5,1858.5 642.0,1851.7 643.5,1855.7 645.0,1855.0 646.5,1859.6 648.0,1860.4 649.5,1857.8 651.0,1852.0 652.5,1862.7 654.0,1860.5 655.5,1853.2 657.0,1854.6 658.5,1856.1 660.0,1853.5 661.3,1852.4 661.5,1854.9 663.0,1852.5 664.5,1853.1 666.0,1844.9 667.5,1844.7 669.0,1858.8 670.5,1844.4 672.0,1852.8 673.5,1851.8 675.0,1851.0 676.5,1846.8 678.0,1853.9 679.5,1850.7 681.0,1847.4 682.5,1842.5 684.0,1847.3 685.5,1845.4 687.0,1842.3 688.5,1849.1 690.0,1849.7 691.5,1850.6 693.0,1847.2 694.5,1845.4 696.0,1851.3 697.5,1849.5 699.0,1856.1 700.5,1848.2 702.0,1841.4 703.5,1849.7 705.0,1855.7 706.5,1846.4 708.0,1844.2 709.5,1842.3 711.0,1853.6 712.5,1844.0 714.0,1843.7 715.2,1846.3 715.5,1838.3 717.0,1843.6 718.5,1839.1 720.0,1844.3 721.5,1847.3 723.0,1849.3 724.5,1843.2 726.0,1848.9 727.5,1843.5 729.0,1837.9 730.5,1848.0 732.0,1844.6 733.5,1846.2 735.0,1834.0 736.5,1846.9 738.0,1847.2 739.5,1847.3 741.0,1851.0 742.5,1844.8 744.0,1856.2 745.5,1850.0 747.0,1849.4 748.5,1835.9 750.0,1838.4 751.5,1854.1 753.0,1849.3 754.5,1851.9 756.0,1846.2 757.5,1847.5 759.0,1850.8 760.5,1844.8 762.0,1854.4 763.5,1843.7 765.0,1849.8 766.5,1847.8 768.0,1850.7 769.1,1854.8 769.5,1844.3 771.0,1851.5 772.5,1850.1 774.0,1853.5 775.5,1849.8 777.0,1847.9 778.5,1852.5 780.0,1856.4 781.5,1854.3 783.0,1851.6 784.5,1853.0 786.0,1844.5 787.5,1849.1 789.0,1850.6 790.5,1849.5 792.0,1849.0 793.5,1852.1 795.0,1854.3 796.5,1861.3 798.0,1849.8 799.5,1849.1 801.0,1857.7 802.5,1854.1 804.0,1849.6 805.5,1860.6 807.0,1853.0 808.5,1852.6 810.0,1851.4 811.5,1850.2 813.0,1854.8 814.5,1850.2 816.0,1865.7 817.5,1856.1 819.0,1853.5 820.5,1851.1 822.0,1855.9 823.0,1859.3 823.5,1855.8 825.0,1849.4 826.5,1853.6 828.0,1846.8 829.5,1861.1 831.0,1857.7 832.5,1855.5 834.0,1855.8 835.5,1851.9 837.0,1853.7 838.5,1858.7 840.0,1854.1 841.5,1856.9 843.0,1855.2 844.5,1855.2 846.0,1855.5 847.5,1858.7 849.0,1852.6 850.5,1857.0 852.0,1850.2 853.5,1851.1 855.0,1850.4 856.5,1857.4 858.0,1852.1 859.5,1858.9 861.0,1848.7 862.5,1854.9 864.0,1847.9 865.5,1858.0 867.0,1849.7 868.5,1854.8 870.0,1849.5 871.5,1849.0 873.0,1853.4 874.5,1844.5 876.0,1846.7 876.9,1858.7 877.5,1848.3 879.0,1855.0 880.5,1847.6 882.0,1843.9 883.5,1848.3 885.0,1852.6 886.5,1848.3 888.0,1846.4 889.5,1850.0 891.0,1842.9 892.5,1847.7 894.0,1845.3 895.5,1839.3 897.0,1846.4 898.5,1846.7 900.0,1840.6 901.5,1841.8 903.0,1839.9 903.9,1836.0 904.5,1844.7 906.0,1836.4 907.5,1843.5 909.0,1838.6 910.5,1836.4 912.0,1843.9 913.5,1842.2 915.0,1849.6 916.5,1840.8 918.0,1841.8 919.5,1841.7 920.0,1840.0 921.0,1847.2 922.5,1848.0 924.0,1844.2 925.5,1836.5 927.0,1843.0 928.5,1841.1 930.0,1838.7 931.5,1833.7 933.0,1844.4 934.5,1845.7 936.0,1841.6 937.5,1842.0 939.0,1847.6 940.5,1848.1 942.0,1840.4 943.5,1826.7 945.0,1842.1 946.5,1839.4 948.0,1841.5 949.5,1836.0 950.3,1833.8 951.0,1840.2 952.5,1836.5 954.0,1837.9 955.5,1838.8 957.0,1837.1 958.5,1830.2 960.0,1838.1 961.5,1833.1 963.0,1833.7 964.5,1835.7 966.0,1827.5 967.5,1831.6 969.0,1824.7 970.5,1829.0 972.0,1831.7 973.5,1829.0 975.0,1827.7 976.5,1830.1 976.6,1826.2 978.0,1820.9 979.5,1829.6 981.0,1825.2 982.5,1825.8 984.0,1820.1 985.5,1818.4 987.0,1815.7 988.5,1810.0 990.0,1812.9 990.8,1811.4 991.5,1817.4 993.0,1804.4 994.5,1808.0 996.0,1804.8 997.5,1802.4 999.0,1799.3 1000.5,1797.3 1002.0,1795.8 1003.5,1785.8 1004.9,1789.1 1005.0,1786.0 1006.5,1780.6 1008.0,1774.6 1009.5,1770.5 1011.0,1769.9 1012.5,1762.8 1014.0,1757.7 1015.0,1755.6 1015.5,1754.8 1017.0,1747.8 1018.5,1739.9 1020.0,1734.1 1021.1,1730.0 1021.5,1726.6 1023.0,1722.7 1024.5,1715.9 1026.0,1710.0 1027.1,1703.2 1027.5,1702.3 1029.0,1697.8 1030.5,1702.0 1032.0,1694.2 1033.5,1702.5 1035.0,1684.6 1035.2,1694.7 1036.5,1696.1 1038.0,1695.5 1039.5,1699.3 1041.0,1705.8 1042.5,1702.6 1043.3,1706.4 1044.0,1704.5 1045.5,1706.9 1047.0,1712.5 1048.5,1722.0 1050.0,1726.4 1051.4,1727.2 1051.5,1731.4 1053.0,1736.9 1054.5,1741.6 1056.0,1748.0 1057.5,1747.0 1059.0,1752.4 1060.5,1755.9 1061.5,1761.2 1062.0,1765.5 1063.5,1763.6 1065.0,1768.6 1066.5,1772.8 1068.0,1771.1 1069.5,1777.2 1071.0,1776.0 1071.6,1783.0 1072.5,1782.8 1074.0,1777.8 1075.5,1778.8 1077.0,1788.6 1078.5,1780.0 1080.0,1788.5 1081.5,1783.8 1083.0,1781.9 1084.5,1793.8 1086.0,1789.8 1087.5,1785.0 1089.0,1788.9 1090.5,1787.8 1091.8,1787.5 1092.0,1791.0 1093.5,1796.5 1095.0,1787.4 1096.5,1795.6 1098.0,1788.7 1099.5,1794.8 1101.0,1790.1 1102.5,1791.1 1104.0,1794.4 1105.5,1801.7 1107.0,1801.7 1108.5,1798.4 1110.0,1798.2 1111.5,1800.5 1113.0,1812.2 1114.5,1802.5 1116.0,1801.0 1117.5,1800.0 1119.0,1801.2 1120.5,1805.5 1122.0,1805.7 1122.1,1793.1 1123.5,1812.6 1125.0,1805.8 1126.5,1803.8 1128.0,1816.1 1129.5,1798.0 1131.0,1799.5 1132.5,1810.1 1134.0,1805.5 1135.5,1809.6 1137.0,1811.3 1138.5,1814.1 1140.0,1809.3 1141.5,1803.8 1143.0,1799.4 1144.5,1807.6 1146.0,1799.5 1147.5,1807.7 1149.0,1804.2 1150.5,1809.6 1152.0,1811.3 1152.5,1808.2 1153.5,1802.6 1155.0,1809.5 1156.5,1806.1 1158.0,1810.8 1159.5,1807.9 1161.0,1820.2 1162.5,1808.2 1164.0,1802.7 1165.5,1807.4 1167.0,1812.0 1168.5,1823.8 1170.0,1818.4 1171.5,1810.5 1172.7,1813.4 1173.0,1808.5 1174.5,1808.0 1176.0,1818.4 1177.5,1816.9 1179.0,1812.9 1180.5,1813.7 1182.0,1819.0 1183.5,1820.8 1185.0,1815.8 1186.5,1813.1 1188.0,1824.1 1189.5,1818.6 1191.0,1815.3 1192.5,1822.5 1192.9,1824.3 1194.0,1827.8 1195.5,1823.5 1197.0,1827.3 1198.5,1822.8 1200.0,1830.3 1201.5,1824.2 1203.0,1833.3 1204.5,1832.9 1206.0,1827.7 1207.5,1832.0 1209.0,1841.8 1210.0,1831.8 1210.5,1829.7 1212.0,1835.8 1213.5,1838.2 1215.0,1841.5 1216.5,1838.2 1218.0,1837.6 1219.5,1839.2 1220.2,1843.5 1221.0,1840.4 1222.5,1844.2 1224.0,1836.9 1225.5,1843.4 1227.0,1845.8 1228.5,1851.2 1230.0,1850.8 1231.5,1851.5 1233.0,1856.0 1234.5,1854.4 1236.0,1866.4 1237.5,1853.3 1239.0,1858.3 1240.4,1865.8 1240.5,1861.8 1242.0,1861.0 1243.5,1864.6 1245.0,1859.9 1246.5,1863.0 1248.0,1864.1 1249.5,1871.9 1251.0,1866.3 1252.5,1874.1 1254.0,1866.4 1255.5,1868.2 1257.0,1860.7 1258.5,1870.9 1260.0,1860.4 1260.6,1871.8 1261.5,1873.3 1263.0,1871.3 1264.5,1865.6 1266.0,1869.3 1267.5,1859.6 1269.0,1868.2 1270.5,1872.6 1272.0,1872.0 1273.5,1870.6 1275.0,1878.3 1276.5,1874.3 1278.0,1872.8 1279.5,1873.8 1280.9,1868.0 1281.0,1872.1 1282.5,1863.9 1284.0,1860.3 1285.5,1871.1 1287.0,1876.7 1288.5,1867.5 1290.0,1873.9 1291.5,1864.3 1293.0,1871.6 1294.5,1871.6 1296.0,1871.2 1297.5,1864.7 1299.0,1873.1 1300.5,1873.5 1302.0,1872.6 1303.5,1879.9 1305.0,1868.2 1306.5,1870.3 1308.0,1874.6 1309.5,1863.1 1311.0,1864.8 1311.2,1873.7 1312.5,1867.2 1314.0,1865.0 1315.5,1870.6 1317.0,1862.2 1318.5,1868.8 1320.0,1863.4 1321.5,1865.0 1323.0,1855.8 1324.5,1868.6 1326.0,1868.7 1327.5,1866.7 1329.0,1864.4 1330.5,1868.3 1332.0,1873.8 1333.5,1871.0 1335.0,1863.7 1336.5,1867.9 1338.0,1865.5 1339.5,1869.0 1341.0,1862.8 1342.5,1872.9 1344.0,1862.6 1345.5,1861.4 1347.0,1867.2 1348.5,1872.7 1350.0,1857.9 1351.5,1865.2 1351.6,1867.7 1353.0,1875.9 1354.5,1858.0 1356.0,1867.7 1357.5,1859.6 1359.0,1860.2 1360.5,1864.1 1362.0,1859.6 1363.5,1853.2 1365.0,1856.6 1366.5,1855.1 1368.0,1856.6 1369.5,1851.3 1371.0,1851.9 1371.8,1853.3 1372.5,1854.9 1374.0,1853.9 1375.5,1856.5 1377.0,1857.4 1378.5,1855.9 1380.0,1851.3 1381.5,1847.2 1383.0,1850.1 1384.5,1851.0 1386.0,1852.8 1387.5,1858.1 1389.0,1853.5 1390.5,1849.4 1392.0,1847.7 1393.5,1853.1 1395.0,1852.4 1396.5,1848.7 1398.0,1846.0 1399.5,1851.9 1401.0,1855.3 1402.1,1854.4 1402.5,1846.8 1404.0,1851.5 1405.5,1852.6 1407.0,1849.1 1408.5,1853.1 1410.0,1850.6 1411.5,1857.8 1413.0,1850.6 1414.5,1861.1 1416.0,1858.4 1417.5,1855.6 1419.0,1855.1 1420.5,1860.5 1422.0,1852.5 1423.5,1856.1 1425.0,1853.2 1426.5,1861.4 1428.0,1853.1 1429.5,1853.3 1431.0,1842.5 1432.5,1855.7 1434.0,1853.0 1435.5,1857.2 1437.0,1848.0 1438.5,1850.7 1440.0,1860.7 1441.5,1851.2 1442.6,1855.6 1443.0,1858.9 1444.5,1855.0 1446.0,1854.7 1447.5,1859.3 1449.0,1851.5 1450.5,1855.8 1452.0,1851.8 1453.5,1847.8 1455.0,1852.3 1456.5,1857.3 1458.0,1850.6 1459.5,1848.0 1461.0,1849.9 1462.5,1848.6 1462.8,1853.1 1464.0,1846.2 1465.5,1854.9 1467.0,1852.7 1468.5,1856.5 1470.0,1848.8 1471.5,1854.7 1473.0,1846.2 1474.5,1851.7 1476.0,1847.5 1477.5,1843.1 1479.0,1848.2 1480.5,1848.8 1482.0,1848.2 1482.9,1842.7 1483.5,1839.7 1485.0,1841.3 1486.5,1831.3 1488.0,1830.1 1489.5,1822.1 1491.0,1823.8 1492.5,1822.1 1494.0,1818.0 1495.5,1821.6 1497.0,1816.4 1497.5,1819.1 1498.5,1819.3 1500.0,1816.9 1501.5,1808.1 1503.0,1817.4 1504.5,1820.6 1506.0,1817.2 1507.2,1822.0 1507.5,1816.3 1509.0,1825.3 1510.5,1826.3 1512.0,1826.7 1513.5,1824.7 1515.0,1828.7 1516.5,1824.4 1518.0,1827.4 1519.5,1833.0 1521.0,1830.3 1522.5,1833.0 1523.4,1834.6 1524.0,1839.0 1525.5,1833.7 1527.0,1835.2 1528.5,1835.8 1530.0,1833.3 1531.5,1841.2 1533.0,1833.9 1534.5,1839.6 1536.0,1848.5 1537.5,1844.6 1539.0,1836.9 1539.5,1842.0 1540.5,1852.8 1542.0,1846.4 1543.5,1855.4 1545.0,1847.3 1546.5,1841.0 1548.0,1852.3 1549.5,1851.2 1551.0,1853.9 1552.5,1849.1 1554.0,1849.3 1554.1,1851.4 1555.5,1849.7 1557.0,1858.2 1558.5,1859.7 1560.0,1854.2 1561.5,1859.5 1563.0,1852.3 1563.8,1854.0 1564.5,1848.2 1566.0,1859.6 1567.5,1851.7 1569.0,1856.2 1570.5,1854.2 1572.0,1849.8 1573.5,1847.0 1575.0,1841.0 1575.1,1847.2 1576.5,1844.7 1578.0,1844.4 1579.5,1839.9 1581.0,1832.9 1582.5,1831.1 1584.0,1835.8 1585.5,1836.4 1587.0,1828.4 1588.1,1828.0 1588.5,1829.0 1590.0,1827.1 1591.5,1826.0 1593.0,1822.6 1594.5,1822.9 1596.0,1819.0 1597.5,1820.0 1599.0,1823.1 1599.4,1820.3 1600.5,1817.3 1602.0,1821.7 1603.5,1816.6 1605.0,1819.2 1606.5,1818.5 1608.0,1824.5 1609.5,1826.8 1610.7,1823.4 1611.0,1821.5 1612.5,1827.7 1614.0,1827.7 1615.5,1821.8 1617.0,1832.4 1618.5,1833.2 1620.0,1829.8 1621.5,1831.4 1623.0,1832.2 1624.5,1831.5 1626.0,1835.9 1626.9,1831.6 1627.5,1833.5 1629.0,1835.9 1630.5,1828.9 1632.0,1834.2 1633.5,1831.7 1635.0,1835.4 1636.5,1835.6 1638.0,1837.3 1639.5,1839.0 1641.0,1834.3 1642.5,1840.2 1643.1,1831.4 1644.0,1843.2 1645.5,1838.8 1647.0,1842.8 1648.5,1830.8 1650.0,1845.7 1651.5,1838.3 1653.0,1841.2 1654.5,1840.2 1656.0,1839.5 1657.5,1837.8 1659.0,1831.1 1660.5,1845.7 1662.0,1848.6 1663.5,1837.9 1664.1,1846.5 1665.0,1844.9 1666.5,1842.8 1668.0,1841.4 1669.5,1845.1 1671.0,1841.0 1672.5,1843.1 1674.0,1843.2 1675.5,1843.3 1677.0,1844.8 1678.5,1850.1 1680.0,1851.0 1681.5,1845.2 1683.0,1848.5 1683.5,1848.0 1684.5,1841.1 1686.0,1853.4 1687.5,1843.6 1689.0,1852.3 1690.5,1837.7 1692.0,1843.3 1693.5,1848.6 1695.0,1846.6 1696.5,1846.2 1698.0,1843.4 1699.5,1851.8 1701.0,1843.1 1702.5,1844.2 1702.9,1839.3 1704.0,1839.0 1705.5,1849.0 1707.0,1849.0 1708.0,1834.3"/>
<line x1="481.5" y1="68" x2="481.5" y2="1163" stroke="#FF0000" stroke-width="5" stroke-dasharray="25.5 21" stroke-linecap="butt"/>
<line x1="529.5" y1="69" x2="529.5" y2="1163.8" stroke="#FF0000" stroke-width="5" stroke-dasharray="25.5 21" stroke-linecap="butt"/>
<line x1="1064" y1="72" x2="1064" y2="1166.8" stroke="#FF0000" stroke-width="6" stroke-dasharray="25.5 21" stroke-linecap="butt"/>
<line x1="1513" y1="76" x2="1513" y2="1170.8" stroke="#FF0000" stroke-width="6" stroke-dasharray="25.5 21" stroke-linecap="butt"/>
<line x1="1607" y1="160" x2="1607" y2="1192.9" stroke="#FF0000" stroke-width="6" stroke-dasharray="25.5 21" stroke-linecap="butt"/>
<line x1="482" y1="1561" x2="482" y2="2736.6" stroke="#FF0000" stroke-width="6" stroke-dasharray="25.5 21" stroke-linecap="butt"/>
<line x1="519.5" y1="1561" x2="519.5" y2="2735.8" stroke="#FF0000" stroke-width="5" stroke-dasharray="25.5 21" stroke-linecap="butt"/>
<line x1="1037.5" y1="1557" x2="1037.5" y2="2732.7" stroke="#FF0000" stroke-width="5" stroke-dasharray="25.5 21" stroke-linecap="butt"/>
<line x1="1497.5" y1="1560" x2="1497.5" y2="2735.7" stroke="#FF0000" stroke-width="5" stroke-dasharray="25.5 21" stroke-linecap="butt"/>
<g filter="url(#crisp)">
<text transform="translate(105.51 1318.15) scale(0.6114 0.6465)" font-family="Liberation Sans, Arial, sans-serif" font-size="100" font-weight="400" fill="#000">1200</text>
<text transform="translate(414.11 1318.15) scale(0.6114 0.6465)" font-family="Liberation Sans, Arial, sans-serif" font-size="100" font-weight="400" fill="#000">1000</text>
<text transform="translate(740.75 1318.15) scale(0.6114 0.6465)" font-family="Liberation Sans, Arial, sans-serif" font-size="100" font-weight="400" fill="#000">800</text>
<text transform="translate(1049.04 1318.15) scale(0.6114 0.6465)" font-family="Liberation Sans, Arial, sans-serif" font-size="100" font-weight="400" fill="#000">600</text>
<text transform="translate(1358.56 1318.15) scale(0.6114 0.6465)" font-family="Liberation Sans, Arial, sans-serif" font-size="100" font-weight="400" fill="#000">400</text>
<text transform="translate(1666.24 1318.15) scale(0.6114 0.6465)" font-family="Liberation Sans, Arial, sans-serif" font-size="100" font-weight="400" fill="#000">200</text>
<text transform="translate(96.51 2836.15) scale(0.6114 0.6465)" font-family="Liberation Sans, Arial, sans-serif" font-size="100" font-weight="400" fill="#000">1200</text>
<text transform="translate(405.11 2836.15) scale(0.6114 0.6465)" font-family="Liberation Sans, Arial, sans-serif" font-size="100" font-weight="400" fill="#000">1000</text>
<text transform="translate(731.75 2836.15) scale(0.6114 0.6465)" font-family="Liberation Sans, Arial, sans-serif" font-size="100" font-weight="400" fill="#000">800</text>
<text transform="translate(1040.04 2836.15) scale(0.6114 0.6465)" font-family="Liberation Sans, Arial, sans-serif" font-size="100" font-weight="400" fill="#000">600</text>
<text transform="translate(1349.56 2836.15) scale(0.6114 0.6465)" font-family="Liberation Sans, Arial, sans-serif" font-size="100" font-weight="400" fill="#000">400</text>
<text transform="translate(1657.24 2836.15) scale(0.6114 0.6465)" font-family="Liberation Sans, Arial, sans-serif" font-size="100" font-weight="400" fill="#000">200</text>
<text transform="translate(99.50 1029.97) rotate(-90) scale(0.7936 0.8000)" font-family="Liberation Sans, Arial, sans-serif" font-size="100" fill="#000">Scattering intensity (a.u.)</text>
<text transform="translate(82.50 2592.47) rotate(-90) scale(0.7936 0.8000)" font-family="Liberation Sans, Arial, sans-serif" font-size="100" fill="#000">Scattering intensity (a.u.)</text>
<text transform="translate(619.65 1426.00) scale(0.7938 0.8000)" font-family="Liberation Sans, Arial, sans-serif" font-size="100" font-weight="400" fill="#000">Raman shift (cm</text>
<text transform="translate(1195.27 1395.08) scale(0.6080 0.6250)" font-family="Liberation Sans, Arial, sans-serif" font-size="100" font-weight="400" fill="#000">-</text>
<text transform="translate(1215.07 1392.80) scale(0.4419 0.5638)" font-family="Liberation Sans, Arial, sans-serif" font-size="100" font-weight="400" fill="#000">1</text>
<text transform="translate(1246.17 1426.00) scale(0.7269 0.7850)" font-family="Liberation Sans, Arial, sans-serif" font-size="100" font-weight="400" fill="#000">)</text>
<text transform="translate(611.65 2938.00) scale(0.7938 0.8000)" font-family="Liberation Sans, Arial, sans-serif" font-size="100" font-weight="400" fill="#000">Raman shift (cm</text>
<text transform="translate(1187.27 2907.07) scale(0.6080 0.6250)" font-family="Liberation Sans, Arial, sans-serif" font-size="100" font-weight="400" fill="#000">-</text>
<text transform="translate(1207.07 2904.80) scale(0.4419 0.5638)" font-family="Liberation Sans, Arial, sans-serif" font-size="100" font-weight="400" fill="#000">1</text>
<text transform="translate(1238.17 2938.00) scale(0.7269 0.7850)" font-family="Liberation Sans, Arial, sans-serif" font-size="100" font-weight="400" fill="#000">)</text>
<text transform="translate(259.33 193.00) scale(0.5095 0.5392)" font-family="Liberation Sans, Arial, sans-serif" font-size="100" font-weight="700" fill="#000">Pd3-N</text>
<text transform="translate(253.15 395.00) scale(0.5211 0.5392)" font-family="Liberation Sans, Arial, sans-serif" font-size="100" font-weight="700" fill="#000">Pd3-TA</text>
<text transform="translate(257.36 790.90) scale(0.5062 0.5378)" font-family="Liberation Sans, Arial, sans-serif" font-size="100" font-weight="700" fill="#000">Re5-N</text>
<text transform="translate(255.33 1061.90) scale(0.5095 0.5349)" font-family="Liberation Sans, Arial, sans-serif" font-size="100" font-weight="700" fill="#000">Re5-H</text>
<text transform="translate(1149.07 1769.90) scale(0.5045 0.5349)" font-family="Liberation Sans, Arial, sans-serif" font-size="100" font-weight="700" fill="#000">Pd3Re5-Cl</text>
<text transform="translate(1145.45 1983.90) scale(0.5069 0.5392)" font-family="Liberation Sans, Arial, sans-serif" font-size="100" font-weight="700" fill="#000">Re5Pd3N-SI</text>
<text transform="translate(1092.15 2213.00) scale(0.5069 0.5392)" font-family="Liberation Sans, Arial, sans-serif" font-size="100" font-weight="700" fill="#000">Re5Pd3-SI (400)</text>
<text transform="translate(1150.37 2490.00) scale(0.5050 0.5407)" font-family="Liberation Sans, Arial, sans-serif" font-size="100" font-weight="700" fill="#000">Pd3Re5-SI</text>
<text transform="translate(1577.06 123.80) scale(0.9472 0.9982)" font-family="Liberation Sans, Arial, sans-serif" font-size="100" font-weight="700" fill="#000">a</text>
<text transform="translate(1525.86 1680.90) scale(1.0200 1.0123)" font-family="Liberation Sans, Arial, sans-serif" font-size="100" font-weight="700" fill="#000">b</text>
</g>
</svg></body></html>
